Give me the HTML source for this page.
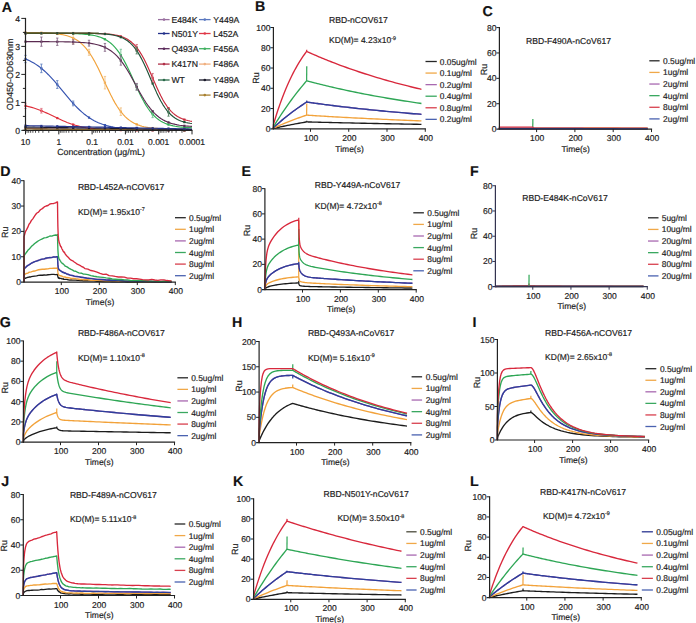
<!DOCTYPE html>
<html><head><meta charset="utf-8"><style>
html,body{margin:0;padding:0;background:#fff;width:696px;height:623px;overflow:hidden}
svg{display:block;font-family:"Liberation Sans", sans-serif;text-rendering:geometricPrecision}
text{stroke:#222;stroke-width:0.18px}
</style></head><body>
<svg width="696" height="623" viewBox="0 0 696 623">
<rect width="696" height="623" fill="#fff"/>
<text x="1.8" y="11.9" font-size="14.2" text-anchor="start" font-weight="bold" fill="#111" >A</text>
<polyline points="25.5,105.87 27.58,106.33 29.66,106.84 31.74,107.4 33.83,108.02 35.91,108.7 37.99,109.43 40.07,110.21 42.15,111.05 44.23,111.93 46.31,112.85 48.39,113.81 50.47,114.8 52.56,115.8 54.64,116.8 56.72,117.81 58.8,118.79 60.88,119.76 62.96,120.69 65.04,121.58 67.12,122.43 69.21,123.22 71.29,123.96 73.37,124.65 75.45,125.28 77.53,125.85 79.61,126.38 81.69,126.85 83.77,127.27 85.86,127.65 87.94,127.98 90.02,128.28 92.1,128.55 94.18,128.78 96.26,128.99 98.34,129.17 100.42,129.33 102.51,129.47 104.59,129.59 106.67,129.69 108.75,129.79 110.83,129.87 112.91,129.94 114.99,130 117.07,130.05 119.16,130.1 121.24,130.14 123.32,130.17 125.4,130.2 127.48,130.23 129.56,130.25 131.64,130.27 133.72,130.29 135.81,130.3 137.89,130.32 139.97,130.33 142.05,130.34 144.13,130.35 146.21,130.35 148.29,130.36 150.38,130.36 152.46,130.37 154.54,130.37 156.62,130.38 158.7,130.38 160.78,130.38 162.86,130.39 164.94,130.39 167.02,130.39 169.11,130.39 171.19,130.39 173.27,130.39 175.35,130.39 177.43,130.39 179.51,130.4 181.59,130.4 183.67,130.4 185.76,130.4 187.84,130.4 189.92,130.4 192,130.4" fill="none" stroke="#e0303c" stroke-width="1.15" stroke-linejoin="round" />
<polyline points="25.5,59.01 27.58,59.88 29.66,60.85 31.74,61.92 33.83,63.09 35.91,64.38 37.99,65.8 40.07,67.33 42.15,68.99 44.23,70.78 46.31,72.69 48.39,74.72 50.47,76.87 52.56,79.12 54.64,81.46 56.72,83.87 58.8,86.35 60.88,88.87 62.96,91.4 65.04,93.94 67.12,96.45 69.21,98.92 71.29,101.32 73.37,103.65 75.45,105.88 77.53,108.01 79.61,110.02 81.69,111.92 83.77,113.68 85.86,115.32 87.94,116.84 90.02,118.23 92.1,119.5 94.18,120.66 96.26,121.71 98.34,122.67 100.42,123.52 102.51,124.29 104.59,124.98 106.67,125.6 108.75,126.15 110.83,126.64 112.91,127.08 114.99,127.47 117.07,127.81 119.16,128.12 121.24,128.39 123.32,128.63 125.4,128.84 127.48,129.02 129.56,129.19 131.64,129.33 133.72,129.46 135.81,129.57 137.89,129.67 139.97,129.76 142.05,129.84 144.13,129.91 146.21,129.97 148.29,130.02 150.38,130.06 152.46,130.11 154.54,130.14 156.62,130.17 158.7,130.2 160.78,130.22 162.86,130.25 164.94,130.26 167.02,130.28 169.11,130.3 171.19,130.31 173.27,130.32 175.35,130.33 177.43,130.34 179.51,130.35 181.59,130.35 183.67,130.36 185.76,130.36 187.84,130.37 189.92,130.37 192,130.37" fill="none" stroke="#3553b0" stroke-width="1.15" stroke-linejoin="round" />
<polyline points="25.5,32.48 27.58,32.5 29.66,32.52 31.74,32.54 33.83,32.57 35.91,32.61 37.99,32.65 40.07,32.71 42.15,32.77 44.23,32.84 46.31,32.93 48.39,33.04 50.47,33.18 52.56,33.33 54.64,33.52 56.72,33.75 58.8,34.03 60.88,34.35 62.96,34.74 65.04,35.21 67.12,35.77 69.21,36.44 71.29,37.23 73.37,38.16 75.45,39.26 77.53,40.55 79.61,42.06 81.69,43.82 83.77,45.84 85.86,48.15 87.94,50.78 90.02,53.73 92.1,57 94.18,60.59 96.26,64.47 98.34,68.6 100.42,72.94 102.51,77.4 104.59,81.93 106.67,86.43 108.75,90.84 110.83,95.09 112.91,99.1 114.99,102.85 117.07,106.29 119.16,109.41 121.24,112.2 123.32,114.67 125.4,116.85 127.48,118.74 129.56,120.37 131.64,121.77 133.72,122.97 135.81,123.99 137.89,124.85 139.97,125.58 142.05,126.19 144.13,126.7 146.21,127.13 148.29,127.49 150.38,127.79 152.46,128.04 154.54,128.25 156.62,128.43 158.7,128.57 160.78,128.69 162.86,128.79 164.94,128.87 167.02,128.94 169.11,129 171.19,129.05 173.27,129.09 175.35,129.12 177.43,129.15 179.51,129.17 181.59,129.19 183.67,129.2 185.76,129.22 187.84,129.23 189.92,129.24 192,129.24" fill="none" stroke="#f2a23a" stroke-width="1.15" stroke-linejoin="round" />
<polyline points="25.5,33.24 27.58,33.24 29.66,33.25 31.74,33.25 33.83,33.25 35.91,33.25 37.99,33.25 40.07,33.26 42.15,33.26 44.23,33.26 46.31,33.27 48.39,33.27 50.47,33.28 52.56,33.29 54.64,33.3 56.72,33.31 58.8,33.33 60.88,33.35 62.96,33.37 65.04,33.4 67.12,33.43 69.21,33.47 71.29,33.52 73.37,33.58 75.45,33.65 77.53,33.74 79.61,33.84 81.69,33.97 83.77,34.13 85.86,34.32 87.94,34.54 90.02,34.82 92.1,35.15 94.18,35.55 96.26,36.03 98.34,36.61 100.42,37.3 102.51,38.12 104.59,39.11 106.67,40.27 108.75,41.65 110.83,43.26 112.91,45.14 114.99,47.31 117.07,49.8 119.16,52.63 121.24,55.8 123.32,59.31 125.4,63.13 127.48,67.25 129.56,71.59 131.64,76.1 133.72,80.7 135.81,85.3 137.89,89.81 139.97,94.15 142.05,98.27 144.13,102.09 146.21,105.6 148.29,108.77 150.38,111.6 152.46,114.09 154.54,116.26 156.62,118.14 158.7,119.75 160.78,121.13 162.86,122.29 164.94,123.28 167.02,124.1 169.11,124.79 171.19,125.37 173.27,125.85 175.35,126.25 177.43,126.58 179.51,126.86 181.59,127.08 183.67,127.27 185.76,127.43 187.84,127.56 189.92,127.66 192,127.75" fill="none" stroke="#2fae55" stroke-width="1.15" stroke-linejoin="round" />
<polyline points="25.5,41.65 27.58,41.65 29.66,41.65 31.74,41.65 33.83,41.65 35.91,41.66 37.99,41.66 40.07,41.66 42.15,41.67 44.23,41.67 46.31,41.68 48.39,41.69 50.47,41.7 52.56,41.71 54.64,41.72 56.72,41.74 58.8,41.75 60.88,41.78 62.96,41.8 65.04,41.83 67.12,41.87 69.21,41.92 71.29,41.97 73.37,42.04 75.45,42.12 77.53,42.21 79.61,42.32 81.69,42.46 83.77,42.61 85.86,42.8 87.94,43.03 90.02,43.3 92.1,43.62 94.18,44 96.26,44.45 98.34,44.98 100.42,45.61 102.51,46.34 104.59,47.21 106.67,48.22 108.75,49.4 110.83,50.77 112.91,52.34 114.99,54.14 117.07,56.19 119.16,58.49 121.24,61.06 123.32,63.89 125.4,66.97 127.48,70.29 129.56,73.81 131.64,77.49 133.72,81.27 135.81,85.11 137.89,88.93 139.97,92.68 142.05,96.3 144.13,99.74 146.21,102.97 148.29,105.96 150.38,108.68 152.46,111.14 154.54,113.34 156.62,115.28 158.7,116.99 160.78,118.48 162.86,119.77 164.94,120.88 167.02,121.83 169.11,122.65 171.19,123.34 173.27,123.93 175.35,124.42 177.43,124.84 179.51,125.2 181.59,125.49 183.67,125.74 185.76,125.96 187.84,126.13 189.92,126.28 192,126.4" fill="none" stroke="#5a2a50" stroke-width="1.15" stroke-linejoin="round" />
<polyline points="25.5,33.24 27.58,33.24 29.66,33.24 31.74,33.24 33.83,33.24 35.91,33.24 37.99,33.24 40.07,33.24 42.15,33.24 44.23,33.24 46.31,33.24 48.39,33.24 50.47,33.24 52.56,33.24 54.64,33.24 56.72,33.24 58.8,33.25 60.88,33.25 62.96,33.25 65.04,33.25 67.12,33.25 69.21,33.26 71.29,33.26 73.37,33.26 75.45,33.27 77.53,33.28 79.61,33.29 81.69,33.3 83.77,33.31 85.86,33.33 87.94,33.35 90.02,33.37 92.1,33.41 94.18,33.45 96.26,33.5 98.34,33.56 100.42,33.63 102.51,33.73 104.59,33.85 106.67,33.99 108.75,34.17 110.83,34.39 112.91,34.66 114.99,35 117.07,35.41 119.16,35.92 121.24,36.54 123.32,37.3 125.4,38.22 127.48,39.34 129.56,40.69 131.64,42.3 133.72,44.22 135.81,46.47 137.89,49.1 139.97,52.11 142.05,55.53 144.13,59.34 146.21,63.5 148.29,67.96 150.38,72.65 152.46,77.46 154.54,82.28 156.62,87.01 158.7,91.53 160.78,95.78 162.86,99.67 164.94,103.18 167.02,106.3 169.11,109.01 171.19,111.35 173.27,113.35 175.35,115.03 177.43,116.44 179.51,117.61 181.59,118.58 183.67,119.37 185.76,120.02 187.84,120.56 189.92,120.99 192,121.34" fill="none" stroke="#c8283a" stroke-width="1.15" stroke-linejoin="round" />
<polyline points="25.5,33.24 27.58,33.24 29.66,33.24 31.74,33.24 33.83,33.24 35.91,33.24 37.99,33.24 40.07,33.24 42.15,33.24 44.23,33.24 46.31,33.24 48.39,33.24 50.47,33.24 52.56,33.24 54.64,33.24 56.72,33.25 58.8,33.25 60.88,33.25 62.96,33.25 65.04,33.25 67.12,33.26 69.21,33.26 71.29,33.26 73.37,33.27 75.45,33.28 77.53,33.29 79.61,33.3 81.69,33.31 83.77,33.33 85.86,33.35 87.94,33.38 90.02,33.41 92.1,33.45 94.18,33.5 96.26,33.56 98.34,33.64 100.42,33.73 102.51,33.85 104.59,34 106.67,34.18 108.75,34.4 110.83,34.68 112.91,35.02 114.99,35.44 117.07,35.95 119.16,36.58 121.24,37.35 123.32,38.29 125.4,39.42 127.48,40.79 129.56,42.43 131.64,44.37 133.72,46.66 135.81,49.33 137.89,52.39 139.97,55.87 142.05,59.74 144.13,63.98 146.21,68.54 148.29,73.32 150.38,78.23 152.46,83.16 154.54,87.99 156.62,92.63 158.7,96.98 160.78,100.97 162.86,104.58 164.94,107.77 167.02,110.57 169.11,112.97 171.19,115.02 173.27,116.76 175.35,118.2 177.43,119.41 179.51,120.41 181.59,121.23 183.67,121.9 185.76,122.45 187.84,122.89 189.92,123.26 192,123.55" fill="none" stroke="#1f5238" stroke-width="1.15" stroke-linejoin="round" />
<polyline points="25.5,128.44 27.58,128.46 29.66,128.49 31.74,128.51 33.83,128.54 35.91,128.56 37.99,128.59 40.07,128.61 42.15,128.64 44.23,128.66 46.31,128.69 48.39,128.71 50.47,128.73 52.56,128.76 54.64,128.78 56.72,128.81 58.8,128.83 60.88,128.86 62.96,128.88 65.04,128.91 67.12,128.93 69.21,128.95 71.29,128.98 73.37,129 75.45,129.03 77.53,129.05 79.61,129.08 81.69,129.1 83.77,129.13 85.86,129.15 87.94,129.18 90.02,129.2 92.1,129.22 94.18,129.25 96.26,129.27 98.34,129.3 100.42,129.32 102.51,129.35 104.59,129.37 106.67,129.4 108.75,129.42 110.83,129.44 112.91,129.47 114.99,129.49 117.07,129.52 119.16,129.54 121.24,129.57 123.32,129.59 125.4,129.62 127.48,129.64 129.56,129.66 131.64,129.69 133.72,129.71 135.81,129.74 137.89,129.76 139.97,129.79 142.05,129.81 144.13,129.84 146.21,129.86 148.29,129.89 150.38,129.91 152.46,129.93 154.54,129.96 156.62,129.98 158.7,130.01 160.78,130.03 162.86,130.06 164.94,130.08 167.02,130.11 169.11,130.13 171.19,130.16 173.27,130.18 175.35,130.2 177.43,130.23 179.51,130.25 181.59,130.28 183.67,130.3 185.76,130.33 187.84,130.35 189.92,130.38 192,130.4" fill="none" stroke="#5a3a5a" stroke-width="1.15" stroke-linejoin="round" />
<polyline points="25.5,129 27.58,129.02 29.66,129.03 31.74,129.05 33.83,129.07 35.91,129.09 37.99,129.11 40.07,129.12 42.15,129.14 44.23,129.16 46.31,129.18 48.39,129.19 50.47,129.21 52.56,129.23 54.64,129.25 56.72,129.26 58.8,129.28 60.88,129.3 62.96,129.31 65.04,129.33 67.12,129.35 69.21,129.37 71.29,129.39 73.37,129.4 75.45,129.42 77.53,129.44 79.61,129.46 81.69,129.47 83.77,129.49 85.86,129.51 87.94,129.53 90.02,129.54 92.1,129.56 94.18,129.58 96.26,129.59 98.34,129.61 100.42,129.63 102.51,129.65 104.59,129.66 106.67,129.68 108.75,129.7 110.83,129.72 112.91,129.74 114.99,129.75 117.07,129.77 119.16,129.79 121.24,129.81 123.32,129.82 125.4,129.84 127.48,129.86 129.56,129.88 131.64,129.89 133.72,129.91 135.81,129.93 137.89,129.94 139.97,129.96 142.05,129.98 144.13,130 146.21,130.02 148.29,130.03 150.38,130.05 152.46,130.07 154.54,130.09 156.62,130.1 158.7,130.12 160.78,130.14 162.86,130.16 164.94,130.17 167.02,130.19 169.11,130.21 171.19,130.22 173.27,130.24 175.35,130.26 177.43,130.28 179.51,130.3 181.59,130.31 183.67,130.33 185.76,130.35 187.84,130.37 189.92,130.38 192,130.4" fill="none" stroke="#a07828" stroke-width="1.15" stroke-linejoin="round" />
<polyline points="25.5,127.04 27.58,127.07 29.66,127.1 31.74,127.13 33.83,127.17 35.91,127.2 37.99,127.23 40.07,127.26 42.15,127.29 44.23,127.32 46.31,127.36 48.39,127.39 50.47,127.42 52.56,127.45 54.64,127.48 56.72,127.51 58.8,127.54 60.88,127.58 62.96,127.61 65.04,127.64 67.12,127.67 69.21,127.7 71.29,127.73 73.37,127.76 75.45,127.8 77.53,127.83 79.61,127.86 81.69,127.89 83.77,127.92 85.86,127.95 87.94,127.98 90.02,128.02 92.1,128.05 94.18,128.08 96.26,128.11 98.34,128.14 100.42,128.17 102.51,128.21 104.59,128.24 106.67,128.27 108.75,128.3 110.83,128.33 112.91,128.36 114.99,128.39 117.07,128.43 119.16,128.46 121.24,128.49 123.32,128.52 125.4,128.55 127.48,128.58 129.56,128.62 131.64,128.65 133.72,128.68 135.81,128.71 137.89,128.74 139.97,128.77 142.05,128.8 144.13,128.84 146.21,128.87 148.29,128.9 150.38,128.93 152.46,128.96 154.54,128.99 156.62,129.02 158.7,129.06 160.78,129.09 162.86,129.12 164.94,129.15 167.02,129.18 169.11,129.21 171.19,129.25 173.27,129.28 175.35,129.31 177.43,129.34 179.51,129.37 181.59,129.4 183.67,129.43 185.76,129.47 187.84,129.5 189.92,129.53 192,129.56" fill="none" stroke="#1a1a30" stroke-width="1.15" stroke-linejoin="round" />
<polyline points="25.5,125.64 27.58,125.68 29.66,125.72 31.74,125.77 33.83,125.81 35.91,125.85 37.99,125.89 40.07,125.93 42.15,125.98 44.23,126.02 46.31,126.06 48.39,126.1 50.47,126.14 52.56,126.19 54.64,126.23 56.72,126.27 58.8,126.31 60.88,126.35 62.96,126.4 65.04,126.44 67.12,126.48 69.21,126.52 71.29,126.56 73.37,126.61 75.45,126.65 77.53,126.69 79.61,126.73 81.69,126.77 83.77,126.82 85.86,126.86 87.94,126.9 90.02,126.94 92.1,126.98 94.18,127.03 96.26,127.07 98.34,127.11 100.42,127.15 102.51,127.19 104.59,127.24 106.67,127.28 108.75,127.32 110.83,127.36 112.91,127.4 114.99,127.45 117.07,127.49 119.16,127.53 121.24,127.57 123.32,127.61 125.4,127.66 127.48,127.7 129.56,127.74 131.64,127.78 133.72,127.82 135.81,127.87 137.89,127.91 139.97,127.95 142.05,127.99 144.13,128.03 146.21,128.08 148.29,128.12 150.38,128.16 152.46,128.2 154.54,128.24 156.62,128.29 158.7,128.33 160.78,128.37 162.86,128.41 164.94,128.45 167.02,128.5 169.11,128.54 171.19,128.58 173.27,128.62 175.35,128.66 177.43,128.71 179.51,128.75 181.59,128.79 183.67,128.83 185.76,128.87 187.84,128.92 189.92,128.96 192,129" fill="none" stroke="#26358e" stroke-width="1.15" stroke-linejoin="round" />
<polyline points="25.5,33.24 98.76,33.24" fill="none" stroke="#4b5226" stroke-width="1.5" stroke-linejoin="round" />
<rect x="24.4" y="104.77" width="2.2" height="2.2" fill="#e0303c"/>
<line x1="25.5" y1="103.19" x2="25.5" y2="108.54" stroke="#e07080" stroke-width="0.9" />
<line x1="24.3" y1="103.19" x2="26.7" y2="103.19" stroke="#e07080" stroke-width="0.8" />
<line x1="24.3" y1="108.54" x2="26.7" y2="108.54" stroke="#e07080" stroke-width="0.8" />
<rect x="40.29" y="109.63" width="2.2" height="2.2" fill="#e0303c"/>
<line x1="41.39" y1="108.41" x2="41.39" y2="113.06" stroke="#e07080" stroke-width="0.9" />
<line x1="40.19" y1="108.41" x2="42.59" y2="108.41" stroke="#e07080" stroke-width="0.8" />
<line x1="40.19" y1="113.06" x2="42.59" y2="113.06" stroke="#e07080" stroke-width="0.8" />
<rect x="56.18" y="116.97" width="2.2" height="2.2" fill="#e0303c"/>
<rect x="72.06" y="123.48" width="2.2" height="2.2" fill="#e0303c"/>
<rect x="87.95" y="127.05" width="2.2" height="2.2" fill="#e0303c"/>
<rect x="103.84" y="128.51" width="2.2" height="2.2" fill="#e0303c"/>
<rect x="119.73" y="129.03" width="2.2" height="2.2" fill="#e0303c"/>
<rect x="135.62" y="129.21" width="2.2" height="2.2" fill="#e0303c"/>
<rect x="151.51" y="129.27" width="2.2" height="2.2" fill="#e0303c"/>
<rect x="167.39" y="129.29" width="2.2" height="2.2" fill="#e0303c"/>
<rect x="183.28" y="129.3" width="2.2" height="2.2" fill="#e0303c"/>
<rect x="24.4" y="57.91" width="2.2" height="2.2" fill="#3553b0"/>
<line x1="25.5" y1="55.36" x2="25.5" y2="62.65" stroke="#6080c0" stroke-width="0.9" />
<line x1="24.3" y1="55.36" x2="26.7" y2="55.36" stroke="#6080c0" stroke-width="0.8" />
<line x1="24.3" y1="62.65" x2="26.7" y2="62.65" stroke="#6080c0" stroke-width="0.8" />
<rect x="40.29" y="67.27" width="2.2" height="2.2" fill="#3553b0"/>
<line x1="41.39" y1="64.09" x2="41.39" y2="72.65" stroke="#6080c0" stroke-width="0.9" />
<line x1="40.19" y1="64.09" x2="42.59" y2="64.09" stroke="#6080c0" stroke-width="0.8" />
<line x1="40.19" y1="72.65" x2="42.59" y2="72.65" stroke="#6080c0" stroke-width="0.8" />
<rect x="56.18" y="83.43" width="2.2" height="2.2" fill="#3553b0"/>
<line x1="57.28" y1="80.58" x2="57.28" y2="88.48" stroke="#6080c0" stroke-width="0.9" />
<line x1="56.08" y1="80.58" x2="58.48" y2="80.58" stroke="#6080c0" stroke-width="0.8" />
<line x1="56.08" y1="88.48" x2="58.48" y2="88.48" stroke="#6080c0" stroke-width="0.8" />
<rect x="72.06" y="102.33" width="2.2" height="2.2" fill="#3553b0"/>
<line x1="73.16" y1="101.02" x2="73.16" y2="105.83" stroke="#6080c0" stroke-width="0.9" />
<line x1="71.96" y1="101.02" x2="74.36" y2="101.02" stroke="#6080c0" stroke-width="0.8" />
<line x1="71.96" y1="105.83" x2="74.36" y2="105.83" stroke="#6080c0" stroke-width="0.8" />
<rect x="87.95" y="116.5" width="2.2" height="2.2" fill="#3553b0"/>
<rect x="103.84" y="123.99" width="2.2" height="2.2" fill="#3553b0"/>
<rect x="119.73" y="127.24" width="2.2" height="2.2" fill="#3553b0"/>
<rect x="135.62" y="128.52" width="2.2" height="2.2" fill="#3553b0"/>
<rect x="151.51" y="129.01" width="2.2" height="2.2" fill="#3553b0"/>
<rect x="167.39" y="129.19" width="2.2" height="2.2" fill="#3553b0"/>
<rect x="183.28" y="129.26" width="2.2" height="2.2" fill="#3553b0"/>
<rect x="24.4" y="31.38" width="2.2" height="2.2" fill="#f2a23a"/>
<rect x="40.29" y="31.64" width="2.2" height="2.2" fill="#f2a23a"/>
<rect x="56.18" y="32.72" width="2.2" height="2.2" fill="#f2a23a"/>
<rect x="72.06" y="36.96" width="2.2" height="2.2" fill="#f2a23a"/>
<line x1="73.16" y1="32.34" x2="73.16" y2="43.78" stroke="#f0c080" stroke-width="0.9" />
<line x1="71.96" y1="32.34" x2="74.36" y2="32.34" stroke="#f0c080" stroke-width="0.8" />
<line x1="71.96" y1="43.78" x2="74.36" y2="43.78" stroke="#f0c080" stroke-width="0.8" />
<rect x="87.95" y="51.22" width="2.2" height="2.2" fill="#f2a23a"/>
<line x1="89.05" y1="49.32" x2="89.05" y2="55.32" stroke="#f0c080" stroke-width="0.9" />
<line x1="87.85" y1="49.32" x2="90.25" y2="49.32" stroke="#f0c080" stroke-width="0.8" />
<line x1="87.85" y1="55.32" x2="90.25" y2="55.32" stroke="#f0c080" stroke-width="0.8" />
<rect x="103.84" y="81.6" width="2.2" height="2.2" fill="#f2a23a"/>
<line x1="104.94" y1="76.43" x2="104.94" y2="88.96" stroke="#f0c080" stroke-width="0.9" />
<line x1="103.74" y1="76.43" x2="106.14" y2="76.43" stroke="#f0c080" stroke-width="0.8" />
<line x1="103.74" y1="88.96" x2="106.14" y2="88.96" stroke="#f0c080" stroke-width="0.8" />
<rect x="119.73" y="110.58" width="2.2" height="2.2" fill="#f2a23a"/>
<line x1="120.83" y1="107.89" x2="120.83" y2="115.46" stroke="#f0c080" stroke-width="0.9" />
<line x1="119.63" y1="107.89" x2="122.03" y2="107.89" stroke="#f0c080" stroke-width="0.8" />
<line x1="119.63" y1="115.46" x2="122.03" y2="115.46" stroke="#f0c080" stroke-width="0.8" />
<rect x="135.62" y="123.28" width="2.2" height="2.2" fill="#f2a23a"/>
<rect x="151.51" y="126.96" width="2.2" height="2.2" fill="#f2a23a"/>
<rect x="167.39" y="127.88" width="2.2" height="2.2" fill="#f2a23a"/>
<rect x="183.28" y="128.11" width="2.2" height="2.2" fill="#f2a23a"/>
<rect x="24.4" y="32.14" width="2.2" height="2.2" fill="#2fae55"/>
<rect x="40.29" y="32.16" width="2.2" height="2.2" fill="#2fae55"/>
<rect x="56.18" y="32.22" width="2.2" height="2.2" fill="#2fae55"/>
<rect x="72.06" y="32.47" width="2.2" height="2.2" fill="#2fae55"/>
<rect x="87.95" y="33.58" width="2.2" height="2.2" fill="#2fae55"/>
<rect x="103.84" y="38.19" width="2.2" height="2.2" fill="#2fae55"/>
<rect x="119.73" y="54.05" width="2.2" height="2.2" fill="#2fae55"/>
<line x1="120.83" y1="49.28" x2="120.83" y2="61.01" stroke="#70c090" stroke-width="0.9" />
<line x1="119.63" y1="49.28" x2="122.03" y2="49.28" stroke="#70c090" stroke-width="0.8" />
<line x1="119.63" y1="61.01" x2="122.03" y2="61.01" stroke="#70c090" stroke-width="0.8" />
<rect x="135.62" y="86.18" width="2.2" height="2.2" fill="#2fae55"/>
<line x1="136.72" y1="84.64" x2="136.72" y2="89.93" stroke="#70c090" stroke-width="0.9" />
<line x1="135.52" y1="84.64" x2="137.92" y2="84.64" stroke="#70c090" stroke-width="0.8" />
<line x1="135.52" y1="89.93" x2="137.92" y2="89.93" stroke="#70c090" stroke-width="0.8" />
<rect x="151.51" y="113.16" width="2.2" height="2.2" fill="#2fae55"/>
<line x1="152.61" y1="110.87" x2="152.61" y2="117.64" stroke="#70c090" stroke-width="0.9" />
<line x1="151.41" y1="110.87" x2="153.81" y2="110.87" stroke="#70c090" stroke-width="0.8" />
<line x1="151.41" y1="117.64" x2="153.81" y2="117.64" stroke="#70c090" stroke-width="0.8" />
<rect x="167.39" y="123.5" width="2.2" height="2.2" fill="#2fae55"/>
<rect x="183.28" y="126.23" width="2.2" height="2.2" fill="#2fae55"/>
<rect x="24.4" y="40.55" width="2.2" height="2.2" fill="#5a2a50"/>
<rect x="40.29" y="40.57" width="2.2" height="2.2" fill="#5a2a50"/>
<line x1="41.39" y1="37.05" x2="41.39" y2="46.28" stroke="#806080" stroke-width="0.9" />
<line x1="40.19" y1="37.05" x2="42.59" y2="37.05" stroke="#806080" stroke-width="0.8" />
<line x1="40.19" y1="46.28" x2="42.59" y2="46.28" stroke="#806080" stroke-width="0.8" />
<rect x="56.18" y="40.64" width="2.2" height="2.2" fill="#5a2a50"/>
<line x1="57.28" y1="38.06" x2="57.28" y2="45.42" stroke="#806080" stroke-width="0.9" />
<line x1="56.08" y1="38.06" x2="58.48" y2="38.06" stroke="#806080" stroke-width="0.8" />
<line x1="56.08" y1="45.42" x2="58.48" y2="45.42" stroke="#806080" stroke-width="0.8" />
<rect x="72.06" y="40.93" width="2.2" height="2.2" fill="#5a2a50"/>
<line x1="73.16" y1="39.75" x2="73.16" y2="44.31" stroke="#806080" stroke-width="0.9" />
<line x1="71.96" y1="39.75" x2="74.36" y2="39.75" stroke="#806080" stroke-width="0.8" />
<line x1="71.96" y1="44.31" x2="74.36" y2="44.31" stroke="#806080" stroke-width="0.8" />
<rect x="87.95" y="42.07" width="2.2" height="2.2" fill="#5a2a50"/>
<line x1="89.05" y1="40.24" x2="89.05" y2="46.1" stroke="#806080" stroke-width="0.9" />
<line x1="87.85" y1="40.24" x2="90.25" y2="40.24" stroke="#806080" stroke-width="0.8" />
<line x1="87.85" y1="46.1" x2="90.25" y2="46.1" stroke="#806080" stroke-width="0.8" />
<rect x="103.84" y="46.27" width="2.2" height="2.2" fill="#5a2a50"/>
<line x1="104.94" y1="43.45" x2="104.94" y2="51.3" stroke="#806080" stroke-width="0.9" />
<line x1="103.74" y1="43.45" x2="106.14" y2="43.45" stroke="#806080" stroke-width="0.8" />
<line x1="103.74" y1="51.3" x2="106.14" y2="51.3" stroke="#806080" stroke-width="0.8" />
<rect x="119.73" y="59.43" width="2.2" height="2.2" fill="#5a2a50"/>
<line x1="120.83" y1="55.9" x2="120.83" y2="65.17" stroke="#806080" stroke-width="0.9" />
<line x1="119.63" y1="55.9" x2="122.03" y2="55.9" stroke="#806080" stroke-width="0.8" />
<line x1="119.63" y1="65.17" x2="122.03" y2="65.17" stroke="#806080" stroke-width="0.8" />
<rect x="135.62" y="85.69" width="2.2" height="2.2" fill="#5a2a50"/>
<line x1="136.72" y1="83.44" x2="136.72" y2="90.13" stroke="#806080" stroke-width="0.9" />
<line x1="135.52" y1="83.44" x2="137.92" y2="83.44" stroke="#806080" stroke-width="0.8" />
<line x1="135.52" y1="90.13" x2="137.92" y2="90.13" stroke="#806080" stroke-width="0.8" />
<rect x="151.51" y="110.21" width="2.2" height="2.2" fill="#5a2a50"/>
<rect x="167.39" y="121.32" width="2.2" height="2.2" fill="#5a2a50"/>
<rect x="183.28" y="124.72" width="2.2" height="2.2" fill="#5a2a50"/>
<rect x="24.4" y="32.14" width="2.2" height="2.2" fill="#c8283a"/>
<rect x="40.29" y="32.14" width="2.2" height="2.2" fill="#c8283a"/>
<rect x="56.18" y="32.14" width="2.2" height="2.2" fill="#c8283a"/>
<rect x="72.06" y="32.16" width="2.2" height="2.2" fill="#c8283a"/>
<rect x="87.95" y="32.26" width="2.2" height="2.2" fill="#c8283a"/>
<rect x="103.84" y="32.77" width="2.2" height="2.2" fill="#c8283a"/>
<rect x="119.73" y="35.31" width="2.2" height="2.2" fill="#c8283a"/>
<rect x="135.62" y="46.47" width="2.2" height="2.2" fill="#c8283a"/>
<line x1="136.72" y1="44.48" x2="136.72" y2="50.67" stroke="#d06070" stroke-width="0.9" />
<line x1="135.52" y1="44.48" x2="137.92" y2="44.48" stroke="#d06070" stroke-width="0.8" />
<line x1="135.52" y1="50.67" x2="137.92" y2="50.67" stroke="#d06070" stroke-width="0.8" />
<rect x="151.51" y="76.71" width="2.2" height="2.2" fill="#c8283a"/>
<line x1="152.61" y1="73.44" x2="152.61" y2="82.17" stroke="#d06070" stroke-width="0.9" />
<line x1="151.41" y1="73.44" x2="153.81" y2="73.44" stroke="#d06070" stroke-width="0.8" />
<line x1="151.41" y1="82.17" x2="153.81" y2="82.17" stroke="#d06070" stroke-width="0.8" />
<rect x="167.39" y="107.15" width="2.2" height="2.2" fill="#c8283a"/>
<rect x="183.28" y="118.51" width="2.2" height="2.2" fill="#c8283a"/>
<rect x="24.4" y="32.14" width="2.2" height="2.2" fill="#1f5238"/>
<rect x="40.29" y="32.14" width="2.2" height="2.2" fill="#1f5238"/>
<rect x="56.18" y="32.15" width="2.2" height="2.2" fill="#1f5238"/>
<rect x="72.06" y="32.17" width="2.2" height="2.2" fill="#1f5238"/>
<rect x="87.95" y="32.29" width="2.2" height="2.2" fill="#1f5238"/>
<rect x="103.84" y="32.93" width="2.2" height="2.2" fill="#1f5238"/>
<rect x="119.73" y="36.09" width="2.2" height="2.2" fill="#1f5238"/>
<rect x="135.62" y="49.52" width="2.2" height="2.2" fill="#1f5238"/>
<line x1="136.72" y1="47.32" x2="136.72" y2="53.92" stroke="#508060" stroke-width="0.9" />
<line x1="135.52" y1="47.32" x2="137.92" y2="47.32" stroke="#508060" stroke-width="0.8" />
<line x1="135.52" y1="53.92" x2="137.92" y2="53.92" stroke="#508060" stroke-width="0.8" />
<rect x="151.51" y="82.41" width="2.2" height="2.2" fill="#1f5238"/>
<rect x="167.39" y="111.2" width="2.2" height="2.2" fill="#1f5238"/>
<line x1="168.49" y1="108.42" x2="168.49" y2="116.18" stroke="#508060" stroke-width="0.9" />
<line x1="167.29" y1="108.42" x2="169.69" y2="108.42" stroke="#508060" stroke-width="0.8" />
<line x1="167.29" y1="116.18" x2="169.69" y2="116.18" stroke="#508060" stroke-width="0.8" />
<rect x="183.28" y="121" width="2.2" height="2.2" fill="#1f5238"/>
<rect x="24.4" y="127.34" width="2.2" height="2.2" fill="#5a3a5a"/>
<rect x="40.29" y="127.53" width="2.2" height="2.2" fill="#5a3a5a"/>
<rect x="56.18" y="127.71" width="2.2" height="2.2" fill="#5a3a5a"/>
<rect x="72.06" y="127.9" width="2.2" height="2.2" fill="#5a3a5a"/>
<rect x="87.95" y="128.09" width="2.2" height="2.2" fill="#5a3a5a"/>
<rect x="103.84" y="128.28" width="2.2" height="2.2" fill="#5a3a5a"/>
<rect x="119.73" y="128.46" width="2.2" height="2.2" fill="#5a3a5a"/>
<rect x="135.62" y="128.65" width="2.2" height="2.2" fill="#5a3a5a"/>
<rect x="151.51" y="128.84" width="2.2" height="2.2" fill="#5a3a5a"/>
<rect x="167.39" y="129.02" width="2.2" height="2.2" fill="#5a3a5a"/>
<rect x="183.28" y="129.21" width="2.2" height="2.2" fill="#5a3a5a"/>
<rect x="24.4" y="127.9" width="2.2" height="2.2" fill="#a07828"/>
<rect x="40.29" y="128.03" width="2.2" height="2.2" fill="#a07828"/>
<rect x="56.18" y="128.17" width="2.2" height="2.2" fill="#a07828"/>
<rect x="72.06" y="128.3" width="2.2" height="2.2" fill="#a07828"/>
<rect x="87.95" y="128.43" width="2.2" height="2.2" fill="#a07828"/>
<rect x="103.84" y="128.57" width="2.2" height="2.2" fill="#a07828"/>
<rect x="119.73" y="128.7" width="2.2" height="2.2" fill="#a07828"/>
<rect x="135.62" y="128.84" width="2.2" height="2.2" fill="#a07828"/>
<rect x="151.51" y="128.97" width="2.2" height="2.2" fill="#a07828"/>
<rect x="167.39" y="129.1" width="2.2" height="2.2" fill="#a07828"/>
<rect x="183.28" y="129.24" width="2.2" height="2.2" fill="#a07828"/>
<rect x="24.4" y="125.94" width="2.2" height="2.2" fill="#1a1a30"/>
<rect x="40.29" y="126.18" width="2.2" height="2.2" fill="#1a1a30"/>
<rect x="56.18" y="126.42" width="2.2" height="2.2" fill="#1a1a30"/>
<rect x="72.06" y="126.66" width="2.2" height="2.2" fill="#1a1a30"/>
<rect x="87.95" y="126.9" width="2.2" height="2.2" fill="#1a1a30"/>
<rect x="103.84" y="127.14" width="2.2" height="2.2" fill="#1a1a30"/>
<rect x="119.73" y="127.38" width="2.2" height="2.2" fill="#1a1a30"/>
<rect x="135.62" y="127.62" width="2.2" height="2.2" fill="#1a1a30"/>
<rect x="151.51" y="127.86" width="2.2" height="2.2" fill="#1a1a30"/>
<rect x="167.39" y="128.1" width="2.2" height="2.2" fill="#1a1a30"/>
<rect x="183.28" y="128.34" width="2.2" height="2.2" fill="#1a1a30"/>
<rect x="24.4" y="124.54" width="2.2" height="2.2" fill="#26358e"/>
<rect x="40.29" y="124.86" width="2.2" height="2.2" fill="#26358e"/>
<rect x="56.18" y="125.18" width="2.2" height="2.2" fill="#26358e"/>
<rect x="72.06" y="125.5" width="2.2" height="2.2" fill="#26358e"/>
<rect x="87.95" y="125.82" width="2.2" height="2.2" fill="#26358e"/>
<rect x="103.84" y="126.14" width="2.2" height="2.2" fill="#26358e"/>
<rect x="119.73" y="126.46" width="2.2" height="2.2" fill="#26358e"/>
<rect x="135.62" y="126.78" width="2.2" height="2.2" fill="#26358e"/>
<rect x="151.51" y="127.11" width="2.2" height="2.2" fill="#26358e"/>
<rect x="167.39" y="127.43" width="2.2" height="2.2" fill="#26358e"/>
<rect x="183.28" y="127.75" width="2.2" height="2.2" fill="#26358e"/>
<line x1="25.5" y1="17.9" x2="25.5" y2="130.9" stroke="#222" stroke-width="1.2" />
<line x1="22.5" y1="130.4" x2="192.5" y2="130.4" stroke="#222" stroke-width="1.2" />
<line x1="21.3" y1="130.4" x2="25.5" y2="130.4" stroke="#222" stroke-width="1.0" />
<line x1="22.9" y1="116.4" x2="25.5" y2="116.4" stroke="#222" stroke-width="1.0" />
<line x1="21.3" y1="102.4" x2="25.5" y2="102.4" stroke="#222" stroke-width="1.0" />
<line x1="22.9" y1="88.4" x2="25.5" y2="88.4" stroke="#222" stroke-width="1.0" />
<line x1="21.3" y1="74.4" x2="25.5" y2="74.4" stroke="#222" stroke-width="1.0" />
<line x1="22.9" y1="60.4" x2="25.5" y2="60.4" stroke="#222" stroke-width="1.0" />
<line x1="21.3" y1="46.4" x2="25.5" y2="46.4" stroke="#222" stroke-width="1.0" />
<line x1="22.9" y1="32.4" x2="25.5" y2="32.4" stroke="#222" stroke-width="1.0" />
<line x1="21.3" y1="18.4" x2="25.5" y2="18.4" stroke="#222" stroke-width="1.0" />
<text x="20.1" y="133.5" font-size="8.7" text-anchor="end" font-weight="normal" fill="#222" >0</text>
<text x="20.1" y="105.5" font-size="8.7" text-anchor="end" font-weight="normal" fill="#222" >1</text>
<text x="20.1" y="77.5" font-size="8.7" text-anchor="end" font-weight="normal" fill="#222" >2</text>
<text x="20.1" y="49.5" font-size="8.7" text-anchor="end" font-weight="normal" fill="#222" >3</text>
<text x="20.1" y="21.5" font-size="8.7" text-anchor="end" font-weight="normal" fill="#222" >4</text>
<line x1="25.5" y1="130.4" x2="25.5" y2="134.4" stroke="#222" stroke-width="1.0" />
<text x="25.5" y="144.8" font-size="8.5" text-anchor="middle" font-weight="normal" fill="#222" >10</text>
<line x1="48.78" y1="130.4" x2="48.78" y2="132.8" stroke="#222" stroke-width="0.8" />
<line x1="42.91" y1="130.4" x2="42.91" y2="132.8" stroke="#222" stroke-width="0.8" />
<line x1="38.75" y1="130.4" x2="38.75" y2="132.8" stroke="#222" stroke-width="0.8" />
<line x1="35.52" y1="130.4" x2="35.52" y2="132.8" stroke="#222" stroke-width="0.8" />
<line x1="32.89" y1="130.4" x2="32.89" y2="132.8" stroke="#222" stroke-width="0.8" />
<line x1="30.66" y1="130.4" x2="30.66" y2="132.8" stroke="#222" stroke-width="0.8" />
<line x1="28.73" y1="130.4" x2="28.73" y2="132.8" stroke="#222" stroke-width="0.8" />
<line x1="27.02" y1="130.4" x2="27.02" y2="132.8" stroke="#222" stroke-width="0.8" />
<line x1="58.8" y1="130.4" x2="58.8" y2="134.4" stroke="#222" stroke-width="1.0" />
<text x="58.8" y="144.8" font-size="8.5" text-anchor="middle" font-weight="normal" fill="#222" >1</text>
<line x1="82.08" y1="130.4" x2="82.08" y2="132.8" stroke="#222" stroke-width="0.8" />
<line x1="76.21" y1="130.4" x2="76.21" y2="132.8" stroke="#222" stroke-width="0.8" />
<line x1="72.05" y1="130.4" x2="72.05" y2="132.8" stroke="#222" stroke-width="0.8" />
<line x1="68.82" y1="130.4" x2="68.82" y2="132.8" stroke="#222" stroke-width="0.8" />
<line x1="66.19" y1="130.4" x2="66.19" y2="132.8" stroke="#222" stroke-width="0.8" />
<line x1="63.96" y1="130.4" x2="63.96" y2="132.8" stroke="#222" stroke-width="0.8" />
<line x1="62.03" y1="130.4" x2="62.03" y2="132.8" stroke="#222" stroke-width="0.8" />
<line x1="60.32" y1="130.4" x2="60.32" y2="132.8" stroke="#222" stroke-width="0.8" />
<line x1="92.1" y1="130.4" x2="92.1" y2="134.4" stroke="#222" stroke-width="1.0" />
<text x="92.1" y="144.8" font-size="8.5" text-anchor="middle" font-weight="normal" fill="#222" >0.1</text>
<line x1="115.38" y1="130.4" x2="115.38" y2="132.8" stroke="#222" stroke-width="0.8" />
<line x1="109.51" y1="130.4" x2="109.51" y2="132.8" stroke="#222" stroke-width="0.8" />
<line x1="105.35" y1="130.4" x2="105.35" y2="132.8" stroke="#222" stroke-width="0.8" />
<line x1="102.12" y1="130.4" x2="102.12" y2="132.8" stroke="#222" stroke-width="0.8" />
<line x1="99.49" y1="130.4" x2="99.49" y2="132.8" stroke="#222" stroke-width="0.8" />
<line x1="97.26" y1="130.4" x2="97.26" y2="132.8" stroke="#222" stroke-width="0.8" />
<line x1="95.33" y1="130.4" x2="95.33" y2="132.8" stroke="#222" stroke-width="0.8" />
<line x1="93.62" y1="130.4" x2="93.62" y2="132.8" stroke="#222" stroke-width="0.8" />
<line x1="125.4" y1="130.4" x2="125.4" y2="134.4" stroke="#222" stroke-width="1.0" />
<text x="125.4" y="144.8" font-size="8.5" text-anchor="middle" font-weight="normal" fill="#222" >0.01</text>
<line x1="148.68" y1="130.4" x2="148.68" y2="132.8" stroke="#222" stroke-width="0.8" />
<line x1="142.81" y1="130.4" x2="142.81" y2="132.8" stroke="#222" stroke-width="0.8" />
<line x1="138.65" y1="130.4" x2="138.65" y2="132.8" stroke="#222" stroke-width="0.8" />
<line x1="135.42" y1="130.4" x2="135.42" y2="132.8" stroke="#222" stroke-width="0.8" />
<line x1="132.79" y1="130.4" x2="132.79" y2="132.8" stroke="#222" stroke-width="0.8" />
<line x1="130.56" y1="130.4" x2="130.56" y2="132.8" stroke="#222" stroke-width="0.8" />
<line x1="128.63" y1="130.4" x2="128.63" y2="132.8" stroke="#222" stroke-width="0.8" />
<line x1="126.92" y1="130.4" x2="126.92" y2="132.8" stroke="#222" stroke-width="0.8" />
<line x1="158.7" y1="130.4" x2="158.7" y2="134.4" stroke="#222" stroke-width="1.0" />
<text x="158.7" y="144.8" font-size="8.5" text-anchor="middle" font-weight="normal" fill="#222" >0.001</text>
<line x1="181.98" y1="130.4" x2="181.98" y2="132.8" stroke="#222" stroke-width="0.8" />
<line x1="176.11" y1="130.4" x2="176.11" y2="132.8" stroke="#222" stroke-width="0.8" />
<line x1="171.95" y1="130.4" x2="171.95" y2="132.8" stroke="#222" stroke-width="0.8" />
<line x1="168.72" y1="130.4" x2="168.72" y2="132.8" stroke="#222" stroke-width="0.8" />
<line x1="166.09" y1="130.4" x2="166.09" y2="132.8" stroke="#222" stroke-width="0.8" />
<line x1="163.86" y1="130.4" x2="163.86" y2="132.8" stroke="#222" stroke-width="0.8" />
<line x1="161.93" y1="130.4" x2="161.93" y2="132.8" stroke="#222" stroke-width="0.8" />
<line x1="160.22" y1="130.4" x2="160.22" y2="132.8" stroke="#222" stroke-width="0.8" />
<line x1="192" y1="130.4" x2="192" y2="134.4" stroke="#222" stroke-width="1.0" />
<text x="192" y="144.8" font-size="8.5" text-anchor="middle" font-weight="normal" fill="#222" >0.0001</text>
<text x="101" y="155.2" font-size="8.8" text-anchor="middle" font-weight="normal" fill="#222" >Concentration (μg/mL)</text>
<text x="13.2" y="74.4" font-size="8.9" text-anchor="middle" fill="#222" transform="rotate(-90 13.2 74.4)">OD450-OD630nm</text>
<line x1="158" y1="19.6" x2="169.6" y2="19.6" stroke="#9a70a0" stroke-width="1.3" />
<circle cx="164" cy="19.6" r="1.3" fill="#9a70a0"/>
<text x="171.4" y="22.8" font-size="8.7" text-anchor="start" font-weight="normal" fill="#222" >E484K</text>
<line x1="199" y1="19.6" x2="210.6" y2="19.6" stroke="#5a78c0" stroke-width="1.3" />
<circle cx="204.8" cy="19.6" r="1.3" fill="#5a78c0"/>
<text x="213.3" y="22.8" font-size="8.7" text-anchor="start" font-weight="normal" fill="#222" >Y449A</text>
<line x1="158" y1="33.5" x2="169.6" y2="33.5" stroke="#22308a" stroke-width="1.3" />
<circle cx="164" cy="33.5" r="1.3" fill="#22308a"/>
<text x="171.4" y="36.7" font-size="8.7" text-anchor="start" font-weight="normal" fill="#222" >N501Y</text>
<line x1="199" y1="33.5" x2="210.6" y2="33.5" stroke="#e03848" stroke-width="1.3" />
<circle cx="204.8" cy="33.5" r="1.3" fill="#e03848"/>
<text x="213.3" y="36.7" font-size="8.7" text-anchor="start" font-weight="normal" fill="#222" >L452A</text>
<line x1="158" y1="48.7" x2="169.6" y2="48.7" stroke="#5a2a5a" stroke-width="1.3" />
<circle cx="164" cy="48.7" r="1.3" fill="#5a2a5a"/>
<text x="171.4" y="51.9" font-size="8.7" text-anchor="start" font-weight="normal" fill="#222" >Q493A</text>
<line x1="199" y1="48.7" x2="210.6" y2="48.7" stroke="#40b060" stroke-width="1.3" />
<circle cx="204.8" cy="48.7" r="1.3" fill="#40b060"/>
<text x="213.3" y="51.9" font-size="8.7" text-anchor="start" font-weight="normal" fill="#222" >F456A</text>
<line x1="158" y1="64.1" x2="169.6" y2="64.1" stroke="#b03048" stroke-width="1.3" />
<circle cx="164" cy="64.1" r="1.3" fill="#b03048"/>
<text x="171.4" y="67.3" font-size="8.7" text-anchor="start" font-weight="normal" fill="#222" >K417N</text>
<line x1="199" y1="64.1" x2="210.6" y2="64.1" stroke="#f0b080" stroke-width="1.3" />
<circle cx="204.8" cy="64.1" r="1.3" fill="#f0b080"/>
<text x="213.3" y="67.3" font-size="8.7" text-anchor="start" font-weight="normal" fill="#222" >F486A</text>
<line x1="158" y1="80" x2="169.6" y2="80" stroke="#2a6a4a" stroke-width="1.3" />
<circle cx="164" cy="80.0" r="1.3" fill="#2a6a4a"/>
<text x="171.4" y="83.2" font-size="8.7" text-anchor="start" font-weight="normal" fill="#222" >WT</text>
<line x1="199" y1="80" x2="210.6" y2="80" stroke="#1a1a2a" stroke-width="1.3" />
<circle cx="204.8" cy="80.0" r="1.3" fill="#1a1a2a"/>
<text x="213.3" y="83.2" font-size="8.7" text-anchor="start" font-weight="normal" fill="#222" >Y489A</text>
<line x1="199" y1="95.1" x2="210.6" y2="95.1" stroke="#a88030" stroke-width="1.3" />
<circle cx="204.8" cy="95.1" r="1.3" fill="#a88030"/>
<text x="213.3" y="98.3" font-size="8.7" text-anchor="start" font-weight="normal" fill="#222" >F490A</text>
<text x="255" y="11.3" font-size="14.2" text-anchor="start" font-weight="bold" fill="#111" >B</text>
<polyline points="273.4,128.8 273.4,128.71 273.4,128.62 273.4,128.53 273.73,128.44 274.11,128.35 274.5,128.26 275.26,128.08 276.03,127.91 276.79,127.73 277.94,127.47 279.09,127.22 280.24,126.96 281.77,126.63 283.68,126.22 285.59,125.82 287.51,125.43 289.42,125.05 291.33,124.67 293.25,124.3 295.16,123.94 297.08,123.58 298.99,123.24 300.9,122.89 302.82,122.56 304.73,122.23 305.88,122.04 306.64,121.91 306.83,121.92 307.03,121.92 307.22,121.93 307.41,121.93 307.6,121.94 307.79,121.94 307.98,121.95 308.17,121.95 308.37,121.96 308.56,121.96 308.75,121.97 308.94,121.97 309.32,121.98 309.7,121.99 310.09,122 310.47,122.01 310.85,122.02 311.24,122.03 311.62,122.04 312,122.05 312.38,122.06 312.77,122.07 313.15,122.08 313.53,122.09 313.91,122.1 314.3,122.11 315.83,122.15 317.36,122.19 318.89,122.22 320.42,122.26 321.95,122.3 323.48,122.34 325.01,122.38 326.54,122.41 328.07,122.45 329.61,122.49 331.14,122.52 332.67,122.56 334.2,122.59 337.26,122.67 340.32,122.74 343.38,122.81 346.44,122.88 349.51,122.94 352.57,123.01 355.63,123.08 358.69,123.15 361.75,123.21 364.81,123.28 367.88,123.34 370.94,123.4 374,123.46 377.06,123.53 380.12,123.59 383.18,123.65 386.24,123.71 389.31,123.77 392.37,123.82 395.43,123.88 398.49,123.94 401.55,123.99 404.61,124.05 407.68,124.1 410.74,124.16 413.8,124.21 416.86,124.26 419.92,124.32 421.45,124.34" fill="none" stroke="#1c1c1c" stroke-width="1.35" stroke-linejoin="round" />
<line x1="306.64" y1="121.91" x2="306.76" y2="120.7" stroke="#1c1c1c" stroke-width="1.2" />
<polyline points="273.4,128.8 273.4,128.62 273.4,128.44 273.4,128.26 273.73,128.08 274.11,127.9 274.5,127.73 275.26,127.38 276.03,127.03 276.79,126.68 277.94,126.17 279.09,125.66 280.24,125.16 281.77,124.5 283.68,123.68 285.59,122.89 287.51,122.11 289.42,121.35 291.33,120.6 293.25,119.87 295.16,119.15 297.08,118.44 298.99,117.75 300.9,117.08 302.82,116.41 304.73,115.76 305.88,115.38 306.64,115.12 306.83,115.14 307.03,115.15 307.22,115.16 307.41,115.17 307.6,115.19 307.79,115.2 307.98,115.21 308.17,115.22 308.37,115.24 308.56,115.25 308.75,115.26 308.94,115.27 309.32,115.3 309.7,115.32 310.09,115.35 310.47,115.37 310.85,115.4 311.24,115.42 311.62,115.45 312,115.47 312.38,115.49 312.77,115.52 313.15,115.54 313.53,115.57 313.91,115.59 314.3,115.62 315.83,115.71 317.36,115.81 318.89,115.9 320.42,116 321.95,116.09 323.48,116.18 325.01,116.27 326.54,116.36 328.07,116.46 329.61,116.55 331.14,116.63 332.67,116.72 334.2,116.81 337.26,116.99 340.32,117.16 343.38,117.33 346.44,117.49 349.51,117.66 352.57,117.82 355.63,117.98 358.69,118.14 361.75,118.29 364.81,118.44 367.88,118.59 370.94,118.74 374,118.89 377.06,119.03 380.12,119.17 383.18,119.31 386.24,119.45 389.31,119.59 392.37,119.72 395.43,119.85 398.49,119.98 401.55,120.11 404.61,120.24 407.68,120.36 410.74,120.48 413.8,120.6 416.86,120.72 419.92,120.84 421.45,120.9" fill="none" stroke="#f2a23a" stroke-width="1.35" stroke-linejoin="round" />
<line x1="306.64" y1="115.12" x2="306.76" y2="103.48" stroke="#f2a23a" stroke-width="1.2" />
<polyline points="273.4,128.8 273.4,128.45 273.4,128.1 273.4,127.74 273.73,127.4 274.11,127.05 274.5,126.7 275.26,126.01 276.03,125.33 276.79,124.65 277.94,123.65 279.09,122.65 280.24,121.67 281.77,120.38 283.68,118.8 285.59,117.24 287.51,115.72 289.42,114.23 291.33,112.77 293.25,111.33 295.16,109.93 297.08,108.55 298.99,107.2 300.9,105.87 302.82,104.58 304.73,103.3 305.88,102.55 306.64,102.06 306.83,102.08 307.03,102.11 307.22,102.14 307.41,102.17 307.6,102.19 307.79,102.22 307.98,102.25 308.17,102.27 308.37,102.3 308.56,102.33 308.75,102.36 308.94,102.38 309.32,102.44 309.7,102.49 310.09,102.54 310.47,102.6 310.85,102.65 311.24,102.7 311.62,102.76 312,102.81 312.38,102.86 312.77,102.92 313.15,102.97 313.53,103.02 313.91,103.08 314.3,103.13 315.83,103.34 317.36,103.54 318.89,103.75 320.42,103.95 321.95,104.16 323.48,104.36 325.01,104.56 326.54,104.75 328.07,104.95 329.61,105.14 331.14,105.34 332.67,105.53 334.2,105.72 337.26,106.09 340.32,106.46 343.38,106.82 346.44,107.18 349.51,107.53 352.57,107.87 355.63,108.21 358.69,108.55 361.75,108.87 364.81,109.2 367.88,109.52 370.94,109.83 374,110.14 377.06,110.44 380.12,110.74 383.18,111.03 386.24,111.32 389.31,111.6 392.37,111.88 395.43,112.15 398.49,112.42 401.55,112.69 404.61,112.95 407.68,113.21 410.74,113.46 413.8,113.71 416.86,113.95 419.92,114.2 421.45,114.31" fill="none" stroke="#9a4fa0" stroke-width="1.35" stroke-linejoin="round" />
<polyline points="273.4,128.8 273.4,128.45 273.4,128.1 273.4,127.74 273.73,127.4 274.11,127.05 274.5,126.7 275.26,126.01 276.03,125.33 276.79,124.65 277.94,123.65 279.09,122.65 280.24,121.67 281.77,120.38 283.68,118.8 285.59,117.24 287.51,115.72 289.42,114.23 291.33,112.77 293.25,111.33 295.16,109.93 297.08,108.55 298.99,107.2 300.9,105.87 302.82,104.58 304.73,103.3 305.88,102.55 306.64,102.06 306.83,102.08 307.03,102.11 307.22,102.14 307.41,102.17 307.6,102.19 307.79,102.22 307.98,102.25 308.17,102.27 308.37,102.3 308.56,102.33 308.75,102.36 308.94,102.38 309.32,102.44 309.7,102.49 310.09,102.54 310.47,102.6 310.85,102.65 311.24,102.7 311.62,102.76 312,102.81 312.38,102.86 312.77,102.92 313.15,102.97 313.53,103.02 313.91,103.08 314.3,103.13 315.83,103.34 317.36,103.54 318.89,103.75 320.42,103.95 321.95,104.16 323.48,104.36 325.01,104.56 326.54,104.75 328.07,104.95 329.61,105.14 331.14,105.34 332.67,105.53 334.2,105.72 337.26,106.09 340.32,106.46 343.38,106.82 346.44,107.18 349.51,107.53 352.57,107.87 355.63,108.21 358.69,108.55 361.75,108.87 364.81,109.2 367.88,109.52 370.94,109.83 374,110.14 377.06,110.44 380.12,110.74 383.18,111.03 386.24,111.32 389.31,111.6 392.37,111.88 395.43,112.15 398.49,112.42 401.55,112.69 404.61,112.95 407.68,113.21 410.74,113.46 413.8,113.71 416.86,113.95 419.92,114.2 421.45,114.31" fill="none" stroke="#2c3f9c" stroke-width="1.35" stroke-linejoin="round" />
<line x1="306.64" y1="102.06" x2="306.76" y2="100.44" stroke="#2c3f9c" stroke-width="1.2" />
<polyline points="273.4,128.8 273.4,128.17 273.4,127.53 273.4,126.91 273.73,126.28 274.11,125.66 274.5,125.03 275.26,123.8 276.03,122.57 276.79,121.36 277.94,119.55 279.09,117.77 280.24,116 281.77,113.69 283.68,110.84 285.59,108.05 287.51,105.32 289.42,102.64 291.33,100.01 293.25,97.44 295.16,94.91 297.08,92.44 298.99,90.01 300.9,87.64 302.82,85.31 304.73,83.02 305.88,81.67 306.64,80.78 306.83,80.83 307.03,80.89 307.22,80.94 307.41,80.99 307.6,81.04 307.79,81.09 307.98,81.14 308.17,81.19 308.37,81.24 308.56,81.29 308.75,81.34 308.94,81.39 309.32,81.5 309.7,81.6 310.09,81.7 310.47,81.8 310.85,81.9 311.24,82 311.62,82.1 312,82.2 312.38,82.3 312.77,82.39 313.15,82.49 313.53,82.59 313.91,82.69 314.3,82.79 315.83,83.18 317.36,83.57 318.89,83.95 320.42,84.33 321.95,84.71 323.48,85.08 325.01,85.46 326.54,85.82 328.07,86.19 329.61,86.55 331.14,86.91 332.67,87.27 334.2,87.62 337.26,88.31 340.32,89 343.38,89.67 346.44,90.33 349.51,90.99 352.57,91.62 355.63,92.25 358.69,92.87 361.75,93.48 364.81,94.08 367.88,94.66 370.94,95.24 374,95.81 377.06,96.37 380.12,96.92 383.18,97.46 386.24,97.99 389.31,98.51 392.37,99.02 395.43,99.52 398.49,100.02 401.55,100.51 404.61,100.98 407.68,101.45 410.74,101.92 413.8,102.37 416.86,102.82 419.92,103.26 421.45,103.48" fill="none" stroke="#2ea655" stroke-width="1.35" stroke-linejoin="round" />
<line x1="306.64" y1="80.78" x2="306.76" y2="66.3" stroke="#2ea655" stroke-width="1.2" />
<polyline points="273.4,128.8 273.4,127.45 273.4,126.12 273.4,124.8 273.73,123.5 274.11,122.21 274.5,120.93 275.26,118.43 276.03,115.97 276.79,113.57 277.94,110.07 279.09,106.68 280.24,103.4 281.77,99.19 283.68,94.18 285.59,89.45 287.51,84.96 289.42,80.72 291.33,76.7 293.25,72.9 295.16,69.3 297.08,65.89 298.99,62.67 300.9,59.62 302.82,56.73 304.73,53.99 305.88,52.42 306.64,51.41 306.83,51.49 307.03,51.58 307.22,51.67 307.41,51.75 307.6,51.84 307.79,51.93 307.98,52.01 308.17,52.1 308.37,52.18 308.56,52.27 308.75,52.36 308.94,52.44 309.32,52.61 309.7,52.78 310.09,52.95 310.47,53.12 310.85,53.29 311.24,53.46 311.62,53.63 312,53.8 312.38,53.97 312.77,54.13 313.15,54.3 313.53,54.47 313.91,54.63 314.3,54.8 315.83,55.46 317.36,56.11 318.89,56.76 320.42,57.41 321.95,58.04 323.48,58.68 325.01,59.3 326.54,59.92 328.07,60.54 329.61,61.15 331.14,61.75 332.67,62.35 334.2,62.94 337.26,64.11 340.32,65.26 343.38,66.39 346.44,67.5 349.51,68.59 352.57,69.66 355.63,70.71 358.69,71.74 361.75,72.76 364.81,73.75 367.88,74.73 370.94,75.69 374,76.63 377.06,77.56 380.12,78.47 383.18,79.37 386.24,80.25 389.31,81.11 392.37,81.96 395.43,82.79 398.49,83.61 401.55,84.41 404.61,85.2 407.68,85.97 410.74,86.73 413.8,87.48 416.86,88.22 419.92,88.94 421.45,89.29" fill="none" stroke="#d8283c" stroke-width="1.35" stroke-linejoin="round" />
<line x1="306.64" y1="51.41" x2="306.76" y2="49.79" stroke="#d8283c" stroke-width="1.2" />
<line x1="273.4" y1="27" x2="273.4" y2="129.4" stroke="#222" stroke-width="1.2" />
<line x1="270.4" y1="128.8" x2="425.88" y2="128.8" stroke="#222" stroke-width="1.2" />
<text x="270.4" y="131.8" font-size="8.5" text-anchor="end" font-weight="normal" fill="#222" >0</text>
<line x1="270.4" y1="108.54" x2="273.4" y2="108.54" stroke="#222" stroke-width="1.0" />
<text x="270.4" y="111.54" font-size="8.5" text-anchor="end" font-weight="normal" fill="#222" >20</text>
<line x1="270.4" y1="88.28" x2="273.4" y2="88.28" stroke="#222" stroke-width="1.0" />
<text x="270.4" y="91.28" font-size="8.5" text-anchor="end" font-weight="normal" fill="#222" >40</text>
<line x1="270.4" y1="68.02" x2="273.4" y2="68.02" stroke="#222" stroke-width="1.0" />
<text x="270.4" y="71.02" font-size="8.5" text-anchor="end" font-weight="normal" fill="#222" >60</text>
<line x1="270.4" y1="47.76" x2="273.4" y2="47.76" stroke="#222" stroke-width="1.0" />
<text x="270.4" y="50.76" font-size="8.5" text-anchor="end" font-weight="normal" fill="#222" >80</text>
<line x1="270.4" y1="27.5" x2="273.4" y2="27.5" stroke="#222" stroke-width="1.0" />
<text x="270.4" y="30.5" font-size="8.5" text-anchor="end" font-weight="normal" fill="#222" >100</text>
<line x1="310.47" y1="128.8" x2="310.47" y2="131.8" stroke="#222" stroke-width="1.0" />
<text x="311.07" y="140.8" font-size="8.5" text-anchor="middle" font-weight="normal" fill="#222" >100</text>
<line x1="348.74" y1="128.8" x2="348.74" y2="131.8" stroke="#222" stroke-width="1.0" />
<text x="349.34" y="140.8" font-size="8.5" text-anchor="middle" font-weight="normal" fill="#222" >200</text>
<line x1="387.01" y1="128.8" x2="387.01" y2="131.8" stroke="#222" stroke-width="1.0" />
<text x="387.61" y="140.8" font-size="8.5" text-anchor="middle" font-weight="normal" fill="#222" >300</text>
<line x1="425.28" y1="128.8" x2="425.28" y2="131.8" stroke="#222" stroke-width="1.0" />
<text x="425.88" y="140.8" font-size="8.5" text-anchor="middle" font-weight="normal" fill="#222" >400</text>
<text x="349.54" y="151.5" font-size="8.5" text-anchor="middle" font-weight="normal" fill="#222" >Time(s)</text>
<text x="259.1" y="78.1" font-size="9" text-anchor="middle" fill="#222" transform="rotate(-90 259.1 78.1)">Ru</text>
<text x="329" y="22.6" font-size="8.6" text-anchor="start" font-weight="normal" fill="#222" >RBD-nCOV617</text>
<text x="329" y="43.3" font-size="8.5" fill="#222">KD(M)= 4.23x10<tspan font-size="5.4" dy="-3.6">-9</tspan></text>
<line x1="425.5" y1="61.5" x2="436.8" y2="61.5" stroke="#262626" stroke-width="1.3" />
<text x="439.8" y="64.5" font-size="8.4" text-anchor="start" font-weight="normal" fill="#222" >0.05ug/ml</text>
<line x1="425.5" y1="73.07" x2="436.8" y2="73.07" stroke="#f0a848" stroke-width="1.3" />
<text x="439.8" y="76.07" font-size="8.4" text-anchor="start" font-weight="normal" fill="#222" >0.1ug/ml</text>
<line x1="425.5" y1="84.64" x2="436.8" y2="84.64" stroke="#a868b0" stroke-width="1.3" />
<text x="439.8" y="87.64" font-size="8.4" text-anchor="start" font-weight="normal" fill="#222" >0.2ug/ml</text>
<line x1="425.5" y1="96.21" x2="436.8" y2="96.21" stroke="#3aa860" stroke-width="1.3" />
<text x="439.8" y="99.21" font-size="8.4" text-anchor="start" font-weight="normal" fill="#222" >0.4ug/ml</text>
<line x1="425.5" y1="107.78" x2="436.8" y2="107.78" stroke="#d8404e" stroke-width="1.3" />
<text x="439.8" y="110.78" font-size="8.4" text-anchor="start" font-weight="normal" fill="#222" >0.8ug/ml</text>
<line x1="425.5" y1="119.35" x2="436.8" y2="119.35" stroke="#4a62b0" stroke-width="1.3" />
<text x="439.8" y="122.35" font-size="8.4" text-anchor="start" font-weight="normal" fill="#222" >0.2ug/ml</text>
<text x="482.6" y="15.9" font-size="14.2" text-anchor="start" font-weight="bold" fill="#111" >C</text>
<polyline points="499.4,129.1 499.4,128.62 499.4,128.44 499.45,128.38 499.83,128.35 500.22,128.34 500.6,128.34 501.36,128.34 502.13,128.34 502.9,128.34 504.05,128.34 505.19,128.34 506.34,128.34 507.88,128.34 509.79,128.34 511.71,128.34 513.62,128.34 515.53,128.34 517.45,128.34 519.37,128.34 521.28,128.34 523.2,128.34 525.11,128.34 527.02,128.34 528.94,128.34 530.86,128.34 532,128.34 532.77,128.34 532.96,128.34 533.15,128.34 533.34,128.34 533.54,128.34 533.73,128.34 533.92,128.34 534.11,128.34 534.3,128.34 534.49,128.34 534.69,128.34 534.88,128.34 535.07,128.34 535.45,128.34 535.83,128.34 536.22,128.35 536.6,128.35 536.98,128.35 537.37,128.35 537.75,128.35 538.13,128.35 538.51,128.35 538.9,128.35 539.28,128.35 539.66,128.35 540.05,128.35 540.43,128.35 541.96,128.36 543.49,128.36 545.03,128.36 546.56,128.37 548.09,128.37 549.62,128.37 551.15,128.37 552.69,128.38 554.22,128.38 555.75,128.38 557.28,128.39 558.81,128.39 560.35,128.39 563.41,128.4 566.47,128.4 569.54,128.41 572.6,128.41 575.67,128.42 578.73,128.42 581.79,128.43 584.86,128.44 587.92,128.44 590.99,128.45 594.05,128.45 597.11,128.46 600.18,128.46 603.24,128.47 606.31,128.47 609.37,128.48 612.43,128.48 615.5,128.49 618.56,128.49 621.63,128.5 624.69,128.5 627.75,128.51 630.82,128.51 633.88,128.52 636.95,128.52 640.01,128.52 643.07,128.53 646.14,128.53 647.67,128.54" fill="none" stroke="#2ea655" stroke-width="1.35" stroke-linejoin="round" />
<line x1="532.77" y1="128.34" x2="532.88" y2="118.95" stroke="#2ea655" stroke-width="1.2" />
<polyline points="499.4,129.1 499.4,128.46 499.4,128.22 499.45,128.14 499.83,128.1 500.22,128.09 500.6,128.09 501.36,128.09 502.13,128.08 502.9,128.08 504.05,128.08 505.19,128.08 506.34,128.08 507.88,128.08 509.79,128.08 511.71,128.08 513.62,128.08 515.53,128.08 517.45,128.08 519.37,128.08 521.28,128.08 523.2,128.08 525.11,128.08 527.02,128.08 528.94,128.08 530.86,128.08 532,128.08 532.77,128.08 532.96,128.09 533.15,128.09 533.34,128.09 533.54,128.09 533.73,128.09 533.92,128.09 534.11,128.09 534.3,128.09 534.49,128.09 534.69,128.09 534.88,128.09 535.07,128.09 535.45,128.09 535.83,128.09 536.22,128.09 536.6,128.09 536.98,128.1 537.37,128.1 537.75,128.1 538.13,128.1 538.51,128.1 538.9,128.1 539.28,128.1 539.66,128.1 540.05,128.1 540.43,128.1 541.96,128.11 543.49,128.11 545.03,128.12 546.56,128.12 548.09,128.12 549.62,128.13 551.15,128.13 552.69,128.14 554.22,128.14 555.75,128.14 557.28,128.15 558.81,128.15 560.35,128.16 563.41,128.16 566.47,128.17 569.54,128.18 572.6,128.19 575.67,128.19 578.73,128.2 581.79,128.21 584.86,128.21 587.92,128.22 590.99,128.23 594.05,128.23 597.11,128.24 600.18,128.25 603.24,128.26 606.31,128.26 609.37,128.27 612.43,128.28 615.5,128.28 618.56,128.29 621.63,128.3 624.69,128.3 627.75,128.31 630.82,128.31 633.88,128.32 636.95,128.33 640.01,128.33 643.07,128.34 646.14,128.34 647.67,128.35" fill="none" stroke="#f2a23a" stroke-width="1.35" stroke-linejoin="round" />
<polyline points="499.4,129.1 499.4,127.34 499.4,127.11 499.45,127.07 499.83,127.07 500.22,127.07 500.6,127.07 501.36,127.07 502.13,127.07 502.9,127.07 504.05,127.07 505.19,127.07 506.34,127.07 507.88,127.07 509.79,127.07 511.71,127.07 513.62,127.07 515.53,127.07 517.45,127.07 519.37,127.07 521.28,127.07 523.2,127.07 525.11,127.07 527.02,127.07 528.94,127.07 530.86,127.07 532,127.07 532.77,127.07 532.96,127.47 533.15,127.71 533.34,127.86 533.54,127.95 533.73,128 533.92,128.03 534.11,128.05 534.3,128.07 534.49,128.07 534.69,128.08 534.88,128.08 535.07,128.08 535.45,128.08 535.83,128.08 536.22,128.08 536.6,128.08 536.98,128.08 537.37,128.08 537.75,128.08 538.13,128.08 538.51,128.08 538.9,128.08 539.28,128.08 539.66,128.08 540.05,128.08 540.43,128.08 541.96,128.08 543.49,128.08 545.03,128.08 546.56,128.08 548.09,128.08 549.62,128.08 551.15,128.08 552.69,128.08 554.22,128.08 555.75,128.08 557.28,128.08 558.81,128.08 560.35,128.08 563.41,128.08 566.47,128.08 569.54,128.08 572.6,128.08 575.67,128.08 578.73,128.08 581.79,128.08 584.86,128.08 587.92,128.08 590.99,128.08 594.05,128.08 597.11,128.08 600.18,128.08 603.24,128.08 606.31,128.08 609.37,128.08 612.43,128.08 615.5,128.08 618.56,128.08 621.63,128.08 624.69,128.08 627.75,128.08 630.82,128.08 633.88,128.08 636.95,128.08 640.01,128.08 643.07,128.08 646.14,128.08 647.67,128.08" fill="none" stroke="#d8283c" stroke-width="1.35" stroke-linejoin="round" />
<polyline points="499.4,129.1 499.4,128.7 499.4,128.55 499.45,128.5 499.83,128.48 500.22,128.47 500.6,128.47 501.36,128.47 502.13,128.47 502.9,128.47 504.05,128.47 505.19,128.47 506.34,128.47 507.88,128.47 509.79,128.47 511.71,128.47 513.62,128.47 515.53,128.47 517.45,128.47 519.37,128.47 521.28,128.47 523.2,128.47 525.11,128.47 527.02,128.47 528.94,128.47 530.86,128.47 532,128.47 532.77,128.47 532.96,128.47 533.15,128.47 533.34,128.47 533.54,128.47 533.73,128.47 533.92,128.47 534.11,128.47 534.3,128.47 534.49,128.47 534.69,128.47 534.88,128.47 535.07,128.47 535.45,128.47 535.83,128.47 536.22,128.47 536.6,128.47 536.98,128.47 537.37,128.47 537.75,128.47 538.13,128.47 538.51,128.47 538.9,128.48 539.28,128.48 539.66,128.48 540.05,128.48 540.43,128.48 541.96,128.48 543.49,128.48 545.03,128.49 546.56,128.49 548.09,128.49 549.62,128.49 551.15,128.5 552.69,128.5 554.22,128.5 555.75,128.5 557.28,128.5 558.81,128.51 560.35,128.51 563.41,128.51 566.47,128.52 569.54,128.52 572.6,128.53 575.67,128.53 578.73,128.54 581.79,128.54 584.86,128.55 587.92,128.55 590.99,128.55 594.05,128.56 597.11,128.56 600.18,128.57 603.24,128.57 606.31,128.58 609.37,128.58 612.43,128.58 615.5,128.59 618.56,128.59 621.63,128.6 624.69,128.6 627.75,128.6 630.82,128.61 633.88,128.61 636.95,128.62 640.01,128.62 643.07,128.62 646.14,128.63 647.67,128.63" fill="none" stroke="#9a4fa0" stroke-width="1.35" stroke-linejoin="round" />
<polyline points="499.4,129.1 499.4,128.86 499.4,128.77 499.45,128.74 499.83,128.73 500.22,128.72 500.6,128.72 501.36,128.72 502.13,128.72 502.9,128.72 504.05,128.72 505.19,128.72 506.34,128.72 507.88,128.72 509.79,128.72 511.71,128.72 513.62,128.72 515.53,128.72 517.45,128.72 519.37,128.72 521.28,128.72 523.2,128.72 525.11,128.72 527.02,128.72 528.94,128.72 530.86,128.72 532,128.72 532.77,128.72 532.96,128.72 533.15,128.72 533.34,128.72 533.54,128.72 533.73,128.72 533.92,128.72 534.11,128.72 534.3,128.72 534.49,128.72 534.69,128.72 534.88,128.72 535.07,128.72 535.45,128.72 535.83,128.72 536.22,128.72 536.6,128.72 536.98,128.72 537.37,128.72 537.75,128.72 538.13,128.72 538.51,128.72 538.9,128.73 539.28,128.73 539.66,128.73 540.05,128.73 540.43,128.73 541.96,128.73 543.49,128.73 545.03,128.73 546.56,128.73 548.09,128.73 549.62,128.74 551.15,128.74 552.69,128.74 554.22,128.74 555.75,128.74 557.28,128.74 558.81,128.74 560.35,128.75 563.41,128.75 566.47,128.75 569.54,128.75 572.6,128.76 575.67,128.76 578.73,128.76 581.79,128.77 584.86,128.77 587.92,128.77 590.99,128.77 594.05,128.78 597.11,128.78 600.18,128.78 603.24,128.78 606.31,128.79 609.37,128.79 612.43,128.79 615.5,128.79 618.56,128.8 621.63,128.8 624.69,128.8 627.75,128.8 630.82,128.81 633.88,128.81 636.95,128.81 640.01,128.81 643.07,128.81 646.14,128.82 647.67,128.82" fill="none" stroke="#2c3f9c" stroke-width="1.35" stroke-linejoin="round" />
<line x1="499.4" y1="27.08" x2="499.4" y2="129.7" stroke="#222" stroke-width="1.2" />
<line x1="496.4" y1="129.1" x2="652.1" y2="129.1" stroke="#222" stroke-width="1.2" />
<text x="496.4" y="132.1" font-size="8.5" text-anchor="end" font-weight="normal" fill="#222" >0</text>
<line x1="496.4" y1="103.72" x2="499.4" y2="103.72" stroke="#222" stroke-width="1.0" />
<text x="496.4" y="106.72" font-size="8.5" text-anchor="end" font-weight="normal" fill="#222" >20</text>
<line x1="496.4" y1="78.34" x2="499.4" y2="78.34" stroke="#222" stroke-width="1.0" />
<text x="496.4" y="81.34" font-size="8.5" text-anchor="end" font-weight="normal" fill="#222" >40</text>
<line x1="496.4" y1="52.96" x2="499.4" y2="52.96" stroke="#222" stroke-width="1.0" />
<text x="496.4" y="55.96" font-size="8.5" text-anchor="end" font-weight="normal" fill="#222" >60</text>
<line x1="496.4" y1="27.58" x2="499.4" y2="27.58" stroke="#222" stroke-width="1.0" />
<text x="496.4" y="30.58" font-size="8.5" text-anchor="end" font-weight="normal" fill="#222" >80</text>
<line x1="536.6" y1="129.1" x2="536.6" y2="132.1" stroke="#222" stroke-width="1.0" />
<text x="537.2" y="141.1" font-size="8.5" text-anchor="middle" font-weight="normal" fill="#222" >100</text>
<line x1="574.9" y1="129.1" x2="574.9" y2="132.1" stroke="#222" stroke-width="1.0" />
<text x="575.5" y="141.1" font-size="8.5" text-anchor="middle" font-weight="normal" fill="#222" >200</text>
<line x1="613.2" y1="129.1" x2="613.2" y2="132.1" stroke="#222" stroke-width="1.0" />
<text x="613.8" y="141.1" font-size="8.5" text-anchor="middle" font-weight="normal" fill="#222" >300</text>
<line x1="651.5" y1="129.1" x2="651.5" y2="132.1" stroke="#222" stroke-width="1.0" />
<text x="652.1" y="141.1" font-size="8.5" text-anchor="middle" font-weight="normal" fill="#222" >400</text>
<text x="575.7" y="151.8" font-size="8.5" text-anchor="middle" font-weight="normal" fill="#222" >Time(s)</text>
<text x="487" y="69.4" font-size="9" text-anchor="middle" fill="#222" transform="rotate(-90 487 69.4)">Ru</text>
<text x="526" y="44.4" font-size="8.6" text-anchor="start" font-weight="normal" fill="#222" >RBD-F490A-nCoV617</text>
<line x1="649.3" y1="60.8" x2="659.6" y2="60.8" stroke="#262626" stroke-width="1.3" />
<text x="663.1" y="63.8" font-size="8.4" text-anchor="start" font-weight="normal" fill="#222" >0.5ug/ml</text>
<line x1="649.3" y1="72.42" x2="659.6" y2="72.42" stroke="#f0a848" stroke-width="1.3" />
<text x="663.1" y="75.42" font-size="8.4" text-anchor="start" font-weight="normal" fill="#222" >1ug/ml</text>
<line x1="649.3" y1="84.04" x2="659.6" y2="84.04" stroke="#a868b0" stroke-width="1.3" />
<text x="663.1" y="87.04" font-size="8.4" text-anchor="start" font-weight="normal" fill="#222" >2ug/ml</text>
<line x1="649.3" y1="95.66" x2="659.6" y2="95.66" stroke="#3aa860" stroke-width="1.3" />
<text x="663.1" y="98.66" font-size="8.4" text-anchor="start" font-weight="normal" fill="#222" >4ug/ml</text>
<line x1="649.3" y1="107.28" x2="659.6" y2="107.28" stroke="#d8404e" stroke-width="1.3" />
<text x="663.1" y="110.28" font-size="8.4" text-anchor="start" font-weight="normal" fill="#222" >8ug/ml</text>
<line x1="649.3" y1="118.9" x2="659.6" y2="118.9" stroke="#4a62b0" stroke-width="1.3" />
<text x="663.1" y="121.9" font-size="8.4" text-anchor="start" font-weight="normal" fill="#222" >2ug/ml</text>
<text x="0.2" y="175.8" font-size="14.2" text-anchor="start" font-weight="bold" fill="#111" >D</text>
<polyline points="24,282.1 24,279.12 24.06,278.61 24.44,278.31 24.82,278.49 25.2,278.2 25.58,278.32 26.34,277.78 27.1,277.53 27.86,277.43 29,277.01 30.14,277.04 31.28,276.62 32.8,276.39 34.7,276.09 36.6,275.88 38.5,275.45 40.4,275.19 42.3,275.25 44.2,275 46.1,275.16 48,274.72 49.9,274.64 51.8,274.37 53.7,274.38 55.6,274.58 56.74,274.49 57.5,274.33 57.69,276.04 57.88,276.68 58.07,277.37 58.26,277.74 58.45,278 58.64,277.8 58.83,278.24 59.02,278.26 59.21,278.26 59.4,278.08 59.59,278.53 59.78,278.39 60.16,278.43 60.54,278.35 60.92,278.46 61.3,278.51 61.68,278.88 62.06,278.88 62.44,278.97 62.82,278.77 63.2,278.79 63.58,279.26 63.96,279.31 64.34,279.33 64.72,279.38 65.1,279.31 66.62,279.45 68.14,279.78 69.66,280.06 71.18,279.98 72.7,280.13 74.22,280.14 75.74,280.05 77.26,280.27 78.78,280.45 80.3,280.48 81.82,280.53 83.34,280.91 84.86,280.55 87.9,280.74 90.94,280.8 93.98,280.94 97.02,281.23 100.06,281.31 103.1,281.53 106.14,281.33 109.18,281.68 112.22,281.74 115.26,281.72 118.3,281.79 121.34,281.74 124.38,281.92 127.42,281.99 130.46,281.94 133.5,282 136.54,281.89 139.58,282.09 142.62,281.68 145.66,281.83 148.7,282.09 151.74,282.05 154.78,282.02 157.82,282.02 160.86,282.1 163.9,281.8 166.94,281.74 169.98,282.02 171.5,282.01" fill="none" stroke="#1c1c1c" stroke-width="1.35" stroke-linejoin="round" />
<polyline points="24,282.1 24,275.76 24.06,274.73 24.44,274.64 24.82,274.43 25.2,274.12 25.58,273.98 26.34,273.36 27.1,273.37 27.86,273.14 29,272.24 30.14,272.06 31.28,271.89 32.8,271.25 34.7,271.02 36.6,270.34 38.5,269.74 40.4,269.47 42.3,269.27 44.2,269.24 46.1,268.97 48,268.88 49.9,268.41 51.8,268.38 53.7,268.13 55.6,268.25 56.74,268.24 57.5,267.91 57.69,270.45 57.88,272.15 58.07,273.19 58.26,273.84 58.45,274.31 58.64,274.87 58.83,274.93 59.02,275.18 59.21,275.47 59.4,275.58 59.59,275.55 59.78,275.65 60.16,275.59 60.54,275.6 60.92,276 61.3,275.88 61.68,275.98 62.06,276.12 62.44,276.54 62.82,276.72 63.2,276.83 63.58,276.95 63.96,277.05 64.34,276.93 64.72,276.89 65.1,277.01 66.62,277.53 68.14,277.74 69.66,277.93 71.18,278.53 72.7,278.45 74.22,278.52 75.74,278.76 77.26,278.94 78.78,279.24 80.3,279.53 81.82,279.35 83.34,279.71 84.86,279.59 87.9,279.72 90.94,280.21 93.98,280.38 97.02,280.26 100.06,280.51 103.1,280.93 106.14,281.07 109.18,281.16 112.22,280.88 115.26,281.02 118.3,281.43 121.34,281.16 124.38,281.15 127.42,281.38 130.46,281.59 133.5,281.54 136.54,281.8 139.58,281.9 142.62,281.46 145.66,281.65 148.7,281.75 151.74,281.57 154.78,281.85 157.82,281.66 160.86,281.7 163.9,282.03 166.94,282.03 169.98,282.03 171.5,282.06" fill="none" stroke="#f2a23a" stroke-width="1.35" stroke-linejoin="round" />
<polyline points="24,282.1 24,270.77 24.06,268.92 24.44,268.32 24.82,268.15 25.2,267.71 25.58,267.56 26.34,266.47 27.1,266.21 27.86,265.59 29,264.73 30.14,263.81 31.28,263.44 32.8,262.33 34.7,261.68 36.6,260.88 38.5,260.2 40.4,259.91 42.3,259.13 44.2,258.83 46.1,258.54 48,257.71 49.9,257.79 51.8,257.34 53.7,256.95 55.6,256.85 56.74,256.88 57.5,256.7 57.69,261.46 57.88,264.28 58.07,266.55 58.26,267.47 58.45,268.44 58.64,268.96 58.83,269.04 59.02,269.49 59.21,269.69 59.4,269.76 59.59,269.84 59.78,270.29 60.16,270.47 60.54,270.8 60.92,271.04 61.3,271.17 61.68,271.54 62.06,271.71 62.44,271.96 62.82,271.88 63.2,272.22 63.58,272.3 63.96,272.45 64.34,273.04 64.72,273.02 65.1,272.95 66.62,273.62 68.14,274.58 69.66,275.07 71.18,275.3 72.7,275.91 74.22,276.16 75.74,276.59 77.26,276.52 78.78,276.73 80.3,276.92 81.82,277.61 83.34,277.49 84.86,277.74 87.9,278.44 90.94,278.34 93.98,278.61 97.02,279.35 100.06,279.16 103.1,279.74 106.14,279.9 109.18,279.78 112.22,280.06 115.26,280.63 118.3,280.61 121.34,280.69 124.38,280.93 127.42,281.12 130.46,281.15 133.5,281 136.54,281.51 139.58,281.26 142.62,281.4 145.66,281.72 148.7,281.59 151.74,281.47 154.78,281.59 157.82,281.9 160.86,281.38 163.9,281.54 166.94,281.46 169.98,282.02 171.5,281.94" fill="none" stroke="#9a4fa0" stroke-width="1.35" stroke-linejoin="round" />
<polyline points="24,282.1 24,270.77 24.06,268.92 24.44,268.65 24.82,267.83 25.2,267.8 25.58,267.57 26.34,266.76 27.1,265.88 27.86,265.37 29,264.93 30.14,264.27 31.28,263.14 32.8,262.54 34.7,261.56 36.6,261.15 38.5,260.49 40.4,259.5 42.3,259.14 44.2,258.9 46.1,257.98 48,257.81 49.9,257.41 51.8,257.58 53.7,256.87 55.6,257.15 56.74,256.56 57.5,256.74 57.69,261.59 57.88,264.42 58.07,266.05 58.26,267.65 58.45,268.51 58.64,268.81 58.83,269.37 59.02,269.73 59.21,269.93 59.4,270.2 59.59,270.28 59.78,270.36 60.16,270.66 60.54,270.64 60.92,271.18 61.3,271.29 61.68,271.71 62.06,271.83 62.44,272.24 62.82,272.3 63.2,272.64 63.58,272.39 63.96,272.68 64.34,273.08 64.72,273.08 65.1,272.96 66.62,274.07 68.14,274.17 69.66,274.88 71.18,275.27 72.7,275.45 74.22,276.07 75.74,276.32 77.26,276.51 78.78,276.61 80.3,277.25 81.82,277.2 83.34,277.5 84.86,277.75 87.9,278.29 90.94,278.67 93.98,279.16 97.02,279.4 100.06,279.7 103.1,279.53 106.14,280.04 109.18,280.29 112.22,280.51 115.26,280.21 118.3,280.34 121.34,280.6 124.38,280.96 127.42,281.1 130.46,281.17 133.5,281.16 136.54,281.43 139.58,281.33 142.62,281.51 145.66,281.15 148.7,281.2 151.74,281.52 154.78,281.75 157.82,281.35 160.86,281.79 163.9,281.8 166.94,282.05 169.98,281.85 171.5,281.81" fill="none" stroke="#2c3f9c" stroke-width="1.35" stroke-linejoin="round" />
<polyline points="24,282.1 24,259.75 24.06,256.18 24.44,255.17 24.82,254.75 25.2,253.93 25.58,253.74 26.34,252.46 27.1,251.56 27.86,250.34 29,249.25 30.14,248 31.28,246.62 32.8,245.26 34.7,243.43 36.6,242.1 38.5,240.74 40.4,239.77 42.3,238.81 44.2,237.89 46.1,237.57 48,237.01 49.9,235.98 51.8,236.15 53.7,235.3 55.6,235.01 56.74,235.28 57.5,234.55 57.69,243.47 57.88,249.23 58.07,252.63 58.26,254.81 58.45,256.79 58.64,257.49 58.83,258.22 59.02,258.51 59.21,258.97 59.4,259.32 59.59,259.82 59.78,259.88 60.16,260.57 60.54,261.05 60.92,261.87 61.3,262.46 61.68,262.81 62.06,263.05 62.44,263.63 62.82,263.46 63.2,264.03 63.58,264.33 63.96,264.67 64.34,264.95 64.72,265.41 65.1,266.09 66.62,266.61 68.14,267.63 69.66,268.7 71.18,269.47 72.7,270.09 74.22,271.19 75.74,271.28 77.26,272.19 78.78,272.84 80.3,273.17 81.82,273.26 83.34,274.08 84.86,274.06 87.9,274.6 90.94,275.62 93.98,276.28 97.02,276.74 100.06,277.06 103.1,277.43 106.14,277.94 109.18,278.28 112.22,279.03 115.26,279.28 118.3,279.47 121.34,279.34 124.38,279.9 127.42,279.91 130.46,280.52 133.5,280.65 136.54,280.65 139.58,280.49 142.62,280.6 145.66,280.74 148.7,281.14 151.74,281.06 154.78,281.19 157.82,281.27 160.86,281.61 163.9,281.09 166.94,281.68 169.98,281.15 171.5,281.2" fill="none" stroke="#2ea655" stroke-width="1.35" stroke-linejoin="round" />
<polyline points="24,282.1 24,242.69 24.06,236.48 24.44,235.28 24.82,233.77 25.2,232.45 25.58,231.39 26.34,230.16 27.1,228.67 27.86,227.16 29,224.2 30.14,222.91 31.28,220.65 32.8,218.81 34.7,215.9 36.6,213.26 38.5,212.16 40.4,209.78 42.3,208.62 44.2,206.95 46.1,206.01 48,205.51 49.9,203.98 51.8,203.65 53.7,203.46 55.6,202.91 56.74,202.1 57.5,201.95 57.69,217.05 57.88,226.49 58.07,232.1 58.26,235.86 58.45,237.78 58.64,240.3 58.83,240.74 59.02,241.56 59.21,243.01 59.4,242.8 59.59,243.56 59.78,243.86 60.16,245.38 60.54,246.12 60.92,246.88 61.3,247.01 61.68,248.15 62.06,249.07 62.44,249.66 62.82,250.45 63.2,251.3 63.58,251.84 63.96,251.66 64.34,252.77 64.72,252.65 65.1,253.86 66.62,255.74 68.14,257.17 69.66,259 71.18,260.15 72.7,260.78 74.22,261.96 75.74,263.05 77.26,264.17 78.78,264.76 80.3,265.54 81.82,266.7 83.34,267.24 84.86,268.59 87.9,269.13 90.94,270.52 93.98,271.21 97.02,272.22 100.06,273.4 103.1,274.39 106.14,274.17 109.18,275.6 112.22,275.81 115.26,276.45 118.3,276.97 121.34,276.94 124.38,277.09 127.42,278.17 130.46,278.09 133.5,278.75 136.54,278.75 139.58,279.16 142.62,279.62 145.66,279.83 148.7,279.96 151.74,279.43 154.78,279.99 157.82,280.42 160.86,279.85 163.9,279.87 166.94,280.54 169.98,280.95 171.5,280.94" fill="none" stroke="#d8283c" stroke-width="1.35" stroke-linejoin="round" />
<line x1="24" y1="180.2" x2="24" y2="282.7" stroke="#222" stroke-width="1.2" />
<line x1="21" y1="282.1" x2="175.9" y2="282.1" stroke="#222" stroke-width="1.2" />
<text x="21" y="285.1" font-size="8.5" text-anchor="end" font-weight="normal" fill="#222" >0</text>
<line x1="21" y1="256.75" x2="24" y2="256.75" stroke="#222" stroke-width="1.0" />
<text x="21" y="259.75" font-size="8.5" text-anchor="end" font-weight="normal" fill="#222" >10</text>
<line x1="21" y1="231.4" x2="24" y2="231.4" stroke="#222" stroke-width="1.0" />
<text x="21" y="234.4" font-size="8.5" text-anchor="end" font-weight="normal" fill="#222" >20</text>
<line x1="21" y1="206.05" x2="24" y2="206.05" stroke="#222" stroke-width="1.0" />
<text x="21" y="209.05" font-size="8.5" text-anchor="end" font-weight="normal" fill="#222" >30</text>
<line x1="21" y1="180.7" x2="24" y2="180.7" stroke="#222" stroke-width="1.0" />
<text x="21" y="183.7" font-size="8.5" text-anchor="end" font-weight="normal" fill="#222" >40</text>
<line x1="61.3" y1="282.1" x2="61.3" y2="285.1" stroke="#222" stroke-width="1.0" />
<text x="61.9" y="294.1" font-size="8.5" text-anchor="middle" font-weight="normal" fill="#222" >100</text>
<line x1="99.3" y1="282.1" x2="99.3" y2="285.1" stroke="#222" stroke-width="1.0" />
<text x="99.9" y="294.1" font-size="8.5" text-anchor="middle" font-weight="normal" fill="#222" >200</text>
<line x1="137.3" y1="282.1" x2="137.3" y2="285.1" stroke="#222" stroke-width="1.0" />
<text x="137.9" y="294.1" font-size="8.5" text-anchor="middle" font-weight="normal" fill="#222" >300</text>
<line x1="175.3" y1="282.1" x2="175.3" y2="285.1" stroke="#222" stroke-width="1.0" />
<text x="175.9" y="294.1" font-size="8.5" text-anchor="middle" font-weight="normal" fill="#222" >400</text>
<text x="100.1" y="304.8" font-size="8.5" text-anchor="middle" font-weight="normal" fill="#222" >Time(s)</text>
<text x="8.45" y="232.2" font-size="9" text-anchor="middle" fill="#222" transform="rotate(-90 8.45 232.2)">Ru</text>
<text x="77.9" y="190.1" font-size="8.6" text-anchor="start" font-weight="normal" fill="#222" >RBD-L452A-nCOV617</text>
<text x="77.9" y="214.5" font-size="8.5" fill="#222">KD(M)= 1.95x10<tspan font-size="5.4" dy="-3.6">-7</tspan></text>
<line x1="175" y1="217.7" x2="185.8" y2="217.7" stroke="#262626" stroke-width="1.3" />
<text x="189" y="220.7" font-size="8.4" text-anchor="start" font-weight="normal" fill="#222" >0.5ug/ml</text>
<line x1="175" y1="229.3" x2="185.8" y2="229.3" stroke="#f0a848" stroke-width="1.3" />
<text x="189" y="232.3" font-size="8.4" text-anchor="start" font-weight="normal" fill="#222" >1ug/ml</text>
<line x1="175" y1="240.9" x2="185.8" y2="240.9" stroke="#a868b0" stroke-width="1.3" />
<text x="189" y="243.9" font-size="8.4" text-anchor="start" font-weight="normal" fill="#222" >2ug/ml</text>
<line x1="175" y1="252.5" x2="185.8" y2="252.5" stroke="#3aa860" stroke-width="1.3" />
<text x="189" y="255.5" font-size="8.4" text-anchor="start" font-weight="normal" fill="#222" >4ug/ml</text>
<line x1="175" y1="264.1" x2="185.8" y2="264.1" stroke="#d8404e" stroke-width="1.3" />
<text x="189" y="267.1" font-size="8.4" text-anchor="start" font-weight="normal" fill="#222" >8ug/ml</text>
<line x1="175" y1="275.7" x2="185.8" y2="275.7" stroke="#4a62b0" stroke-width="1.3" />
<text x="189" y="278.7" font-size="8.4" text-anchor="start" font-weight="normal" fill="#222" >2ug/ml</text>
<text x="241.6" y="175.6" font-size="14.2" text-anchor="start" font-weight="bold" fill="#111" >E</text>
<polyline points="264.9,289.6 264.98,288.98 265.36,288.5 265.74,288.12 266.12,287.82 266.5,287.58 266.87,287.37 267.63,287.03 268.39,286.75 269.15,286.51 270.29,286.19 271.42,285.9 272.56,285.64 274.08,285.32 275.97,284.96 277.87,284.65 279.76,284.37 281.66,284.12 283.55,283.91 285.45,283.72 287.34,283.55 289.24,283.4 291.13,283.27 293.03,283.15 294.92,283.05 296.82,282.96 297.95,282.91 298.71,282.88 298.9,283.9 299.09,284.54 299.28,284.95 299.47,285.21 299.66,285.39 299.85,285.52 300.04,285.61 300.23,285.68 300.42,285.74 300.61,285.79 300.79,285.83 300.98,285.87 301.36,285.94 301.74,286 302.12,286.05 302.5,286.1 302.88,286.14 303.26,286.18 303.64,286.21 304.02,286.24 304.4,286.27 304.77,286.3 305.15,286.32 305.53,286.35 305.91,286.37 306.29,286.39 307.81,286.45 309.32,286.51 310.84,286.55 312.35,286.59 313.87,286.62 315.39,286.66 316.9,286.69 318.42,286.72 319.93,286.75 321.45,286.78 322.97,286.8 324.48,286.83 326,286.86 329.03,286.91 332.06,286.97 335.09,287.02 338.13,287.07 341.16,287.12 344.19,287.17 347.22,287.22 350.25,287.26 353.29,287.31 356.32,287.36 359.35,287.4 362.38,287.44 365.41,287.49 368.45,287.53 371.48,287.57 374.51,287.61 377.54,287.65 380.57,287.69 383.61,287.73 386.64,287.76 389.67,287.8 392.7,287.83 395.73,287.87 398.77,287.9 401.8,287.94 404.83,287.97 407.86,288 410.89,288.03 412.41,288.05" fill="none" stroke="#1c1c1c" stroke-width="1.35" stroke-linejoin="round" />
<line x1="298.71" y1="282.88" x2="298.82" y2="280.77" stroke="#1c1c1c" stroke-width="1.2" />
<polyline points="264.9,289.6 264.98,288.07 265.36,286.92 265.74,286.05 266.12,285.38 266.5,284.85 266.87,284.42 267.63,283.76 268.39,283.25 269.15,282.83 270.29,282.29 271.42,281.81 272.56,281.37 274.08,280.84 275.97,280.26 277.87,279.74 279.76,279.28 281.66,278.88 283.55,278.52 285.45,278.21 287.34,277.93 289.24,277.68 291.13,277.47 293.03,277.28 294.92,277.11 296.82,276.96 297.95,276.88 298.71,276.83 298.9,278.48 299.09,279.52 299.28,280.19 299.47,280.63 299.66,280.92 299.85,281.13 300.04,281.28 300.23,281.41 300.42,281.5 300.61,281.59 300.79,281.66 300.98,281.73 301.36,281.84 301.74,281.95 302.12,282.04 302.5,282.12 302.88,282.2 303.26,282.27 303.64,282.34 304.02,282.4 304.4,282.45 304.77,282.5 305.15,282.55 305.53,282.6 305.91,282.64 306.29,282.68 307.81,282.81 309.32,282.93 310.84,283.03 312.35,283.12 313.87,283.21 315.39,283.29 316.9,283.37 318.42,283.44 319.93,283.52 321.45,283.59 322.97,283.66 324.48,283.73 326,283.8 329.03,283.94 332.06,284.08 335.09,284.21 338.13,284.33 341.16,284.46 344.19,284.58 347.22,284.7 350.25,284.82 353.29,284.93 356.32,285.04 359.35,285.15 362.38,285.25 365.41,285.36 368.45,285.46 371.48,285.56 374.51,285.65 377.54,285.75 380.57,285.84 383.61,285.93 386.64,286.01 389.67,286.1 392.7,286.18 395.73,286.26 398.77,286.34 401.8,286.42 404.83,286.49 407.86,286.57 410.89,286.64 412.41,286.68" fill="none" stroke="#f2a23a" stroke-width="1.35" stroke-linejoin="round" />
<line x1="298.71" y1="276.83" x2="298.82" y2="220.19" stroke="#f2a23a" stroke-width="1.2" />
<polyline points="264.9,289.6 264.98,286.52 265.36,284.22 265.74,282.47 266.12,281.12 266.5,280.05 266.87,279.18 267.63,277.83 268.39,276.79 269.15,275.93 270.29,274.81 271.42,273.83 272.56,272.94 274.08,271.85 275.97,270.64 277.87,269.58 279.76,268.64 281.66,267.81 283.55,267.08 285.45,266.43 287.34,265.86 289.24,265.36 291.13,264.92 293.03,264.53 294.92,264.18 296.82,263.87 297.95,263.71 298.71,263.61 298.9,265.86 299.09,267.4 299.28,268.5 299.47,269.32 299.66,269.96 299.85,270.49 300.04,270.94 300.23,271.33 300.42,271.69 300.61,272.02 300.79,272.32 300.98,272.6 301.36,273.11 301.74,273.56 302.12,273.96 302.5,274.32 302.88,274.65 303.26,274.94 303.64,275.2 304.02,275.43 304.4,275.64 304.77,275.83 305.15,276.01 305.53,276.16 305.91,276.3 306.29,276.43 307.81,276.85 309.32,277.15 310.84,277.38 312.35,277.56 313.87,277.72 315.39,277.86 316.9,277.99 318.42,278.11 319.93,278.23 321.45,278.34 322.97,278.45 324.48,278.56 326,278.66 329.03,278.87 332.06,279.08 335.09,279.28 338.13,279.47 341.16,279.67 344.19,279.85 347.22,280.04 350.25,280.22 353.29,280.4 356.32,280.57 359.35,280.75 362.38,280.91 365.41,281.08 368.45,281.24 371.48,281.4 374.51,281.56 377.54,281.71 380.57,281.86 383.61,282.01 386.64,282.15 389.67,282.29 392.7,282.43 395.73,282.57 398.77,282.7 401.8,282.83 404.83,282.96 407.86,283.09 410.89,283.21 412.41,283.27" fill="none" stroke="#9a4fa0" stroke-width="1.35" stroke-linejoin="round" />
<polyline points="264.9,289.6 264.98,286.52 265.36,284.22 265.74,282.47 266.12,281.12 266.5,280.05 266.87,279.18 267.63,277.83 268.39,276.79 269.15,275.93 270.29,274.81 271.42,273.83 272.56,272.94 274.08,271.85 275.97,270.64 277.87,269.58 279.76,268.64 281.66,267.81 283.55,267.08 285.45,266.43 287.34,265.86 289.24,265.36 291.13,264.92 293.03,264.53 294.92,264.18 296.82,263.87 297.95,263.71 298.71,263.61 298.9,265.86 299.09,267.4 299.28,268.5 299.47,269.32 299.66,269.96 299.85,270.49 300.04,270.94 300.23,271.33 300.42,271.69 300.61,272.02 300.79,272.32 300.98,272.6 301.36,273.11 301.74,273.56 302.12,273.96 302.5,274.32 302.88,274.65 303.26,274.94 303.64,275.2 304.02,275.43 304.4,275.64 304.77,275.83 305.15,276.01 305.53,276.16 305.91,276.3 306.29,276.43 307.81,276.85 309.32,277.15 310.84,277.38 312.35,277.56 313.87,277.72 315.39,277.86 316.9,277.99 318.42,278.11 319.93,278.23 321.45,278.34 322.97,278.45 324.48,278.56 326,278.66 329.03,278.87 332.06,279.08 335.09,279.28 338.13,279.47 341.16,279.67 344.19,279.85 347.22,280.04 350.25,280.22 353.29,280.4 356.32,280.57 359.35,280.75 362.38,280.91 365.41,281.08 368.45,281.24 371.48,281.4 374.51,281.56 377.54,281.71 380.57,281.86 383.61,282.01 386.64,282.15 389.67,282.29 392.7,282.43 395.73,282.57 398.77,282.7 401.8,282.83 404.83,282.96 407.86,283.09 410.89,283.21 412.41,283.27" fill="none" stroke="#2c3f9c" stroke-width="1.35" stroke-linejoin="round" />
<line x1="298.71" y1="263.61" x2="298.82" y2="261.84" stroke="#2c3f9c" stroke-width="1.2" />
<polyline points="264.9,289.6 264.98,283.3 265.36,278.67 265.74,275.22 266.12,272.61 266.5,270.59 266.87,269 267.63,266.63 268.39,264.9 269.15,263.53 270.29,261.81 271.42,260.32 272.56,258.98 274.08,257.36 275.97,255.56 277.87,253.96 279.76,252.56 281.66,251.32 283.55,250.23 285.45,249.27 287.34,248.41 289.24,247.66 291.13,247 293.03,246.42 294.92,245.9 296.82,245.44 297.95,245.2 298.71,245.04 298.9,249.49 299.09,252.39 299.28,254.33 299.47,255.68 299.66,256.67 299.85,257.42 300.04,258.03 300.23,258.54 300.42,258.98 300.61,259.37 300.79,259.73 300.98,260.07 301.36,260.67 301.74,261.2 302.12,261.67 302.5,262.11 302.88,262.5 303.26,262.85 303.64,263.17 304.02,263.47 304.4,263.74 304.77,263.98 305.15,264.21 305.53,264.42 305.91,264.61 306.29,264.79 307.81,265.41 309.32,265.89 310.84,266.3 312.35,266.66 313.87,266.99 315.39,267.29 316.9,267.58 318.42,267.86 319.93,268.14 321.45,268.4 322.97,268.66 324.48,268.92 326,269.18 329.03,269.67 332.06,270.16 335.09,270.63 338.13,271.09 341.16,271.55 344.19,271.98 347.22,272.41 350.25,272.83 353.29,273.24 356.32,273.64 359.35,274.03 362.38,274.41 365.41,274.78 368.45,275.14 371.48,275.49 374.51,275.83 377.54,276.17 380.57,276.49 383.61,276.81 386.64,277.12 389.67,277.43 392.7,277.72 395.73,278.01 398.77,278.29 401.8,278.57 404.83,278.84 407.86,279.1 410.89,279.36 412.41,279.48" fill="none" stroke="#2ea655" stroke-width="1.35" stroke-linejoin="round" />
<line x1="298.71" y1="245.04" x2="298.82" y2="229.02" stroke="#2ea655" stroke-width="1.2" />
<polyline points="264.9,289.6 264.98,278.21 265.36,269.93 265.74,263.85 266.12,259.31 266.5,255.88 266.87,253.23 267.63,249.44 268.39,246.82 269.15,244.82 270.29,242.41 271.42,240.38 272.56,238.57 274.08,236.38 275.97,233.96 277.87,231.82 279.76,229.93 281.66,228.27 283.55,226.8 285.45,225.51 287.34,224.36 289.24,223.35 291.13,222.46 293.03,221.68 294.92,220.98 296.82,220.37 297.95,220.04 298.71,219.83 298.9,229.07 299.09,234.91 299.28,238.66 299.47,241.14 299.66,242.84 299.85,244.05 300.04,244.96 300.23,245.68 300.42,246.28 300.61,246.79 300.79,247.24 300.98,247.65 301.36,248.38 301.74,249.03 302.12,249.61 302.5,250.14 302.88,250.62 303.26,251.06 303.64,251.46 304.02,251.83 304.4,252.17 304.77,252.48 305.15,252.78 305.53,253.05 305.91,253.3 306.29,253.54 307.81,254.36 309.32,255.03 310.84,255.6 312.35,256.11 313.87,256.58 315.39,257.02 316.9,257.45 318.42,257.85 319.93,258.25 321.45,258.64 322.97,259.03 324.48,259.4 326,259.77 329.03,260.5 332.06,261.21 335.09,261.9 338.13,262.57 341.16,263.23 344.19,263.87 347.22,264.5 350.25,265.11 353.29,265.71 356.32,266.29 359.35,266.86 362.38,267.41 365.41,267.95 368.45,268.48 371.48,268.99 374.51,269.49 377.54,269.98 380.57,270.46 383.61,270.93 386.64,271.38 389.67,271.82 392.7,272.26 395.73,272.68 398.77,273.09 401.8,273.49 404.83,273.88 407.86,274.27 410.89,274.64 412.41,274.82" fill="none" stroke="#d8283c" stroke-width="1.35" stroke-linejoin="round" />
<line x1="298.71" y1="219.83" x2="298.82" y2="217.67" stroke="#d8283c" stroke-width="1.2" />
<line x1="264.9" y1="188.14" x2="264.9" y2="290.2" stroke="#222" stroke-width="1.2" />
<line x1="261.9" y1="289.6" x2="416.8" y2="289.6" stroke="#222" stroke-width="1.2" />
<text x="261.9" y="292.6" font-size="8.5" text-anchor="end" font-weight="normal" fill="#222" >0</text>
<line x1="261.9" y1="264.36" x2="264.9" y2="264.36" stroke="#222" stroke-width="1.0" />
<text x="261.9" y="267.36" font-size="8.5" text-anchor="end" font-weight="normal" fill="#222" >20</text>
<line x1="261.9" y1="239.12" x2="264.9" y2="239.12" stroke="#222" stroke-width="1.0" />
<text x="261.9" y="242.12" font-size="8.5" text-anchor="end" font-weight="normal" fill="#222" >40</text>
<line x1="261.9" y1="213.88" x2="264.9" y2="213.88" stroke="#222" stroke-width="1.0" />
<text x="261.9" y="216.88" font-size="8.5" text-anchor="end" font-weight="normal" fill="#222" >60</text>
<line x1="261.9" y1="188.64" x2="264.9" y2="188.64" stroke="#222" stroke-width="1.0" />
<text x="261.9" y="191.64" font-size="8.5" text-anchor="end" font-weight="normal" fill="#222" >80</text>
<line x1="302.5" y1="289.6" x2="302.5" y2="292.6" stroke="#222" stroke-width="1.0" />
<text x="303.1" y="301.6" font-size="8.5" text-anchor="middle" font-weight="normal" fill="#222" >100</text>
<line x1="340.4" y1="289.6" x2="340.4" y2="292.6" stroke="#222" stroke-width="1.0" />
<text x="341" y="301.6" font-size="8.5" text-anchor="middle" font-weight="normal" fill="#222" >200</text>
<line x1="378.3" y1="289.6" x2="378.3" y2="292.6" stroke="#222" stroke-width="1.0" />
<text x="378.9" y="301.6" font-size="8.5" text-anchor="middle" font-weight="normal" fill="#222" >300</text>
<line x1="416.2" y1="289.6" x2="416.2" y2="292.6" stroke="#222" stroke-width="1.0" />
<text x="416.8" y="301.6" font-size="8.5" text-anchor="middle" font-weight="normal" fill="#222" >400</text>
<text x="341.2" y="312.3" font-size="8.5" text-anchor="middle" font-weight="normal" fill="#222" >Time(s)</text>
<text x="250" y="230.4" font-size="9" text-anchor="middle" fill="#222" transform="rotate(-90 250 230.4)">Ru</text>
<text x="314.8" y="187.9" font-size="8.6" text-anchor="start" font-weight="normal" fill="#222" >RBD-Y449A-nCoV617</text>
<text x="314.8" y="208.8" font-size="8.5" fill="#222">KD(M)= 4.72x10<tspan font-size="5.4" dy="-3.6">-8</tspan></text>
<line x1="413.3" y1="212.8" x2="423.9" y2="212.8" stroke="#262626" stroke-width="1.3" />
<text x="427.3" y="215.8" font-size="8.4" text-anchor="start" font-weight="normal" fill="#222" >0.5ug/ml</text>
<line x1="413.3" y1="224.4" x2="423.9" y2="224.4" stroke="#f0a848" stroke-width="1.3" />
<text x="427.3" y="227.4" font-size="8.4" text-anchor="start" font-weight="normal" fill="#222" >1ug/ml</text>
<line x1="413.3" y1="236" x2="423.9" y2="236" stroke="#a868b0" stroke-width="1.3" />
<text x="427.3" y="239" font-size="8.4" text-anchor="start" font-weight="normal" fill="#222" >2ug/ml</text>
<line x1="413.3" y1="247.6" x2="423.9" y2="247.6" stroke="#3aa860" stroke-width="1.3" />
<text x="427.3" y="250.6" font-size="8.4" text-anchor="start" font-weight="normal" fill="#222" >4ug/ml</text>
<line x1="413.3" y1="259.2" x2="423.9" y2="259.2" stroke="#d8404e" stroke-width="1.3" />
<text x="427.3" y="262.2" font-size="8.4" text-anchor="start" font-weight="normal" fill="#222" >8ug/ml</text>
<line x1="413.3" y1="270.8" x2="423.9" y2="270.8" stroke="#4a62b0" stroke-width="1.3" />
<text x="427.3" y="273.8" font-size="8.4" text-anchor="start" font-weight="normal" fill="#222" >2ug/ml</text>
<text x="470.1" y="175.6" font-size="14.2" text-anchor="start" font-weight="bold" fill="#111" >F</text>
<polyline points="495.4,286.7 495.4,286.54 495.4,286.48 495.75,286.46 496.13,286.45 496.51,286.45 496.89,286.45 497.65,286.45 498.42,286.45 499.18,286.45 500.33,286.45 501.47,286.45 502.62,286.45 504.14,286.45 506.05,286.45 507.96,286.45 509.87,286.45 511.78,286.45 513.69,286.45 515.59,286.45 517.5,286.45 519.41,286.45 521.32,286.45 523.23,286.45 525.14,286.45 527.04,286.45 528.19,286.45 528.95,286.45 529.14,286.45 529.33,286.45 529.53,286.45 529.72,286.45 529.91,286.45 530.1,286.45 530.29,286.45 530.48,286.45 530.67,286.45 530.86,286.45 531.05,286.45 531.24,286.45 531.62,286.45 532.01,286.45 532.39,286.45 532.77,286.45 533.15,286.45 533.53,286.45 533.92,286.45 534.3,286.45 534.68,286.45 535.06,286.45 535.44,286.45 535.82,286.45 536.21,286.45 536.59,286.45 538.11,286.45 539.64,286.45 541.17,286.46 542.69,286.46 544.22,286.46 545.75,286.46 547.27,286.46 548.8,286.46 550.33,286.46 551.86,286.46 553.38,286.46 554.91,286.46 556.44,286.47 559.49,286.47 562.54,286.47 565.6,286.47 568.65,286.47 571.7,286.47 574.76,286.48 577.81,286.48 580.86,286.48 583.92,286.48 586.97,286.48 590.02,286.48 593.08,286.49 596.13,286.49 599.19,286.49 602.24,286.49 605.29,286.49 608.35,286.49 611.4,286.5 614.45,286.5 617.51,286.5 620.56,286.5 623.61,286.5 626.67,286.5 629.72,286.51 632.78,286.51 635.83,286.51 638.88,286.51 641.94,286.51 643.46,286.51" fill="none" stroke="#1c1c1c" stroke-width="1.35" stroke-linejoin="round" />
<polyline points="495.4,286.7 495.4,286.46 495.4,286.37 495.75,286.34 496.13,286.33 496.51,286.32 496.89,286.32 497.65,286.32 498.42,286.32 499.18,286.32 500.33,286.32 501.47,286.32 502.62,286.32 504.14,286.32 506.05,286.32 507.96,286.32 509.87,286.32 511.78,286.32 513.69,286.32 515.59,286.32 517.5,286.32 519.41,286.32 521.32,286.32 523.23,286.32 525.14,286.32 527.04,286.32 528.19,286.32 528.95,286.32 529.14,286.32 529.33,286.32 529.53,286.32 529.72,286.32 529.91,286.32 530.1,286.32 530.29,286.32 530.48,286.32 530.67,286.32 530.86,286.32 531.05,286.32 531.24,286.32 531.62,286.32 532.01,286.32 532.39,286.32 532.77,286.33 533.15,286.33 533.53,286.33 533.92,286.33 534.3,286.33 534.68,286.33 535.06,286.33 535.44,286.33 535.82,286.33 536.21,286.33 536.59,286.33 538.11,286.33 539.64,286.33 541.17,286.33 542.69,286.33 544.22,286.34 545.75,286.34 547.27,286.34 548.8,286.34 550.33,286.34 551.86,286.34 553.38,286.34 554.91,286.35 556.44,286.35 559.49,286.35 562.54,286.35 565.6,286.36 568.65,286.36 571.7,286.36 574.76,286.36 577.81,286.37 580.86,286.37 583.92,286.37 586.97,286.37 590.02,286.38 593.08,286.38 596.13,286.38 599.19,286.39 602.24,286.39 605.29,286.39 608.35,286.39 611.4,286.39 614.45,286.4 617.51,286.4 620.56,286.4 623.61,286.4 626.67,286.41 629.72,286.41 632.78,286.41 635.83,286.41 638.88,286.42 641.94,286.42 643.46,286.42" fill="none" stroke="#f2a23a" stroke-width="1.35" stroke-linejoin="round" />
<polyline points="495.4,286.7 495.4,286.38 495.4,286.26 495.75,286.22 496.13,286.2 496.51,286.2 496.89,286.2 497.65,286.2 498.42,286.2 499.18,286.2 500.33,286.2 501.47,286.2 502.62,286.2 504.14,286.2 506.05,286.2 507.96,286.2 509.87,286.2 511.78,286.2 513.69,286.2 515.59,286.2 517.5,286.2 519.41,286.2 521.32,286.2 523.23,286.2 525.14,286.2 527.04,286.2 528.19,286.2 528.95,286.2 529.14,286.2 529.33,286.2 529.53,286.2 529.72,286.2 529.91,286.2 530.1,286.2 530.29,286.2 530.48,286.2 530.67,286.2 530.86,286.2 531.05,286.2 531.24,286.2 531.62,286.2 532.01,286.2 532.39,286.2 532.77,286.2 533.15,286.2 533.53,286.2 533.92,286.2 534.3,286.2 534.68,286.2 535.06,286.2 535.44,286.2 535.82,286.2 536.21,286.2 536.59,286.21 538.11,286.21 539.64,286.21 541.17,286.21 542.69,286.21 544.22,286.21 545.75,286.22 547.27,286.22 548.8,286.22 550.33,286.22 551.86,286.22 553.38,286.23 554.91,286.23 556.44,286.23 559.49,286.23 562.54,286.24 565.6,286.24 568.65,286.25 571.7,286.25 574.76,286.25 577.81,286.26 580.86,286.26 583.92,286.26 586.97,286.27 590.02,286.27 593.08,286.27 596.13,286.28 599.19,286.28 602.24,286.28 605.29,286.29 608.35,286.29 611.4,286.29 614.45,286.3 617.51,286.3 620.56,286.3 623.61,286.31 626.67,286.31 629.72,286.31 632.78,286.32 635.83,286.32 638.88,286.32 641.94,286.32 643.46,286.33" fill="none" stroke="#9a4fa0" stroke-width="1.35" stroke-linejoin="round" />
<polyline points="495.4,286.7 495.4,286.65 495.4,286.6 495.75,286.56 496.13,286.52 496.51,286.48 496.89,286.44 497.65,286.37 498.42,286.3 499.18,286.24 500.33,286.17 501.47,286.1 502.62,286.04 504.14,285.98 506.05,285.92 507.96,285.87 509.87,285.83 511.78,285.8 513.69,285.77 515.59,285.75 517.5,285.74 519.41,285.73 521.32,285.72 523.23,285.71 525.14,285.71 527.04,285.7 528.19,285.7 528.95,285.7 529.14,285.7 529.33,285.71 529.53,285.71 529.72,285.71 529.91,285.72 530.1,285.72 530.29,285.72 530.48,285.73 530.67,285.73 530.86,285.73 531.05,285.73 531.24,285.74 531.62,285.74 532.01,285.75 532.39,285.75 532.77,285.76 533.15,285.77 533.53,285.77 533.92,285.78 534.3,285.78 534.68,285.79 535.06,285.79 535.44,285.8 535.82,285.8 536.21,285.81 536.59,285.81 538.11,285.83 539.64,285.85 541.17,285.87 542.69,285.89 544.22,285.91 545.75,285.92 547.27,285.94 548.8,285.95 550.33,285.97 551.86,285.98 553.38,285.99 554.91,286.01 556.44,286.02 559.49,286.04 562.54,286.06 565.6,286.08 568.65,286.1 571.7,286.12 574.76,286.13 577.81,286.15 580.86,286.16 583.92,286.17 586.97,286.19 590.02,286.2 593.08,286.21 596.13,286.21 599.19,286.22 602.24,286.23 605.29,286.24 608.35,286.24 611.4,286.25 614.45,286.26 617.51,286.26 620.56,286.27 623.61,286.27 626.67,286.27 629.72,286.28 632.78,286.28 635.83,286.28 638.88,286.29 641.94,286.29 643.46,286.29" fill="none" stroke="#d8283c" stroke-width="1.35" stroke-linejoin="round" />
<line x1="528.95" y1="285.7" x2="529.07" y2="283.55" stroke="#d8283c" stroke-width="1.2" />
<polyline points="495.4,286.7 495.4,286.46 495.4,286.37 495.75,286.34 496.13,286.33 496.51,286.32 496.89,286.32 497.65,286.32 498.42,286.32 499.18,286.32 500.33,286.32 501.47,286.32 502.62,286.32 504.14,286.32 506.05,286.32 507.96,286.32 509.87,286.32 511.78,286.32 513.69,286.32 515.59,286.32 517.5,286.32 519.41,286.32 521.32,286.32 523.23,286.32 525.14,286.32 527.04,286.32 528.19,286.32 528.95,286.32 529.14,286.32 529.33,286.32 529.53,286.32 529.72,286.32 529.91,286.32 530.1,286.32 530.29,286.32 530.48,286.32 530.67,286.32 530.86,286.32 531.05,286.32 531.24,286.32 531.62,286.32 532.01,286.32 532.39,286.32 532.77,286.33 533.15,286.33 533.53,286.33 533.92,286.33 534.3,286.33 534.68,286.33 535.06,286.33 535.44,286.33 535.82,286.33 536.21,286.33 536.59,286.33 538.11,286.33 539.64,286.33 541.17,286.33 542.69,286.33 544.22,286.34 545.75,286.34 547.27,286.34 548.8,286.34 550.33,286.34 551.86,286.34 553.38,286.34 554.91,286.35 556.44,286.35 559.49,286.35 562.54,286.35 565.6,286.36 568.65,286.36 571.7,286.36 574.76,286.36 577.81,286.37 580.86,286.37 583.92,286.37 586.97,286.37 590.02,286.38 593.08,286.38 596.13,286.38 599.19,286.39 602.24,286.39 605.29,286.39 608.35,286.39 611.4,286.39 614.45,286.4 617.51,286.4 620.56,286.4 623.61,286.4 626.67,286.41 629.72,286.41 632.78,286.41 635.83,286.41 638.88,286.42 641.94,286.42 643.46,286.42" fill="none" stroke="#2ea655" stroke-width="1.35" stroke-linejoin="round" />
<line x1="528.95" y1="286.32" x2="529.07" y2="274.71" stroke="#2ea655" stroke-width="1.2" />
<polyline points="495.4,286.7 495.4,286.46 495.4,286.37 495.75,286.34 496.13,286.33 496.51,286.32 496.89,286.32 497.65,286.32 498.42,286.32 499.18,286.32 500.33,286.32 501.47,286.32 502.62,286.32 504.14,286.32 506.05,286.32 507.96,286.32 509.87,286.32 511.78,286.32 513.69,286.32 515.59,286.32 517.5,286.32 519.41,286.32 521.32,286.32 523.23,286.32 525.14,286.32 527.04,286.32 528.19,286.32 528.95,286.32 529.14,286.32 529.33,286.32 529.53,286.32 529.72,286.32 529.91,286.32 530.1,286.32 530.29,286.32 530.48,286.32 530.67,286.32 530.86,286.32 531.05,286.32 531.24,286.32 531.62,286.32 532.01,286.32 532.39,286.32 532.77,286.33 533.15,286.33 533.53,286.33 533.92,286.33 534.3,286.33 534.68,286.33 535.06,286.33 535.44,286.33 535.82,286.33 536.21,286.33 536.59,286.33 538.11,286.33 539.64,286.33 541.17,286.33 542.69,286.33 544.22,286.34 545.75,286.34 547.27,286.34 548.8,286.34 550.33,286.34 551.86,286.34 553.38,286.34 554.91,286.35 556.44,286.35 559.49,286.35 562.54,286.35 565.6,286.36 568.65,286.36 571.7,286.36 574.76,286.36 577.81,286.37 580.86,286.37 583.92,286.37 586.97,286.37 590.02,286.38 593.08,286.38 596.13,286.38 599.19,286.39 602.24,286.39 605.29,286.39 608.35,286.39 611.4,286.39 614.45,286.4 617.51,286.4 620.56,286.4 623.61,286.4 626.67,286.41 629.72,286.41 632.78,286.41 635.83,286.41 638.88,286.42 641.94,286.42 643.46,286.42" fill="none" stroke="#3b4a8f" stroke-width="1.35" stroke-linejoin="round" />
<line x1="495.4" y1="185.24" x2="495.4" y2="287.3" stroke="#333350" stroke-width="1.2" />
<line x1="492.4" y1="286.7" x2="647.88" y2="286.7" stroke="#333350" stroke-width="1.2" />
<text x="492.4" y="289.7" font-size="8.5" text-anchor="end" font-weight="normal" fill="#222" >0</text>
<line x1="492.4" y1="261.46" x2="495.4" y2="261.46" stroke="#333350" stroke-width="1.0" />
<text x="492.4" y="264.46" font-size="8.5" text-anchor="end" font-weight="normal" fill="#222" >20</text>
<line x1="492.4" y1="236.22" x2="495.4" y2="236.22" stroke="#333350" stroke-width="1.0" />
<text x="492.4" y="239.22" font-size="8.5" text-anchor="end" font-weight="normal" fill="#222" >40</text>
<line x1="492.4" y1="210.98" x2="495.4" y2="210.98" stroke="#333350" stroke-width="1.0" />
<text x="492.4" y="213.98" font-size="8.5" text-anchor="end" font-weight="normal" fill="#222" >60</text>
<line x1="492.4" y1="185.74" x2="495.4" y2="185.74" stroke="#333350" stroke-width="1.0" />
<text x="492.4" y="188.74" font-size="8.5" text-anchor="end" font-weight="normal" fill="#222" >80</text>
<line x1="532.77" y1="286.7" x2="532.77" y2="289.7" stroke="#333350" stroke-width="1.0" />
<text x="533.37" y="298.7" font-size="8.5" text-anchor="middle" font-weight="normal" fill="#222" >100</text>
<line x1="570.94" y1="286.7" x2="570.94" y2="289.7" stroke="#333350" stroke-width="1.0" />
<text x="571.54" y="298.7" font-size="8.5" text-anchor="middle" font-weight="normal" fill="#222" >200</text>
<line x1="609.11" y1="286.7" x2="609.11" y2="289.7" stroke="#333350" stroke-width="1.0" />
<text x="609.71" y="298.7" font-size="8.5" text-anchor="middle" font-weight="normal" fill="#222" >300</text>
<line x1="647.28" y1="286.7" x2="647.28" y2="289.7" stroke="#333350" stroke-width="1.0" />
<text x="647.88" y="298.7" font-size="8.5" text-anchor="middle" font-weight="normal" fill="#222" >400</text>
<text x="571.74" y="309.4" font-size="8.5" text-anchor="middle" font-weight="normal" fill="#222" >Time(s)</text>
<text x="476.8" y="233.5" font-size="9" text-anchor="middle" fill="#222" transform="rotate(-90 476.8 233.5)">Ru</text>
<text x="522.2" y="201.4" font-size="8.6" text-anchor="start" font-weight="normal" fill="#222" >RBD-E484K-nCoV617</text>
<line x1="648" y1="217.8" x2="658.5" y2="217.8" stroke="#262626" stroke-width="1.3" />
<text x="661.8" y="220.8" font-size="8.4" text-anchor="start" font-weight="normal" fill="#222" >5ug/ml</text>
<line x1="648" y1="229.42" x2="658.5" y2="229.42" stroke="#f0a848" stroke-width="1.3" />
<text x="661.8" y="232.42" font-size="8.4" text-anchor="start" font-weight="normal" fill="#222" >10ug/ml</text>
<line x1="648" y1="241.04" x2="658.5" y2="241.04" stroke="#a868b0" stroke-width="1.3" />
<text x="661.8" y="244.04" font-size="8.4" text-anchor="start" font-weight="normal" fill="#222" >20ug/ml</text>
<line x1="648" y1="252.66" x2="658.5" y2="252.66" stroke="#3aa860" stroke-width="1.3" />
<text x="661.8" y="255.66" font-size="8.4" text-anchor="start" font-weight="normal" fill="#222" >40ug/ml</text>
<line x1="648" y1="264.28" x2="658.5" y2="264.28" stroke="#d8404e" stroke-width="1.3" />
<text x="661.8" y="267.28" font-size="8.4" text-anchor="start" font-weight="normal" fill="#222" >80ug/ml</text>
<line x1="648" y1="275.9" x2="658.5" y2="275.9" stroke="#4a62b0" stroke-width="1.3" />
<text x="661.8" y="278.9" font-size="8.4" text-anchor="start" font-weight="normal" fill="#222" >20ug/ml</text>
<text x="-0.3" y="327.4" font-size="14.2" text-anchor="start" font-weight="bold" fill="#111" >G</text>
<polyline points="23.4,442.2 23.4,441.5 23.4,440.89 23.64,440.34 24.02,439.86 24.4,439.43 24.78,439.04 25.54,438.35 26.3,437.75 27.06,437.23 28.2,436.53 29.34,435.9 30.48,435.33 32,434.62 33.9,433.8 35.8,433.05 37.7,432.36 39.6,431.71 41.5,431.12 43.4,430.56 45.3,430.05 47.2,429.57 49.1,429.13 51,428.72 52.9,428.34 54.8,427.99 55.94,427.79 56.7,427.66 56.89,427.96 57.08,428.23 57.27,428.47 57.46,428.7 57.65,428.9 57.84,429.08 58.03,429.24 58.22,429.39 58.41,429.53 58.6,429.65 58.79,429.76 58.98,429.87 59.36,430.04 59.74,430.19 60.12,430.31 60.5,430.41 60.88,430.49 61.26,430.56 61.64,430.62 62.02,430.67 62.4,430.71 62.78,430.75 63.16,430.78 63.54,430.8 63.92,430.82 64.3,430.84 65.82,430.9 67.34,430.95 68.86,430.98 70.38,431.02 71.9,431.05 73.42,431.08 74.94,431.1 76.46,431.13 77.98,431.16 79.5,431.19 81.02,431.22 82.54,431.25 84.06,431.28 87.1,431.33 90.14,431.39 93.18,431.45 96.22,431.5 99.26,431.56 102.3,431.61 105.34,431.67 108.38,431.72 111.42,431.78 114.46,431.83 117.5,431.88 120.54,431.94 123.58,431.99 126.62,432.04 129.66,432.1 132.7,432.15 135.74,432.2 138.78,432.25 141.82,432.3 144.86,432.36 147.9,432.41 150.94,432.46 153.98,432.51 157.02,432.56 160.06,432.61 163.1,432.66 166.14,432.71 169.18,432.76 170.7,432.78" fill="none" stroke="#1c1c1c" stroke-width="1.35" stroke-linejoin="round" />
<line x1="56.7" y1="427.66" x2="56.81" y2="426.5" stroke="#1c1c1c" stroke-width="1.2" />
<polyline points="23.4,442.2 23.4,440.46 23.4,438.96 23.64,437.66 24.02,436.52 24.4,435.51 24.78,434.62 25.54,433.09 26.3,431.82 27.06,430.73 28.2,429.32 29.34,428.09 30.48,426.98 32,425.62 33.9,424.08 35.8,422.66 37.7,421.35 39.6,420.14 41.5,419.02 43.4,417.98 45.3,417.01 47.2,416.12 49.1,415.29 51,414.52 52.9,413.8 54.8,413.14 55.94,412.76 56.7,412.52 56.89,413.4 57.08,414.18 57.27,414.86 57.46,415.47 57.65,416 57.84,416.48 58.03,416.9 58.22,417.27 58.41,417.6 58.6,417.89 58.79,418.15 58.98,418.38 59.36,418.76 59.74,419.06 60.12,419.3 60.5,419.5 60.88,419.65 61.26,419.77 61.64,419.87 62.02,419.95 62.4,420.02 62.78,420.08 63.16,420.13 63.54,420.17 63.92,420.21 64.3,420.24 65.82,420.35 67.34,420.43 68.86,420.51 70.38,420.58 71.9,420.66 73.42,420.73 74.94,420.8 76.46,420.88 77.98,420.95 79.5,421.02 81.02,421.09 82.54,421.17 84.06,421.24 87.1,421.38 90.14,421.52 93.18,421.66 96.22,421.8 99.26,421.94 102.3,422.08 105.34,422.21 108.38,422.35 111.42,422.48 114.46,422.62 117.5,422.75 120.54,422.88 123.58,423.01 126.62,423.14 129.66,423.27 132.7,423.4 135.74,423.53 138.78,423.65 141.82,423.78 144.86,423.9 147.9,424.03 150.94,424.15 153.98,424.27 157.02,424.39 160.06,424.51 163.1,424.63 166.14,424.75 169.18,424.87 170.7,424.93" fill="none" stroke="#f2a23a" stroke-width="1.35" stroke-linejoin="round" />
<line x1="56.7" y1="412.52" x2="56.81" y2="408.47" stroke="#f2a23a" stroke-width="1.2" />
<polyline points="23.4,442.2 23.4,438.24 23.4,434.88 23.64,432.03 24.02,429.6 24.4,427.5 24.78,425.68 25.54,422.7 26.3,420.36 27.06,418.46 28.2,416.15 29.34,414.26 30.48,412.63 32,410.73 33.9,408.63 35.8,406.75 37.7,405.05 39.6,403.5 41.5,402.09 43.4,400.79 45.3,399.61 47.2,398.54 49.1,397.55 51,396.65 52.9,395.83 54.8,395.08 55.94,394.66 56.7,394.39 56.89,395.4 57.08,396.33 57.27,397.19 57.46,397.98 57.65,398.71 57.84,399.37 58.03,399.99 58.22,400.56 58.41,401.08 58.6,401.56 58.79,402.01 58.98,402.42 59.36,403.15 59.74,403.77 60.12,404.3 60.5,404.75 60.88,405.14 61.26,405.48 61.64,405.77 62.02,406.02 62.4,406.23 62.78,406.43 63.16,406.59 63.54,406.74 63.92,406.87 64.3,406.99 65.82,407.36 67.34,407.63 68.86,407.84 70.38,408.04 71.9,408.21 73.42,408.38 74.94,408.55 76.46,408.72 77.98,408.88 79.5,409.04 81.02,409.2 82.54,409.36 84.06,409.52 87.1,409.83 90.14,410.14 93.18,410.45 96.22,410.76 99.26,411.06 102.3,411.36 105.34,411.66 108.38,411.95 111.42,412.24 114.46,412.53 117.5,412.82 120.54,413.1 123.58,413.38 126.62,413.66 129.66,413.93 132.7,414.21 135.74,414.48 138.78,414.74 141.82,415.01 144.86,415.27 147.9,415.53 150.94,415.79 153.98,416.04 157.02,416.29 160.06,416.54 163.1,416.79 166.14,417.03 169.18,417.28 170.7,417.4" fill="none" stroke="#9a4fa0" stroke-width="1.35" stroke-linejoin="round" />
<polyline points="23.4,442.2 23.4,438.24 23.4,434.88 23.64,432.03 24.02,429.6 24.4,427.5 24.78,425.68 25.54,422.7 26.3,420.36 27.06,418.46 28.2,416.15 29.34,414.26 30.48,412.63 32,410.73 33.9,408.63 35.8,406.75 37.7,405.05 39.6,403.5 41.5,402.09 43.4,400.79 45.3,399.61 47.2,398.54 49.1,397.55 51,396.65 52.9,395.83 54.8,395.08 55.94,394.66 56.7,394.39 56.89,395.4 57.08,396.33 57.27,397.19 57.46,397.98 57.65,398.71 57.84,399.37 58.03,399.99 58.22,400.56 58.41,401.08 58.6,401.56 58.79,402.01 58.98,402.42 59.36,403.15 59.74,403.77 60.12,404.3 60.5,404.75 60.88,405.14 61.26,405.48 61.64,405.77 62.02,406.02 62.4,406.23 62.78,406.43 63.16,406.59 63.54,406.74 63.92,406.87 64.3,406.99 65.82,407.36 67.34,407.63 68.86,407.84 70.38,408.04 71.9,408.21 73.42,408.38 74.94,408.55 76.46,408.72 77.98,408.88 79.5,409.04 81.02,409.2 82.54,409.36 84.06,409.52 87.1,409.83 90.14,410.14 93.18,410.45 96.22,410.76 99.26,411.06 102.3,411.36 105.34,411.66 108.38,411.95 111.42,412.24 114.46,412.53 117.5,412.82 120.54,413.1 123.58,413.38 126.62,413.66 129.66,413.93 132.7,414.21 135.74,414.48 138.78,414.74 141.82,415.01 144.86,415.27 147.9,415.53 150.94,415.79 153.98,416.04 157.02,416.29 160.06,416.54 163.1,416.79 166.14,417.03 169.18,417.28 170.7,417.4" fill="none" stroke="#2c3f9c" stroke-width="1.35" stroke-linejoin="round" />
<line x1="56.7" y1="394.39" x2="56.81" y2="393.58" stroke="#2c3f9c" stroke-width="1.2" />
<polyline points="23.4,442.2 23.4,434.8 23.4,428.61 23.64,423.42 24.02,419.05 24.4,415.35 24.78,412.2 25.54,407.19 26.3,403.43 27.06,400.52 28.2,397.2 29.34,394.66 30.48,392.59 32,390.27 33.9,387.81 35.8,385.67 37.7,383.77 39.6,382.05 41.5,380.5 43.4,379.11 45.3,377.84 47.2,376.7 49.1,375.66 51,374.73 52.9,373.88 54.8,373.11 55.94,372.69 56.7,372.42 56.89,374.13 57.08,375.69 57.27,377.11 57.46,378.41 57.65,379.59 57.84,380.67 58.03,381.65 58.22,382.55 58.41,383.37 58.6,384.12 58.79,384.8 58.98,385.42 59.36,386.52 59.74,387.43 60.12,388.2 60.5,388.85 60.88,389.4 61.26,389.86 61.64,390.25 62.02,390.59 62.4,390.88 62.78,391.14 63.16,391.36 63.54,391.55 63.92,391.72 64.3,391.87 65.82,392.36 67.34,392.73 68.86,393.04 70.38,393.32 71.9,393.59 73.42,393.85 74.94,394.11 76.46,394.37 77.98,394.62 79.5,394.87 81.02,395.12 82.54,395.37 84.06,395.62 87.1,396.12 90.14,396.6 93.18,397.09 96.22,397.56 99.26,398.04 102.3,398.5 105.34,398.97 108.38,399.42 111.42,399.88 114.46,400.32 117.5,400.77 120.54,401.21 123.58,401.64 126.62,402.07 129.66,402.49 132.7,402.91 135.74,403.33 138.78,403.74 141.82,404.15 144.86,404.55 147.9,404.95 150.94,405.34 153.98,405.73 157.02,406.12 160.06,406.5 163.1,406.88 166.14,407.25 169.18,407.62 170.7,407.81" fill="none" stroke="#2ea655" stroke-width="1.35" stroke-linejoin="round" />
<line x1="56.7" y1="372.42" x2="56.81" y2="361.16" stroke="#2ea655" stroke-width="1.2" />
<polyline points="23.4,442.2 23.4,432.09 23.4,423.66 23.64,416.62 24.02,410.7 24.4,405.72 24.78,401.5 25.54,394.84 26.3,389.9 27.06,386.14 28.2,381.92 29.34,378.75 30.48,376.22 32,373.44 33.9,370.51 35.8,367.99 37.7,365.74 39.6,363.72 41.5,361.9 43.4,360.26 45.3,358.77 47.2,357.43 49.1,356.21 51,355.11 52.9,354.12 54.8,353.22 55.94,352.72 56.7,352.4 56.89,354.55 57.08,356.53 57.27,358.36 57.46,360.04 57.65,361.6 57.84,363.04 58.03,364.37 58.22,365.59 58.41,366.73 58.6,367.78 58.79,368.74 58.98,369.64 59.36,371.23 59.74,372.6 60.12,373.78 60.5,374.79 60.88,375.66 61.26,376.41 61.64,377.07 62.02,377.63 62.4,378.13 62.78,378.57 63.16,378.95 63.54,379.29 63.92,379.6 64.3,379.87 65.82,380.72 67.34,381.35 68.86,381.85 70.38,382.3 71.9,382.71 73.42,383.09 74.94,383.47 76.46,383.85 77.98,384.21 79.5,384.58 81.02,384.94 82.54,385.3 84.06,385.65 87.1,386.36 90.14,387.06 93.18,387.75 96.22,388.43 99.26,389.1 102.3,389.76 105.34,390.41 108.38,391.06 111.42,391.7 114.46,392.33 117.5,392.95 120.54,393.57 123.58,394.17 126.62,394.77 129.66,395.36 132.7,395.95 135.74,396.53 138.78,397.1 141.82,397.66 144.86,398.22 147.9,398.76 150.94,399.31 153.98,399.84 157.02,400.37 160.06,400.89 163.1,401.41 166.14,401.92 169.18,402.42 170.7,402.67" fill="none" stroke="#d8283c" stroke-width="1.35" stroke-linejoin="round" />
<line x1="56.7" y1="352.4" x2="56.81" y2="351.54" stroke="#d8283c" stroke-width="1.2" />
<line x1="23.4" y1="340.4" x2="23.4" y2="442.8" stroke="#222" stroke-width="1.2" />
<line x1="20.4" y1="442.2" x2="175.1" y2="442.2" stroke="#222" stroke-width="1.2" />
<text x="20.4" y="445.2" font-size="8.5" text-anchor="end" font-weight="normal" fill="#222" >0</text>
<line x1="20.4" y1="421.94" x2="23.4" y2="421.94" stroke="#222" stroke-width="1.0" />
<text x="20.4" y="424.94" font-size="8.5" text-anchor="end" font-weight="normal" fill="#222" >20</text>
<line x1="20.4" y1="401.68" x2="23.4" y2="401.68" stroke="#222" stroke-width="1.0" />
<text x="20.4" y="404.68" font-size="8.5" text-anchor="end" font-weight="normal" fill="#222" >40</text>
<line x1="20.4" y1="381.42" x2="23.4" y2="381.42" stroke="#222" stroke-width="1.0" />
<text x="20.4" y="384.42" font-size="8.5" text-anchor="end" font-weight="normal" fill="#222" >60</text>
<line x1="20.4" y1="361.16" x2="23.4" y2="361.16" stroke="#222" stroke-width="1.0" />
<text x="20.4" y="364.16" font-size="8.5" text-anchor="end" font-weight="normal" fill="#222" >80</text>
<line x1="20.4" y1="340.9" x2="23.4" y2="340.9" stroke="#222" stroke-width="1.0" />
<text x="20.4" y="343.9" font-size="8.5" text-anchor="end" font-weight="normal" fill="#222" >100</text>
<line x1="60.5" y1="442.2" x2="60.5" y2="445.2" stroke="#222" stroke-width="1.0" />
<text x="61.1" y="454.2" font-size="8.5" text-anchor="middle" font-weight="normal" fill="#222" >100</text>
<line x1="98.5" y1="442.2" x2="98.5" y2="445.2" stroke="#222" stroke-width="1.0" />
<text x="99.1" y="454.2" font-size="8.5" text-anchor="middle" font-weight="normal" fill="#222" >200</text>
<line x1="136.5" y1="442.2" x2="136.5" y2="445.2" stroke="#222" stroke-width="1.0" />
<text x="137.1" y="454.2" font-size="8.5" text-anchor="middle" font-weight="normal" fill="#222" >300</text>
<line x1="174.5" y1="442.2" x2="174.5" y2="445.2" stroke="#222" stroke-width="1.0" />
<text x="175.1" y="454.2" font-size="8.5" text-anchor="middle" font-weight="normal" fill="#222" >400</text>
<text x="99.3" y="464.9" font-size="8.5" text-anchor="middle" font-weight="normal" fill="#222" >Time(s)</text>
<text x="8.1" y="387.8" font-size="9" text-anchor="middle" fill="#222" transform="rotate(-90 8.1 387.8)">Ru</text>
<text x="77.9" y="336.2" font-size="8.6" text-anchor="start" font-weight="normal" fill="#222" >RBD-F486A-nCOV617</text>
<text x="77.9" y="360.6" font-size="8.5" fill="#222">KD(M)= 1.10x10<tspan font-size="5.4" dy="-3.6">-8</tspan></text>
<line x1="177.4" y1="377.8" x2="188" y2="377.8" stroke="#262626" stroke-width="1.3" />
<text x="191.2" y="380.8" font-size="8.4" text-anchor="start" font-weight="normal" fill="#222" >0.5ug/ml</text>
<line x1="177.4" y1="389.37" x2="188" y2="389.37" stroke="#f0a848" stroke-width="1.3" />
<text x="191.2" y="392.37" font-size="8.4" text-anchor="start" font-weight="normal" fill="#222" >1ug/ml</text>
<line x1="177.4" y1="400.94" x2="188" y2="400.94" stroke="#a868b0" stroke-width="1.3" />
<text x="191.2" y="403.94" font-size="8.4" text-anchor="start" font-weight="normal" fill="#222" >2ug/ml</text>
<line x1="177.4" y1="412.51" x2="188" y2="412.51" stroke="#3aa860" stroke-width="1.3" />
<text x="191.2" y="415.51" font-size="8.4" text-anchor="start" font-weight="normal" fill="#222" >4ug/ml</text>
<line x1="177.4" y1="424.08" x2="188" y2="424.08" stroke="#d8404e" stroke-width="1.3" />
<text x="191.2" y="427.08" font-size="8.4" text-anchor="start" font-weight="normal" fill="#222" >8ug/ml</text>
<line x1="177.4" y1="435.65" x2="188" y2="435.65" stroke="#4a62b0" stroke-width="1.3" />
<text x="191.2" y="438.65" font-size="8.4" text-anchor="start" font-weight="normal" fill="#222" >2ug/ml</text>
<text x="232" y="327.4" font-size="14.2" text-anchor="start" font-weight="bold" fill="#111" >H</text>
<polyline points="259.1,442.6 259.1,441.64 259.16,440.7 259.54,439.78 259.92,438.88 260.3,437.99 260.69,437.13 261.45,435.45 262.21,433.85 262.97,432.31 264.11,430.11 265.26,428.06 266.4,426.12 267.92,423.73 269.83,421 271.73,418.55 273.64,416.34 275.54,414.35 277.45,412.56 279.35,410.95 281.26,409.5 283.16,408.19 285.07,407.02 286.97,405.96 288.88,405 290.78,404.15 291.93,403.67 292.69,403.37 292.88,403.43 293.07,403.49 293.26,403.54 293.45,403.6 293.64,403.65 293.83,403.71 294.02,403.77 294.21,403.82 294.4,403.88 294.59,403.93 294.79,403.99 294.98,404.05 295.36,404.16 295.74,404.27 296.12,404.38 296.5,404.49 296.88,404.6 297.26,404.71 297.64,404.82 298.02,404.92 298.4,405.03 298.79,405.14 299.17,405.25 299.55,405.36 299.93,405.46 300.31,405.57 301.83,405.99 303.36,406.41 304.88,406.83 306.41,407.24 307.93,407.64 309.45,408.04 310.98,408.44 312.5,408.83 314.03,409.22 315.55,409.6 317.07,409.98 318.6,410.35 320.12,410.72 323.17,411.45 326.22,412.16 329.27,412.85 332.31,413.53 335.36,414.19 338.41,414.84 341.46,415.47 344.51,416.09 347.55,416.69 350.6,417.28 353.65,417.86 356.7,418.42 359.75,418.97 362.79,419.51 365.84,420.04 368.89,420.55 371.94,421.05 374.99,421.54 378.03,422.02 381.08,422.49 384.13,422.95 387.18,423.4 390.23,423.84 393.27,424.26 396.32,424.68 399.37,425.09 402.42,425.49 405.47,425.88 406.99,426.07" fill="none" stroke="#1c1c1c" stroke-width="1.35" stroke-linejoin="round" />
<polyline points="259.1,442.6 259.1,439.63 259.16,436.82 259.54,434.16 259.92,431.64 260.3,429.26 260.69,427 261.45,422.85 262.21,419.12 262.97,415.79 264.11,411.43 265.26,407.73 266.4,404.59 267.92,401.14 269.83,397.76 271.73,395.2 273.64,393.26 275.54,391.78 277.45,390.65 279.35,389.8 281.26,389.15 283.16,388.66 285.07,388.29 286.97,388 288.88,387.79 290.78,387.62 291.93,387.55 292.69,387.5 292.88,387.58 293.07,387.66 293.26,387.74 293.45,387.82 293.64,387.9 293.83,387.98 294.02,388.06 294.21,388.14 294.4,388.22 294.59,388.3 294.79,388.38 294.98,388.45 295.36,388.61 295.74,388.77 296.12,388.93 296.5,389.08 296.88,389.24 297.26,389.39 297.64,389.55 298.02,389.7 298.4,389.86 298.79,390.01 299.17,390.16 299.55,390.31 299.93,390.47 300.31,390.62 301.83,391.22 303.36,391.81 304.88,392.4 306.41,392.98 307.93,393.56 309.45,394.13 310.98,394.69 312.5,395.24 314.03,395.79 315.55,396.33 317.07,396.87 318.6,397.4 320.12,397.92 323.17,398.95 326.22,399.96 329.27,400.94 332.31,401.9 335.36,402.84 338.41,403.75 341.46,404.65 344.51,405.52 347.55,406.37 350.6,407.21 353.65,408.02 356.7,408.82 359.75,409.6 362.79,410.36 365.84,411.1 368.89,411.82 371.94,412.53 374.99,413.23 378.03,413.9 381.08,414.56 384.13,415.21 387.18,415.84 390.23,416.46 393.27,417.06 396.32,417.65 399.37,418.22 402.42,418.78 405.47,419.33 406.99,419.6" fill="none" stroke="#f2a23a" stroke-width="1.35" stroke-linejoin="round" />
<line x1="292.69" y1="387.5" x2="292.8" y2="384.47" stroke="#f2a23a" stroke-width="1.2" />
<polyline points="259.1,442.6 259.1,437.74 259.16,433.22 259.54,429.04 259.92,425.15 260.3,421.55 260.69,418.21 261.45,412.23 262.21,407.08 262.97,402.66 264.11,397.14 265.26,392.74 266.4,389.22 267.92,385.61 269.83,382.38 271.73,380.17 273.64,378.64 275.54,377.59 277.45,376.87 279.35,376.38 281.26,376.04 283.16,375.8 285.07,375.64 286.97,375.53 288.88,375.46 290.78,375.4 291.93,375.38 292.69,375.37 292.88,375.47 293.07,375.57 293.26,375.68 293.45,375.78 293.64,375.88 293.83,375.98 294.02,376.09 294.21,376.19 294.4,376.29 294.59,376.39 294.79,376.49 294.98,376.59 295.36,376.8 295.74,377 296.12,377.2 296.5,377.4 296.88,377.6 297.26,377.8 297.64,378 298.02,378.19 298.4,378.39 298.79,378.59 299.17,378.78 299.55,378.98 299.93,379.17 300.31,379.37 301.83,380.14 303.36,380.9 304.88,381.65 306.41,382.4 307.93,383.13 309.45,383.86 310.98,384.57 312.5,385.28 314.03,385.98 315.55,386.67 317.07,387.35 318.6,388.02 320.12,388.69 323.17,390 326.22,391.27 329.27,392.51 332.31,393.73 335.36,394.91 338.41,396.07 341.46,397.2 344.51,398.3 347.55,399.37 350.6,400.42 353.65,401.44 356.7,402.44 359.75,403.41 362.79,404.36 365.84,405.29 368.89,406.19 371.94,407.08 374.99,407.94 378.03,408.78 381.08,409.6 384.13,410.4 387.18,411.18 390.23,411.94 393.27,412.68 396.32,413.41 399.37,414.11 402.42,414.8 405.47,415.48 406.99,415.81" fill="none" stroke="#9a4fa0" stroke-width="1.35" stroke-linejoin="round" />
<polyline points="259.1,442.6 259.1,437.74 259.16,433.22 259.54,429.04 259.92,425.15 260.3,421.55 260.69,418.21 261.45,412.23 262.21,407.08 262.97,402.66 264.11,397.14 265.26,392.74 266.4,389.22 267.92,385.61 269.83,382.38 271.73,380.17 273.64,378.64 275.54,377.59 277.45,376.87 279.35,376.38 281.26,376.04 283.16,375.8 285.07,375.64 286.97,375.53 288.88,375.46 290.78,375.4 291.93,375.38 292.69,375.37 292.88,375.47 293.07,375.57 293.26,375.68 293.45,375.78 293.64,375.88 293.83,375.98 294.02,376.09 294.21,376.19 294.4,376.29 294.59,376.39 294.79,376.49 294.98,376.59 295.36,376.8 295.74,377 296.12,377.2 296.5,377.4 296.88,377.6 297.26,377.8 297.64,378 298.02,378.19 298.4,378.39 298.79,378.59 299.17,378.78 299.55,378.98 299.93,379.17 300.31,379.37 301.83,380.14 303.36,380.9 304.88,381.65 306.41,382.4 307.93,383.13 309.45,383.86 310.98,384.57 312.5,385.28 314.03,385.98 315.55,386.67 317.07,387.35 318.6,388.02 320.12,388.69 323.17,390 326.22,391.27 329.27,392.51 332.31,393.73 335.36,394.91 338.41,396.07 341.46,397.2 344.51,398.3 347.55,399.37 350.6,400.42 353.65,401.44 356.7,402.44 359.75,403.41 362.79,404.36 365.84,405.29 368.89,406.19 371.94,407.08 374.99,407.94 378.03,408.78 381.08,409.6 384.13,410.4 387.18,411.18 390.23,411.94 393.27,412.68 396.32,413.41 399.37,414.11 402.42,414.8 405.47,415.48 406.99,415.81" fill="none" stroke="#2c3f9c" stroke-width="1.35" stroke-linejoin="round" />
<line x1="292.69" y1="375.37" x2="292.8" y2="378.4" stroke="#2c3f9c" stroke-width="1.2" />
<polyline points="259.1,442.6 259.1,435.72 259.16,429.5 259.54,423.86 259.92,418.77 260.3,414.15 260.69,409.98 261.45,402.79 262.21,396.9 262.97,392.08 264.11,386.44 265.26,382.25 266.4,379.16 267.92,376.24 269.83,373.9 271.73,372.49 273.64,371.63 275.54,371.11 277.45,370.79 279.35,370.6 281.26,370.48 283.16,370.41 285.07,370.37 286.97,370.34 288.88,370.33 290.78,370.32 291.93,370.32 292.69,370.31 292.88,370.43 293.07,370.54 293.26,370.65 293.45,370.76 293.64,370.87 293.83,370.98 294.02,371.09 294.21,371.2 294.4,371.31 294.59,371.42 294.79,371.53 294.98,371.64 295.36,371.86 295.74,372.08 296.12,372.3 296.5,372.52 296.88,372.73 297.26,372.95 297.64,373.16 298.02,373.38 298.4,373.59 298.79,373.81 299.17,374.02 299.55,374.23 299.93,374.44 300.31,374.65 301.83,375.49 303.36,376.31 304.88,377.13 306.41,377.94 307.93,378.73 309.45,379.52 310.98,380.29 312.5,381.06 314.03,381.82 315.55,382.57 317.07,383.3 318.6,384.03 320.12,384.75 323.17,386.17 326.22,387.55 329.27,388.9 332.31,390.21 335.36,391.49 338.41,392.74 341.46,393.96 344.51,395.15 347.55,396.31 350.6,397.44 353.65,398.55 356.7,399.62 359.75,400.68 362.79,401.7 365.84,402.7 368.89,403.68 371.94,404.63 374.99,405.56 378.03,406.46 381.08,407.35 384.13,408.21 387.18,409.05 390.23,409.87 393.27,410.67 396.32,411.45 399.37,412.22 402.42,412.96 405.47,413.68 406.99,414.04" fill="none" stroke="#2ea655" stroke-width="1.35" stroke-linejoin="round" />
<line x1="292.69" y1="370.31" x2="292.8" y2="364.25" stroke="#2ea655" stroke-width="1.2" />
<polyline points="259.1,442.6 259.1,427.99 259.16,416.26 259.54,406.84 259.92,399.29 260.3,393.23 260.69,388.36 261.45,381.33 262.21,376.79 262.97,373.88 264.11,371.32 265.26,370.01 266.4,369.32 267.92,368.9 269.83,368.7 271.73,368.63 273.64,368.61 275.54,368.6 277.45,368.6 279.35,368.6 281.26,368.59 283.16,368.59 285.07,368.59 286.97,368.59 288.88,368.59 290.78,368.59 291.93,368.59 292.69,368.59 292.88,368.71 293.07,368.82 293.26,368.94 293.45,369.05 293.64,369.16 293.83,369.28 294.02,369.39 294.21,369.5 294.4,369.62 294.59,369.73 294.79,369.84 294.98,369.95 295.36,370.18 295.74,370.4 296.12,370.62 296.5,370.84 296.88,371.07 297.26,371.29 297.64,371.51 298.02,371.72 298.4,371.94 298.79,372.16 299.17,372.38 299.55,372.59 299.93,372.81 300.31,373.02 301.83,373.88 303.36,374.72 304.88,375.55 306.41,376.38 307.93,377.19 309.45,377.99 310.98,378.78 312.5,379.57 314.03,380.34 315.55,381.11 317.07,381.86 318.6,382.6 320.12,383.34 323.17,384.79 326.22,386.2 329.27,387.57 332.31,388.91 335.36,390.22 338.41,391.5 341.46,392.75 344.51,393.96 347.55,395.15 350.6,396.31 353.65,397.44 356.7,398.54 359.75,399.61 362.79,400.66 365.84,401.68 368.89,402.68 371.94,403.65 374.99,404.6 378.03,405.53 381.08,406.43 384.13,407.32 387.18,408.18 390.23,409.02 393.27,409.84 396.32,410.63 399.37,411.41 402.42,412.17 405.47,412.92 406.99,413.28" fill="none" stroke="#d8283c" stroke-width="1.35" stroke-linejoin="round" />
<line x1="259.1" y1="341" x2="259.1" y2="443.2" stroke="#222" stroke-width="1.2" />
<line x1="256.1" y1="442.6" x2="411.4" y2="442.6" stroke="#222" stroke-width="1.2" />
<text x="256.1" y="445.6" font-size="8.5" text-anchor="end" font-weight="normal" fill="#222" >0</text>
<line x1="256.1" y1="417.33" x2="259.1" y2="417.33" stroke="#222" stroke-width="1.0" />
<text x="256.1" y="420.33" font-size="8.5" text-anchor="end" font-weight="normal" fill="#222" >50</text>
<line x1="256.1" y1="392.05" x2="259.1" y2="392.05" stroke="#222" stroke-width="1.0" />
<text x="256.1" y="395.05" font-size="8.5" text-anchor="end" font-weight="normal" fill="#222" >100</text>
<line x1="256.1" y1="366.78" x2="259.1" y2="366.78" stroke="#222" stroke-width="1.0" />
<text x="256.1" y="369.78" font-size="8.5" text-anchor="end" font-weight="normal" fill="#222" >150</text>
<line x1="256.1" y1="341.5" x2="259.1" y2="341.5" stroke="#222" stroke-width="1.0" />
<text x="256.1" y="344.5" font-size="8.5" text-anchor="end" font-weight="normal" fill="#222" >200</text>
<line x1="296.5" y1="442.6" x2="296.5" y2="445.6" stroke="#222" stroke-width="1.0" />
<text x="297.1" y="454.6" font-size="8.5" text-anchor="middle" font-weight="normal" fill="#222" >100</text>
<line x1="334.6" y1="442.6" x2="334.6" y2="445.6" stroke="#222" stroke-width="1.0" />
<text x="335.2" y="454.6" font-size="8.5" text-anchor="middle" font-weight="normal" fill="#222" >200</text>
<line x1="372.7" y1="442.6" x2="372.7" y2="445.6" stroke="#222" stroke-width="1.0" />
<text x="373.3" y="454.6" font-size="8.5" text-anchor="middle" font-weight="normal" fill="#222" >300</text>
<line x1="410.8" y1="442.6" x2="410.8" y2="445.6" stroke="#222" stroke-width="1.0" />
<text x="411.4" y="454.6" font-size="8.5" text-anchor="middle" font-weight="normal" fill="#222" >400</text>
<text x="335.4" y="465.3" font-size="8.5" text-anchor="middle" font-weight="normal" fill="#222" >Time(s)</text>
<text x="241.9" y="386" font-size="9" text-anchor="middle" fill="#222" transform="rotate(-90 241.9 386)">Ru</text>
<text x="307.9" y="336.2" font-size="8.6" text-anchor="start" font-weight="normal" fill="#222" >RBD-Q493A-nCoV617</text>
<text x="307.9" y="360.6" font-size="8.5" fill="#222">KD(M)= 5.16x10<tspan font-size="5.4" dy="-3.6">-9</tspan></text>
<line x1="411.6" y1="376.8" x2="422.1" y2="376.8" stroke="#262626" stroke-width="1.3" />
<text x="425.7" y="379.8" font-size="8.4" text-anchor="start" font-weight="normal" fill="#222" >0.5ug/ml</text>
<line x1="411.6" y1="388.42" x2="422.1" y2="388.42" stroke="#f0a848" stroke-width="1.3" />
<text x="425.7" y="391.42" font-size="8.4" text-anchor="start" font-weight="normal" fill="#222" >1ug/ml</text>
<line x1="411.6" y1="400.04" x2="422.1" y2="400.04" stroke="#a868b0" stroke-width="1.3" />
<text x="425.7" y="403.04" font-size="8.4" text-anchor="start" font-weight="normal" fill="#222" >2ug/ml</text>
<line x1="411.6" y1="411.66" x2="422.1" y2="411.66" stroke="#3aa860" stroke-width="1.3" />
<text x="425.7" y="414.66" font-size="8.4" text-anchor="start" font-weight="normal" fill="#222" >4ug/ml</text>
<line x1="411.6" y1="423.28" x2="422.1" y2="423.28" stroke="#d8404e" stroke-width="1.3" />
<text x="425.7" y="426.28" font-size="8.4" text-anchor="start" font-weight="normal" fill="#222" >8ug/ml</text>
<line x1="411.6" y1="434.9" x2="422.1" y2="434.9" stroke="#4a62b0" stroke-width="1.3" />
<text x="425.7" y="437.9" font-size="8.4" text-anchor="start" font-weight="normal" fill="#222" >2ug/ml</text>
<text x="472.5" y="327.4" font-size="14.2" text-anchor="start" font-weight="bold" fill="#111" >I</text>
<polyline points="497.4,440 497.4,438.97 497.4,437.97 497.74,437.01 498.12,436.08 498.5,435.19 498.88,434.33 499.64,432.7 500.4,431.19 501.16,429.79 502.3,427.87 503.44,426.15 504.58,424.62 506.1,422.82 508,420.91 509.9,419.32 511.8,418.01 513.7,416.91 515.6,416 517.5,415.25 519.4,414.62 521.3,414.1 523.2,413.66 525.1,413.3 527,413 528.9,412.75 530.04,412.62 530.8,412.54 530.99,412.56 531.18,412.6 531.37,412.66 531.56,412.73 531.75,412.83 531.94,412.94 532.13,413.06 532.32,413.2 532.51,413.34 532.7,413.49 532.89,413.65 533.08,413.81 533.46,414.15 533.84,414.5 534.22,414.86 534.6,415.22 534.98,415.59 535.36,415.96 535.74,416.32 536.12,416.68 536.5,417.04 536.88,417.4 537.26,417.75 537.64,418.09 538.02,418.43 538.4,418.76 539.92,420.04 541.44,421.23 542.96,422.34 544.48,423.37 546,424.32 547.52,425.21 549.04,426.03 550.56,426.79 552.08,427.5 553.6,428.16 555.12,428.78 556.64,429.35 558.16,429.88 561.2,430.83 564.24,431.65 567.28,432.36 570.32,432.98 573.36,433.52 576.4,433.98 579.44,434.38 582.48,434.74 585.52,435.04 588.56,435.31 591.6,435.54 594.64,435.75 597.68,435.92 600.72,436.08 603.76,436.22 606.8,436.34 609.84,436.45 612.88,436.55 615.92,436.63 618.96,436.71 622,436.78 625.04,436.84 628.08,436.89 631.12,436.94 634.16,436.99 637.2,437.03 640.24,437.06 643.28,437.1 644.8,437.11" fill="none" stroke="#1c1c1c" stroke-width="1.35" stroke-linejoin="round" />
<line x1="530.8" y1="412.54" x2="530.91" y2="410.52" stroke="#1c1c1c" stroke-width="1.2" />
<polyline points="497.4,440 497.4,437.11 497.4,434.45 497.74,431.98 498.12,429.7 498.5,427.59 498.88,425.64 499.64,422.16 500.4,419.19 501.16,416.63 502.3,413.47 503.44,410.94 504.58,408.92 506.1,406.83 508,404.93 509.9,403.57 511.8,402.57 513.7,401.81 515.6,401.22 517.5,400.74 519.4,400.33 521.3,399.97 523.2,399.64 525.1,399.33 527,399.04 528.9,398.76 530.04,398.6 530.8,398.49 530.99,398.5 531.18,398.55 531.37,398.62 531.56,398.71 531.75,398.82 531.94,398.96 532.13,399.11 532.32,399.28 532.51,399.47 532.7,399.66 532.89,399.87 533.08,400.09 533.46,400.56 533.84,401.06 534.22,401.58 534.6,402.12 534.98,402.67 535.36,403.22 535.74,403.79 536.12,404.35 536.5,404.92 536.88,405.49 537.26,406.05 537.64,406.6 538.02,407.16 538.4,407.7 539.92,409.81 541.44,411.78 542.96,413.62 544.48,415.33 546,416.91 547.52,418.38 549.04,419.73 550.56,420.99 552.08,422.14 553.6,423.22 555.12,424.21 556.64,425.13 558.16,425.98 561.2,427.5 564.24,428.8 567.28,429.91 570.32,430.87 573.36,431.7 576.4,432.41 579.44,433.02 582.48,433.55 585.52,434 588.56,434.4 591.6,434.74 594.64,435.03 597.68,435.29 600.72,435.52 603.76,435.71 606.8,435.89 609.84,436.04 612.88,436.17 615.92,436.29 618.96,436.39 622,436.48 625.04,436.57 628.08,436.64 631.12,436.71 634.16,436.77 637.2,436.82 640.24,436.87 643.28,436.92 644.8,436.94" fill="none" stroke="#f2a23a" stroke-width="1.35" stroke-linejoin="round" />
<line x1="530.8" y1="398.49" x2="530.91" y2="395.78" stroke="#f2a23a" stroke-width="1.2" />
<polyline points="497.4,440 497.4,433.38 497.4,427.62 497.74,422.61 498.12,418.24 498.5,414.44 498.88,411.13 499.64,405.73 500.4,401.62 501.16,398.49 502.3,395.12 503.44,392.86 504.58,391.31 506.1,389.96 508,388.94 509.9,388.3 511.8,387.85 513.7,387.5 515.6,387.19 517.5,386.91 519.4,386.63 521.3,386.37 523.2,386.11 525.1,385.84 527,385.58 528.9,385.32 530.04,385.16 530.8,385.06 530.99,385.08 531.18,385.12 531.37,385.19 531.56,385.29 531.75,385.41 531.94,385.55 532.13,385.72 532.32,385.9 532.51,386.1 532.7,386.32 532.89,386.55 533.08,386.79 533.46,387.32 533.84,387.9 534.22,388.5 534.6,389.14 534.98,389.8 535.36,390.48 535.74,391.18 536.12,391.88 536.5,392.59 536.88,393.31 537.26,394.03 537.64,394.74 538.02,395.46 538.4,396.17 539.92,398.96 541.44,401.62 542.96,404.12 544.48,406.46 546,408.64 547.52,410.67 549.04,412.55 550.56,414.29 552.08,415.9 553.6,417.39 555.12,418.77 556.64,420.05 558.16,421.23 561.2,423.34 564.24,425.15 567.28,426.71 570.32,428.05 573.36,429.2 576.4,430.19 579.44,431.04 582.48,431.78 585.52,432.42 588.56,432.97 591.6,433.45 594.64,433.87 597.68,434.23 600.72,434.55 603.76,434.83 606.8,435.07 609.84,435.29 612.88,435.48 615.92,435.64 618.96,435.79 622,435.93 625.04,436.04 628.08,436.15 631.12,436.25 634.16,436.33 637.2,436.41 640.24,436.48 643.28,436.55 644.8,436.58" fill="none" stroke="#9a4fa0" stroke-width="1.35" stroke-linejoin="round" />
<polyline points="497.4,440 497.4,433.38 497.4,427.62 497.74,422.61 498.12,418.24 498.5,414.44 498.88,411.13 499.64,405.73 500.4,401.62 501.16,398.49 502.3,395.12 503.44,392.86 504.58,391.31 506.1,389.96 508,388.94 509.9,388.3 511.8,387.85 513.7,387.5 515.6,387.19 517.5,386.91 519.4,386.63 521.3,386.37 523.2,386.11 525.1,385.84 527,385.58 528.9,385.32 530.04,385.16 530.8,385.06 530.99,385.08 531.18,385.12 531.37,385.19 531.56,385.29 531.75,385.41 531.94,385.55 532.13,385.72 532.32,385.9 532.51,386.1 532.7,386.32 532.89,386.55 533.08,386.79 533.46,387.32 533.84,387.9 534.22,388.5 534.6,389.14 534.98,389.8 535.36,390.48 535.74,391.18 536.12,391.88 536.5,392.59 536.88,393.31 537.26,394.03 537.64,394.74 538.02,395.46 538.4,396.17 539.92,398.96 541.44,401.62 542.96,404.12 544.48,406.46 546,408.64 547.52,410.67 549.04,412.55 550.56,414.29 552.08,415.9 553.6,417.39 555.12,418.77 556.64,420.05 558.16,421.23 561.2,423.34 564.24,425.15 567.28,426.71 570.32,428.05 573.36,429.2 576.4,430.19 579.44,431.04 582.48,431.78 585.52,432.42 588.56,432.97 591.6,433.45 594.64,433.87 597.68,434.23 600.72,434.55 603.76,434.83 606.8,435.07 609.84,435.29 612.88,435.48 615.92,435.64 618.96,435.79 622,435.93 625.04,436.04 628.08,436.15 631.12,436.25 634.16,436.33 637.2,436.41 640.24,436.48 643.28,436.55 644.8,436.58" fill="none" stroke="#2c3f9c" stroke-width="1.35" stroke-linejoin="round" />
<polyline points="497.4,440 497.4,428.55 497.4,419.17 497.74,411.49 498.12,405.19 498.5,400.03 498.88,395.8 499.64,389.48 500.4,385.22 501.16,382.35 502.3,379.68 503.44,378.16 504.58,377.29 506.1,376.64 508,376.22 509.9,375.96 511.8,375.76 513.7,375.59 515.6,375.42 517.5,375.26 519.4,375.1 521.3,374.94 523.2,374.78 525.1,374.62 527,374.46 528.9,374.3 530.04,374.2 530.8,374.14 530.99,374.16 531.18,374.2 531.37,374.28 531.56,374.39 531.75,374.52 531.94,374.68 532.13,374.86 532.32,375.06 532.51,375.29 532.7,375.53 532.89,375.79 533.08,376.07 533.46,376.67 533.84,377.32 534.22,378.02 534.6,378.75 534.98,379.52 535.36,380.31 535.74,381.12 536.12,381.94 536.5,382.78 536.88,383.63 537.26,384.48 537.64,385.34 538.02,386.19 538.4,387.04 539.92,390.41 541.44,393.64 542.96,396.71 544.48,399.59 546,402.28 547.52,404.78 549.04,407.1 550.56,409.25 552.08,411.24 553.6,413.09 555.12,414.8 556.64,416.38 558.16,417.85 561.2,420.46 564.24,422.69 567.28,424.61 570.32,426.26 573.36,427.67 576.4,428.89 579.44,429.93 582.48,430.83 585.52,431.61 588.56,432.28 591.6,432.86 594.64,433.37 597.68,433.8 600.72,434.18 603.76,434.51 606.8,434.8 609.84,435.06 612.88,435.28 615.92,435.48 618.96,435.65 622,435.8 625.04,435.94 628.08,436.06 631.12,436.17 634.16,436.27 637.2,436.35 640.24,436.43 643.28,436.51 644.8,436.54" fill="none" stroke="#2ea655" stroke-width="1.35" stroke-linejoin="round" />
<line x1="530.8" y1="374.14" x2="530.91" y2="370.99" stroke="#2ea655" stroke-width="1.2" />
<polyline points="497.4,440 497.4,425.96 497.4,414.69 497.74,405.64 498.12,398.38 498.5,392.55 498.88,387.86 499.64,381.08 500.4,376.7 501.16,373.87 502.3,371.38 503.44,370.07 504.58,369.37 506.1,368.9 508,368.63 509.9,368.49 511.8,368.4 513.7,368.31 515.6,368.24 517.5,368.16 519.4,368.09 521.3,368.01 523.2,367.94 525.1,367.86 527,367.79 528.9,367.71 530.04,367.67 530.8,367.64 530.99,367.66 531.18,367.71 531.37,367.8 531.56,367.92 531.75,368.06 531.94,368.24 532.13,368.44 532.32,368.66 532.51,368.91 532.7,369.18 532.89,369.47 533.08,369.78 533.46,370.44 533.84,371.16 534.22,371.93 534.6,372.75 534.98,373.59 535.36,374.47 535.74,375.37 536.12,376.28 536.5,377.21 536.88,378.15 537.26,379.09 537.64,380.04 538.02,380.98 538.4,381.93 539.92,385.65 541.44,389.24 542.96,392.63 544.48,395.81 546,398.79 547.52,401.55 549.04,404.12 550.56,406.5 552.08,408.71 553.6,410.75 555.12,412.64 556.64,414.39 558.16,416 561.2,418.88 564.24,421.35 567.28,423.47 570.32,425.28 573.36,426.84 576.4,428.18 579.44,429.33 582.48,430.32 585.52,431.17 588.56,431.91 591.6,432.54 594.64,433.1 597.68,433.57 600.72,433.99 603.76,434.35 606.8,434.66 609.84,434.94 612.88,435.18 615.92,435.39 618.96,435.57 622,435.74 625.04,435.88 628.08,436.01 631.12,436.13 634.16,436.23 637.2,436.33 640.24,436.41 643.28,436.49 644.8,436.52" fill="none" stroke="#d8283c" stroke-width="1.35" stroke-linejoin="round" />
<line x1="497.4" y1="339" x2="497.4" y2="440.6" stroke="#222" stroke-width="1.2" />
<line x1="494.4" y1="440" x2="649.2" y2="440" stroke="#222" stroke-width="1.2" />
<text x="494.4" y="443" font-size="8.5" text-anchor="end" font-weight="normal" fill="#222" >0</text>
<line x1="494.4" y1="406.5" x2="497.4" y2="406.5" stroke="#222" stroke-width="1.0" />
<text x="494.4" y="409.5" font-size="8.5" text-anchor="end" font-weight="normal" fill="#222" >50</text>
<line x1="494.4" y1="373" x2="497.4" y2="373" stroke="#222" stroke-width="1.0" />
<text x="494.4" y="376" font-size="8.5" text-anchor="end" font-weight="normal" fill="#222" >100</text>
<line x1="494.4" y1="339.5" x2="497.4" y2="339.5" stroke="#222" stroke-width="1.0" />
<text x="494.4" y="342.5" font-size="8.5" text-anchor="end" font-weight="normal" fill="#222" >150</text>
<line x1="534.6" y1="440" x2="534.6" y2="443" stroke="#222" stroke-width="1.0" />
<text x="535.2" y="452" font-size="8.5" text-anchor="middle" font-weight="normal" fill="#222" >100</text>
<line x1="572.6" y1="440" x2="572.6" y2="443" stroke="#222" stroke-width="1.0" />
<text x="573.2" y="452" font-size="8.5" text-anchor="middle" font-weight="normal" fill="#222" >200</text>
<line x1="610.6" y1="440" x2="610.6" y2="443" stroke="#222" stroke-width="1.0" />
<text x="611.2" y="452" font-size="8.5" text-anchor="middle" font-weight="normal" fill="#222" >300</text>
<line x1="648.6" y1="440" x2="648.6" y2="443" stroke="#222" stroke-width="1.0" />
<text x="649.2" y="452" font-size="8.5" text-anchor="middle" font-weight="normal" fill="#222" >400</text>
<text x="573.4" y="462.7" font-size="8.5" text-anchor="middle" font-weight="normal" fill="#222" >Time(s)</text>
<text x="480" y="382.6" font-size="9" text-anchor="middle" fill="#222" transform="rotate(-90 480 382.6)">Ru</text>
<text x="545.1" y="336.2" font-size="8.6" text-anchor="start" font-weight="normal" fill="#222" >RBD-F456A-nCOV617</text>
<text x="545.1" y="359.5" font-size="8.5" fill="#222">KD(M)= 2.65x10<tspan font-size="5.4" dy="-3.6">-8</tspan></text>
<line x1="645.4" y1="368.7" x2="656.3" y2="368.7" stroke="#262626" stroke-width="1.3" />
<text x="659.9" y="371.7" font-size="8.4" text-anchor="start" font-weight="normal" fill="#222" >0.5ug/ml</text>
<line x1="645.4" y1="380.26" x2="656.3" y2="380.26" stroke="#f0a848" stroke-width="1.3" />
<text x="659.9" y="383.26" font-size="8.4" text-anchor="start" font-weight="normal" fill="#222" >1ug/ml</text>
<line x1="645.4" y1="391.82" x2="656.3" y2="391.82" stroke="#a868b0" stroke-width="1.3" />
<text x="659.9" y="394.82" font-size="8.4" text-anchor="start" font-weight="normal" fill="#222" >2ug/ml</text>
<line x1="645.4" y1="403.38" x2="656.3" y2="403.38" stroke="#3aa860" stroke-width="1.3" />
<text x="659.9" y="406.38" font-size="8.4" text-anchor="start" font-weight="normal" fill="#222" >4ug/ml</text>
<line x1="645.4" y1="414.94" x2="656.3" y2="414.94" stroke="#d8404e" stroke-width="1.3" />
<text x="659.9" y="417.94" font-size="8.4" text-anchor="start" font-weight="normal" fill="#222" >8ug/ml</text>
<line x1="645.4" y1="426.5" x2="656.3" y2="426.5" stroke="#4a62b0" stroke-width="1.3" />
<text x="659.9" y="429.5" font-size="8.4" text-anchor="start" font-weight="normal" fill="#222" >2ug/ml</text>
<text x="1.2" y="486.4" font-size="14.2" text-anchor="start" font-weight="bold" fill="#111" >J</text>
<polyline points="23.3,595.5 23.3,594.3 23.3,593.4 23.64,592.88 24.02,592.28 24.4,591.99 24.78,591.65 25.54,591.25 26.3,590.89 27.06,590.61 28.2,590.51 29.34,590.53 30.48,590.44 32,590.28 33.9,590.2 35.8,590.08 37.7,590.05 39.6,589.84 41.5,589.45 43.4,589.63 45.3,589.35 47.2,589.17 49.1,588.95 51,589.06 52.9,588.91 54.8,588.78 55.94,588.65 56.7,588.58 56.89,588.79 57.08,589.2 57.27,589.54 57.46,590.17 57.65,590.46 57.84,590.47 58.03,590.65 58.22,591.04 58.41,591.2 58.6,591.62 58.79,591.65 58.98,591.61 59.36,591.94 59.74,592.18 60.12,592.35 60.5,592.81 60.88,593.02 61.26,593.14 61.64,593.11 62.02,593.15 62.4,593.14 62.78,593.3 63.16,593.4 63.54,593.41 63.92,593.58 64.3,593.59 65.82,593.92 67.34,593.72 68.86,593.99 70.38,593.77 71.9,593.91 73.42,594.06 74.94,594.15 76.46,594.12 77.98,593.99 79.5,593.98 81.02,594.21 82.54,594.24 84.06,594.07 87.1,594.06 90.14,594.15 93.18,594.23 96.22,594.1 99.26,594.33 102.3,594.23 105.34,594.18 108.38,594 111.42,594.13 114.46,594.05 117.5,594.22 120.54,594.32 123.58,594.33 126.62,594.07 129.66,594.17 132.7,594.33 135.74,594.45 138.78,594.28 141.82,594.22 144.86,594.33 147.9,594.4 150.94,594.25 153.98,594.17 157.02,594.44 160.06,594.52 163.1,594.42 166.14,594.39 169.18,594.3 170.7,594.49" fill="none" stroke="#1c1c1c" stroke-width="1.35" stroke-linejoin="round" />
<polyline points="23.3,595.5 23.3,593.02 23.3,591.17 23.64,589.68 24.02,588.67 24.4,587.99 24.78,587.52 25.54,586.47 26.3,586.27 27.06,585.8 28.2,585.78 29.34,585.62 30.48,585.3 32,585.34 33.9,584.94 35.8,584.95 37.7,584.92 39.6,584.75 41.5,584.52 43.4,584.27 45.3,584.01 47.2,584.16 49.1,583.91 51,583.83 52.9,583.38 54.8,583.54 55.94,583.49 56.7,583.42 56.89,584.04 57.08,584.53 57.27,585.16 57.46,585.79 57.65,586.22 57.84,586.73 58.03,587.41 58.22,587.88 58.41,587.97 58.6,588.4 58.79,588.99 58.98,589.05 59.36,589.68 59.74,590.13 60.12,590.53 60.5,590.92 60.88,591.27 61.26,591.4 61.64,591.58 62.02,591.53 62.4,592 62.78,591.81 63.16,592.21 63.54,592.26 63.92,592.17 64.3,592.25 65.82,592.62 67.34,592.91 68.86,592.85 70.38,592.95 71.9,592.8 73.42,593.11 74.94,593.08 76.46,592.9 77.98,593.25 79.5,593.12 81.02,592.99 82.54,593.02 84.06,593.31 87.1,593.34 90.14,593.35 93.18,593.04 96.22,593.31 99.26,593.15 102.3,593.11 105.34,593.34 108.38,593.38 111.42,593.14 114.46,593.29 117.5,593.44 120.54,593.28 123.58,593.45 126.62,593.48 129.66,593.6 132.7,593.34 135.74,593.29 138.78,593.41 141.82,593.31 144.86,593.68 147.9,593.61 150.94,593.54 153.98,593.37 157.02,593.39 160.06,593.62 163.1,593.69 166.14,593.63 169.18,593.62 170.7,593.47" fill="none" stroke="#f2a23a" stroke-width="1.35" stroke-linejoin="round" />
<polyline points="23.3,595.5 23.3,591.17 23.3,587.95 23.64,585.64 24.02,583.65 24.4,582.32 24.78,581.27 25.54,579.92 26.3,579.16 27.06,578.73 28.2,578.25 29.34,577.92 30.48,577.53 32,577.44 33.9,577.03 35.8,576.51 37.7,576.3 39.6,576 41.5,575.65 43.4,575.14 45.3,574.85 47.2,574.29 49.1,573.96 51,573.57 52.9,573.44 54.8,573.13 55.94,572.91 56.7,572.65 56.89,573.92 57.08,575.23 57.27,576.43 57.46,577.42 57.65,578.32 57.84,579.19 58.03,579.99 58.22,580.71 58.41,581.46 58.6,582.27 58.79,582.65 58.98,583.36 59.36,584.25 59.74,585.15 60.12,585.75 60.5,586.53 60.88,587.05 61.26,587.51 61.64,587.93 62.02,588.05 62.4,588.45 62.78,588.78 63.16,588.99 63.54,589.01 63.92,589.34 64.3,589.58 65.82,589.88 67.34,590.24 68.86,590.36 70.38,590.79 71.9,590.8 73.42,590.79 74.94,590.86 76.46,590.9 77.98,591.22 79.5,591.19 81.02,591.29 82.54,591.3 84.06,591.1 87.1,591.28 90.14,591.23 93.18,591.45 96.22,591.35 99.26,591.52 102.3,591.62 105.34,591.51 108.38,591.5 111.42,591.8 114.46,591.69 117.5,591.73 120.54,591.89 123.58,591.89 126.62,592 129.66,592.02 132.7,592.04 135.74,591.98 138.78,592 141.82,592.18 144.86,592.27 147.9,592.21 150.94,592.14 153.98,592.33 157.02,592.33 160.06,592.4 163.1,592.25 166.14,592.36 169.18,592.55 170.7,592.55" fill="none" stroke="#9a4fa0" stroke-width="1.35" stroke-linejoin="round" />
<polyline points="23.3,595.5 23.3,591.17 23.3,587.95 23.64,585.58 24.02,583.73 24.4,582.35 24.78,581.5 25.54,580.11 26.3,579.13 27.06,578.7 28.2,578.26 29.34,577.93 30.48,577.48 32,577.36 33.9,576.92 35.8,576.63 37.7,576.25 39.6,575.76 41.5,575.36 43.4,575.19 45.3,574.89 47.2,574.37 49.1,574.17 51,573.87 52.9,573.24 54.8,573.03 55.94,572.69 56.7,572.68 56.89,573.87 57.08,575.23 57.27,576.45 57.46,577.54 57.65,578.34 57.84,579.2 58.03,579.94 58.22,580.94 58.41,581.48 58.6,582.19 58.79,582.75 58.98,583.4 59.36,584.34 59.74,585.1 60.12,585.7 60.5,586.56 60.88,586.97 61.26,587.34 61.64,587.68 62.02,588.26 62.4,588.58 62.78,588.6 63.16,588.82 63.54,589.17 63.92,589.48 64.3,589.37 65.82,590.01 67.34,590.17 68.86,590.47 70.38,590.57 71.9,590.89 73.42,590.8 74.94,591.05 76.46,591.06 77.98,590.98 79.5,591.03 81.02,591.27 82.54,591.29 84.06,591.27 87.1,591.3 90.14,591.39 93.18,591.52 96.22,591.53 99.26,591.44 102.3,591.43 105.34,591.73 108.38,591.62 111.42,591.6 114.46,591.86 117.5,591.66 120.54,591.92 123.58,591.82 126.62,591.87 129.66,591.89 132.7,592.03 135.74,592.03 138.78,592.02 141.82,592.11 144.86,592.08 147.9,592.18 150.94,592.22 153.98,592.38 157.02,592.24 160.06,592.31 163.1,592.42 166.14,592.3 169.18,592.33 170.7,592.44" fill="none" stroke="#2c3f9c" stroke-width="1.35" stroke-linejoin="round" />
<polyline points="23.3,595.5 23.3,587.07 23.3,580.81 23.64,576.25 24.02,572.69 24.4,570.2 24.78,568.25 25.54,565.6 26.3,564.22 27.06,563.23 28.2,562.44 29.34,562.13 30.48,561.62 32,561.42 33.9,560.8 35.8,560.38 37.7,560.05 39.6,559.78 41.5,559.24 43.4,558.87 45.3,558.29 47.2,558.13 49.1,557.5 51,557.05 52.9,556.73 54.8,556.3 55.94,556.24 56.7,555.84 56.89,558.28 57.08,560.24 57.27,562.2 57.46,564.21 57.65,565.67 57.84,567.15 58.03,568.82 58.22,570.03 58.41,571.1 58.6,572.38 58.79,573.18 58.98,574.31 59.36,575.82 59.74,577.46 60.12,578.59 60.5,579.52 60.88,580.66 61.26,581.43 61.64,582.04 62.02,582.69 62.4,583.3 62.78,583.71 63.16,584.11 63.54,584.23 63.92,584.62 64.3,584.82 65.82,585.87 67.34,586.23 68.86,586.81 70.38,586.95 71.9,587.12 73.42,587.36 74.94,587.33 76.46,587.53 77.98,587.6 79.5,587.58 81.02,587.87 82.54,587.66 84.06,587.81 87.1,587.96 90.14,587.91 93.18,588.13 96.22,587.97 99.26,588.15 102.3,588.27 105.34,588.2 108.38,588.35 111.42,588.48 114.46,588.36 117.5,588.62 120.54,588.43 123.58,588.65 126.62,588.59 129.66,588.53 132.7,588.7 135.74,588.72 138.78,588.88 141.82,589.02 144.86,589.05 147.9,589.06 150.94,588.97 153.98,589.07 157.02,589.09 160.06,589.02 163.1,589.3 166.14,589.31 169.18,589.23 170.7,589.44" fill="none" stroke="#2ea655" stroke-width="1.35" stroke-linejoin="round" />
<polyline points="23.3,595.5 23.3,581.79 23.3,571.61 23.64,564.18 24.02,558.43 24.4,554.28 24.78,551.05 25.54,546.93 26.3,544.43 27.06,543 28.2,541.88 29.34,541.03 30.48,540.56 32,540.09 33.9,539.19 35.8,538.77 37.7,538.16 39.6,537.55 41.5,536.75 43.4,536.05 45.3,535.45 47.2,534.93 49.1,534.34 51,533.79 52.9,532.96 54.8,532.36 55.94,532.04 56.7,531.7 56.89,535.42 57.08,538.64 57.27,541.81 57.46,544.82 57.65,547.27 57.84,549.98 58.03,552.09 58.22,554.21 58.41,556.19 58.6,558.03 58.79,559.47 58.98,561.23 59.36,563.79 59.74,566.02 60.12,568.28 60.5,570.01 60.88,571.4 61.26,572.75 61.64,573.85 62.02,574.8 62.4,575.87 62.78,576.6 63.16,577.28 63.54,577.95 63.92,578.23 64.3,578.74 65.82,580.21 67.34,581.39 68.86,581.82 70.38,582.34 71.9,582.8 73.42,583 74.94,583.32 76.46,583.57 77.98,583.75 79.5,583.84 81.02,584 82.54,584 84.06,583.96 87.1,584.11 90.14,584.17 93.18,584.31 96.22,584.54 99.26,584.54 102.3,584.66 105.34,584.64 108.38,584.8 111.42,584.95 114.46,584.92 117.5,584.9 120.54,585.2 123.58,585.08 126.62,585.41 129.66,585.42 132.7,585.5 135.74,585.42 138.78,585.43 141.82,585.56 144.86,585.76 147.9,585.67 150.94,585.9 153.98,586 157.02,585.87 160.06,586.02 163.1,586.07 166.14,586.15 169.18,586.12 170.7,586.31" fill="none" stroke="#d8283c" stroke-width="1.35" stroke-linejoin="round" />
<line x1="23.3" y1="494" x2="23.3" y2="596.1" stroke="#222" stroke-width="1.2" />
<line x1="20.3" y1="595.5" x2="175.1" y2="595.5" stroke="#222" stroke-width="1.2" />
<text x="20.3" y="598.5" font-size="8.5" text-anchor="end" font-weight="normal" fill="#222" >0</text>
<line x1="20.3" y1="570.25" x2="23.3" y2="570.25" stroke="#222" stroke-width="1.0" />
<text x="20.3" y="573.25" font-size="8.5" text-anchor="end" font-weight="normal" fill="#222" >20</text>
<line x1="20.3" y1="545" x2="23.3" y2="545" stroke="#222" stroke-width="1.0" />
<text x="20.3" y="548" font-size="8.5" text-anchor="end" font-weight="normal" fill="#222" >40</text>
<line x1="20.3" y1="519.75" x2="23.3" y2="519.75" stroke="#222" stroke-width="1.0" />
<text x="20.3" y="522.75" font-size="8.5" text-anchor="end" font-weight="normal" fill="#222" >60</text>
<line x1="20.3" y1="494.5" x2="23.3" y2="494.5" stroke="#222" stroke-width="1.0" />
<text x="20.3" y="497.5" font-size="8.5" text-anchor="end" font-weight="normal" fill="#222" >80</text>
<line x1="60.5" y1="595.5" x2="60.5" y2="598.5" stroke="#222" stroke-width="1.0" />
<text x="61.1" y="607.5" font-size="8.5" text-anchor="middle" font-weight="normal" fill="#222" >100</text>
<line x1="98.5" y1="595.5" x2="98.5" y2="598.5" stroke="#222" stroke-width="1.0" />
<text x="99.1" y="607.5" font-size="8.5" text-anchor="middle" font-weight="normal" fill="#222" >200</text>
<line x1="136.5" y1="595.5" x2="136.5" y2="598.5" stroke="#222" stroke-width="1.0" />
<text x="137.1" y="607.5" font-size="8.5" text-anchor="middle" font-weight="normal" fill="#222" >300</text>
<line x1="174.5" y1="595.5" x2="174.5" y2="598.5" stroke="#222" stroke-width="1.0" />
<text x="175.1" y="607.5" font-size="8.5" text-anchor="middle" font-weight="normal" fill="#222" >400</text>
<text x="99.3" y="618.2" font-size="8.5" text-anchor="middle" font-weight="normal" fill="#222" >Time(s)</text>
<text x="7.4" y="545.8" font-size="9" text-anchor="middle" fill="#222" transform="rotate(-90 7.4 545.8)">Ru</text>
<text x="69.9" y="498.2" font-size="8.6" text-anchor="start" font-weight="normal" fill="#222" >RBD-F489A-nCOV617</text>
<text x="69.9" y="522.4" font-size="8.5" fill="#222">KD(M)= 5.11x10<tspan font-size="5.4" dy="-3.6">-8</tspan></text>
<line x1="174.6" y1="524" x2="185.3" y2="524" stroke="#262626" stroke-width="1.3" />
<text x="188.7" y="527" font-size="8.4" text-anchor="start" font-weight="normal" fill="#222" >0.5ug/ml</text>
<line x1="174.6" y1="535.6" x2="185.3" y2="535.6" stroke="#f0a848" stroke-width="1.3" />
<text x="188.7" y="538.6" font-size="8.4" text-anchor="start" font-weight="normal" fill="#222" >1ug/ml</text>
<line x1="174.6" y1="547.2" x2="185.3" y2="547.2" stroke="#a868b0" stroke-width="1.3" />
<text x="188.7" y="550.2" font-size="8.4" text-anchor="start" font-weight="normal" fill="#222" >2ug/ml</text>
<line x1="174.6" y1="558.8" x2="185.3" y2="558.8" stroke="#3aa860" stroke-width="1.3" />
<text x="188.7" y="561.8" font-size="8.4" text-anchor="start" font-weight="normal" fill="#222" >4ug/ml</text>
<line x1="174.6" y1="570.4" x2="185.3" y2="570.4" stroke="#d8404e" stroke-width="1.3" />
<text x="188.7" y="573.4" font-size="8.4" text-anchor="start" font-weight="normal" fill="#222" >8ug/ml</text>
<line x1="174.6" y1="582" x2="185.3" y2="582" stroke="#4a62b0" stroke-width="1.3" />
<text x="188.7" y="585" font-size="8.4" text-anchor="start" font-weight="normal" fill="#222" >2ug/ml</text>
<text x="232.9" y="486.4" font-size="14.2" text-anchor="start" font-weight="bold" fill="#111" >K</text>
<polyline points="253.6,599.3 253.6,599.21 253.6,599.13 253.75,599.04 254.13,598.95 254.51,598.87 254.89,598.78 255.65,598.61 256.42,598.44 257.18,598.27 258.33,598.02 259.47,597.78 260.62,597.53 262.14,597.21 264.05,596.82 265.96,596.43 267.87,596.06 269.78,595.69 271.69,595.32 273.59,594.97 275.5,594.62 277.41,594.28 279.32,593.94 281.23,593.61 283.14,593.29 285.04,592.98 286.19,592.79 286.95,592.67 287.14,592.67 287.33,592.68 287.53,592.68 287.72,592.69 287.91,592.69 288.1,592.7 288.29,592.7 288.48,592.7 288.67,592.71 288.86,592.71 289.05,592.72 289.24,592.72 289.62,592.73 290.01,592.74 290.39,592.75 290.77,592.76 291.15,592.77 291.53,592.78 291.92,592.79 292.3,592.8 292.68,592.81 293.06,592.82 293.44,592.83 293.82,592.84 294.21,592.84 294.59,592.85 296.11,592.89 297.64,592.93 299.17,592.96 300.69,593 302.22,593.04 303.75,593.07 305.27,593.11 306.8,593.14 308.33,593.18 309.86,593.21 311.38,593.25 312.91,593.28 314.44,593.32 317.49,593.38 320.54,593.45 323.6,593.52 326.65,593.58 329.7,593.65 332.76,593.71 335.81,593.78 338.86,593.84 341.92,593.9 344.97,593.96 348.02,594.02 351.08,594.08 354.13,594.14 357.19,594.2 360.24,594.26 363.29,594.32 366.35,594.37 369.4,594.43 372.45,594.48 375.51,594.54 378.56,594.59 381.61,594.65 384.67,594.7 387.72,594.75 390.78,594.8 393.83,594.85 396.88,594.9 399.94,594.95 401.46,594.98" fill="none" stroke="#1c1c1c" stroke-width="1.35" stroke-linejoin="round" />
<line x1="286.95" y1="592.67" x2="287.07" y2="591.26" stroke="#1c1c1c" stroke-width="1.2" />
<polyline points="253.6,599.3 253.6,599.12 253.6,598.93 253.75,598.75 254.13,598.57 254.51,598.39 254.89,598.21 255.65,597.86 256.42,597.5 257.18,597.15 258.33,596.63 259.47,596.11 260.62,595.6 262.14,594.93 264.05,594.11 265.96,593.31 267.87,592.52 269.78,591.74 271.69,590.98 273.59,590.24 275.5,589.51 277.41,588.8 279.32,588.1 281.23,587.41 283.14,586.74 285.04,586.08 286.19,585.69 286.95,585.43 287.14,585.44 287.33,585.45 287.53,585.46 287.72,585.48 287.91,585.49 288.1,585.5 288.29,585.51 288.48,585.52 288.67,585.53 288.86,585.54 289.05,585.55 289.24,585.56 289.62,585.59 290.01,585.61 290.39,585.63 290.77,585.65 291.15,585.68 291.53,585.7 291.92,585.72 292.3,585.74 292.68,585.76 293.06,585.78 293.44,585.81 293.82,585.83 294.21,585.85 294.59,585.87 296.11,585.96 297.64,586.04 299.17,586.13 300.69,586.21 302.22,586.3 303.75,586.38 305.27,586.47 306.8,586.55 308.33,586.63 309.86,586.71 311.38,586.79 312.91,586.87 314.44,586.95 317.49,587.11 320.54,587.27 323.6,587.42 326.65,587.58 329.7,587.73 332.76,587.87 335.81,588.02 338.86,588.17 341.92,588.31 344.97,588.45 348.02,588.59 351.08,588.73 354.13,588.86 357.19,589 360.24,589.13 363.29,589.26 366.35,589.39 369.4,589.52 372.45,589.64 375.51,589.77 378.56,589.89 381.61,590.01 384.67,590.13 387.72,590.25 390.78,590.36 393.83,590.48 396.88,590.59 399.94,590.7 401.46,590.76" fill="none" stroke="#f2a23a" stroke-width="1.35" stroke-linejoin="round" />
<line x1="286.95" y1="585.43" x2="287.07" y2="580.2" stroke="#f2a23a" stroke-width="1.2" />
<polyline points="253.6,599.3 253.6,598.94 253.6,598.57 253.75,598.21 254.13,597.85 254.51,597.49 254.89,597.13 255.65,596.42 256.42,595.72 257.18,595.02 258.33,593.98 259.47,592.95 260.62,591.93 262.14,590.6 264.05,588.96 265.96,587.36 267.87,585.78 269.78,584.24 271.69,582.73 273.59,581.25 275.5,579.79 277.41,578.37 279.32,576.97 281.23,575.61 283.14,574.27 285.04,572.95 286.19,572.17 286.95,571.66 287.14,571.69 287.33,571.71 287.53,571.73 287.72,571.75 287.91,571.78 288.1,571.8 288.29,571.82 288.48,571.84 288.67,571.87 288.86,571.89 289.05,571.91 289.24,571.93 289.62,571.98 290.01,572.02 290.39,572.07 290.77,572.11 291.15,572.16 291.53,572.2 291.92,572.25 292.3,572.29 292.68,572.34 293.06,572.38 293.44,572.42 293.82,572.47 294.21,572.51 294.59,572.56 296.11,572.73 297.64,572.9 299.17,573.08 300.69,573.25 302.22,573.42 303.75,573.59 305.27,573.76 306.8,573.93 308.33,574.09 309.86,574.26 311.38,574.42 312.91,574.58 314.44,574.75 317.49,575.07 320.54,575.38 323.6,575.69 326.65,576 329.7,576.31 332.76,576.61 335.81,576.9 338.86,577.2 341.92,577.48 344.97,577.77 348.02,578.05 351.08,578.33 354.13,578.6 357.19,578.87 360.24,579.14 363.29,579.4 366.35,579.66 369.4,579.92 372.45,580.17 375.51,580.42 378.56,580.67 381.61,580.91 384.67,581.15 387.72,581.39 390.78,581.62 393.83,581.85 396.88,582.08 399.94,582.3 401.46,582.42" fill="none" stroke="#9a4fa0" stroke-width="1.35" stroke-linejoin="round" />
<polyline points="253.6,599.3 253.6,598.94 253.6,598.57 253.75,598.21 254.13,597.85 254.51,597.49 254.89,597.13 255.65,596.42 256.42,595.72 257.18,595.02 258.33,593.98 259.47,592.95 260.62,591.93 262.14,590.6 264.05,588.96 265.96,587.36 267.87,585.78 269.78,584.24 271.69,582.73 273.59,581.25 275.5,579.79 277.41,578.37 279.32,576.97 281.23,575.61 283.14,574.27 285.04,572.95 286.19,572.17 286.95,571.66 287.14,571.69 287.33,571.71 287.53,571.73 287.72,571.75 287.91,571.78 288.1,571.8 288.29,571.82 288.48,571.84 288.67,571.87 288.86,571.89 289.05,571.91 289.24,571.93 289.62,571.98 290.01,572.02 290.39,572.07 290.77,572.11 291.15,572.16 291.53,572.2 291.92,572.25 292.3,572.29 292.68,572.34 293.06,572.38 293.44,572.42 293.82,572.47 294.21,572.51 294.59,572.56 296.11,572.73 297.64,572.9 299.17,573.08 300.69,573.25 302.22,573.42 303.75,573.59 305.27,573.76 306.8,573.93 308.33,574.09 309.86,574.26 311.38,574.42 312.91,574.58 314.44,574.75 317.49,575.07 320.54,575.38 323.6,575.69 326.65,576 329.7,576.31 332.76,576.61 335.81,576.9 338.86,577.2 341.92,577.48 344.97,577.77 348.02,578.05 351.08,578.33 354.13,578.6 357.19,578.87 360.24,579.14 363.29,579.4 366.35,579.66 369.4,579.92 372.45,580.17 375.51,580.42 378.56,580.67 381.61,580.91 384.67,581.15 387.72,581.39 390.78,581.62 393.83,581.85 396.88,582.08 399.94,582.3 401.46,582.42" fill="none" stroke="#2c3f9c" stroke-width="1.35" stroke-linejoin="round" />
<line x1="286.95" y1="571.66" x2="287.07" y2="570.66" stroke="#2c3f9c" stroke-width="1.2" />
<polyline points="253.6,599.3 253.6,598.64 253.6,597.98 253.75,597.33 254.13,596.67 254.51,596.02 254.89,595.37 255.65,594.09 256.42,592.81 257.18,591.54 258.33,589.66 259.47,587.8 260.62,585.96 262.14,583.55 264.05,580.58 265.96,577.67 267.87,574.82 269.78,572.03 271.69,569.29 273.59,566.61 275.5,563.98 277.41,561.4 279.32,558.87 281.23,556.39 283.14,553.96 285.04,551.58 286.19,550.18 286.95,549.25 287.14,549.29 287.33,549.33 287.53,549.37 287.72,549.41 287.91,549.45 288.1,549.49 288.29,549.53 288.48,549.57 288.67,549.61 288.86,549.65 289.05,549.69 289.24,549.73 289.62,549.81 290.01,549.89 290.39,549.97 290.77,550.05 291.15,550.13 291.53,550.2 291.92,550.28 292.3,550.36 292.68,550.44 293.06,550.52 293.44,550.6 293.82,550.67 294.21,550.75 294.59,550.83 296.11,551.14 297.64,551.45 299.17,551.75 300.69,552.06 302.22,552.36 303.75,552.66 305.27,552.95 306.8,553.25 308.33,553.54 309.86,553.84 311.38,554.13 312.91,554.42 314.44,554.7 317.49,555.27 320.54,555.83 323.6,556.38 326.65,556.93 329.7,557.47 332.76,558 335.81,558.53 338.86,559.05 341.92,559.56 344.97,560.07 348.02,560.57 351.08,561.06 354.13,561.55 357.19,562.03 360.24,562.5 363.29,562.97 366.35,563.43 369.4,563.89 372.45,564.34 375.51,564.78 378.56,565.22 381.61,565.66 384.67,566.09 387.72,566.51 390.78,566.93 393.83,567.34 396.88,567.75 399.94,568.15 401.46,568.35" fill="none" stroke="#2ea655" stroke-width="1.35" stroke-linejoin="round" />
<line x1="286.95" y1="549.25" x2="287.07" y2="536.49" stroke="#2ea655" stroke-width="1.2" />
<polyline points="253.6,599.3 253.6,597.94 253.6,596.59 253.75,595.26 254.13,593.94 254.51,592.64 254.89,591.35 255.65,588.82 256.42,586.34 257.18,583.91 258.33,580.37 259.47,576.95 260.62,573.64 262.14,569.39 264.05,564.33 265.96,559.54 267.87,555.01 269.78,550.72 271.69,546.66 273.59,542.82 275.5,539.19 277.41,535.74 279.32,532.49 281.23,529.4 283.14,526.49 285.04,523.72 286.19,522.14 286.95,521.11 287.14,521.17 287.33,521.24 287.53,521.3 287.72,521.36 287.91,521.43 288.1,521.49 288.29,521.55 288.48,521.62 288.67,521.68 288.86,521.74 289.05,521.81 289.24,521.87 289.62,521.99 290.01,522.12 290.39,522.25 290.77,522.37 291.15,522.5 291.53,522.62 291.92,522.74 292.3,522.87 292.68,522.99 293.06,523.12 293.44,523.24 293.82,523.36 294.21,523.49 294.59,523.61 296.11,524.1 297.64,524.59 299.17,525.07 300.69,525.55 302.22,526.03 303.75,526.5 305.27,526.97 306.8,527.44 308.33,527.91 309.86,528.37 311.38,528.83 312.91,529.28 314.44,529.74 317.49,530.64 320.54,531.52 323.6,532.4 326.65,533.26 329.7,534.11 332.76,534.95 335.81,535.78 338.86,536.6 341.92,537.41 344.97,538.21 348.02,539 351.08,539.78 354.13,540.55 357.19,541.3 360.24,542.05 363.29,542.79 366.35,543.52 369.4,544.24 372.45,544.95 375.51,545.65 378.56,546.35 381.61,547.03 384.67,547.7 387.72,548.37 390.78,549.03 393.83,549.68 396.88,550.32 399.94,550.95 401.46,551.26" fill="none" stroke="#d8283c" stroke-width="1.35" stroke-linejoin="round" />
<line x1="286.95" y1="521.11" x2="287.07" y2="518.9" stroke="#d8283c" stroke-width="1.2" />
<line x1="253.6" y1="498.3" x2="253.6" y2="599.9" stroke="#222" stroke-width="1.2" />
<line x1="250.6" y1="599.3" x2="405.88" y2="599.3" stroke="#222" stroke-width="1.2" />
<text x="250.6" y="602.3" font-size="8.5" text-anchor="end" font-weight="normal" fill="#222" >0</text>
<line x1="250.6" y1="579.2" x2="253.6" y2="579.2" stroke="#222" stroke-width="1.0" />
<text x="250.6" y="582.2" font-size="8.5" text-anchor="end" font-weight="normal" fill="#222" >20</text>
<line x1="250.6" y1="559.1" x2="253.6" y2="559.1" stroke="#222" stroke-width="1.0" />
<text x="250.6" y="562.1" font-size="8.5" text-anchor="end" font-weight="normal" fill="#222" >40</text>
<line x1="250.6" y1="539" x2="253.6" y2="539" stroke="#222" stroke-width="1.0" />
<text x="250.6" y="542" font-size="8.5" text-anchor="end" font-weight="normal" fill="#222" >60</text>
<line x1="250.6" y1="518.9" x2="253.6" y2="518.9" stroke="#222" stroke-width="1.0" />
<text x="250.6" y="521.9" font-size="8.5" text-anchor="end" font-weight="normal" fill="#222" >80</text>
<line x1="250.6" y1="498.8" x2="253.6" y2="498.8" stroke="#222" stroke-width="1.0" />
<text x="250.6" y="501.8" font-size="8.5" text-anchor="end" font-weight="normal" fill="#222" >100</text>
<line x1="290.77" y1="599.3" x2="290.77" y2="602.3" stroke="#222" stroke-width="1.0" />
<text x="291.37" y="611.3" font-size="8.5" text-anchor="middle" font-weight="normal" fill="#222" >100</text>
<line x1="328.94" y1="599.3" x2="328.94" y2="602.3" stroke="#222" stroke-width="1.0" />
<text x="329.54" y="611.3" font-size="8.5" text-anchor="middle" font-weight="normal" fill="#222" >200</text>
<line x1="367.11" y1="599.3" x2="367.11" y2="602.3" stroke="#222" stroke-width="1.0" />
<text x="367.71" y="611.3" font-size="8.5" text-anchor="middle" font-weight="normal" fill="#222" >300</text>
<line x1="405.28" y1="599.3" x2="405.28" y2="602.3" stroke="#222" stroke-width="1.0" />
<text x="405.88" y="611.3" font-size="8.5" text-anchor="middle" font-weight="normal" fill="#222" >400</text>
<text x="329.74" y="622" font-size="8.5" text-anchor="middle" font-weight="normal" fill="#222" >Time(s)</text>
<text x="238.5" y="549.2" font-size="9" text-anchor="middle" fill="#222" transform="rotate(-90 238.5 549.2)">Ru</text>
<text x="323.5" y="496.6" font-size="8.6" text-anchor="start" font-weight="normal" fill="#222" >RBD-N501Y-nCoV617</text>
<text x="337.4" y="521.1" font-size="8.5" fill="#222">KD(M)= 3.50x10<tspan font-size="5.4" dy="-3.6">-8</tspan></text>
<line x1="406.3" y1="531.8" x2="416.6" y2="531.8" stroke="#4a4a3a" stroke-width="1.3" />
<text x="420" y="534.8" font-size="8.4" text-anchor="start" font-weight="normal" fill="#222" >0.5ug/ml</text>
<line x1="406.3" y1="543.44" x2="416.6" y2="543.44" stroke="#f0a848" stroke-width="1.3" />
<text x="420" y="546.44" font-size="8.4" text-anchor="start" font-weight="normal" fill="#222" >1ug/ml</text>
<line x1="406.3" y1="555.08" x2="416.6" y2="555.08" stroke="#a868b0" stroke-width="1.3" />
<text x="420" y="558.08" font-size="8.4" text-anchor="start" font-weight="normal" fill="#222" >2ug/ml</text>
<line x1="406.3" y1="566.72" x2="416.6" y2="566.72" stroke="#3aa860" stroke-width="1.3" />
<text x="420" y="569.72" font-size="8.4" text-anchor="start" font-weight="normal" fill="#222" >4ug/ml</text>
<line x1="406.3" y1="578.36" x2="416.6" y2="578.36" stroke="#d8404e" stroke-width="1.3" />
<text x="420" y="581.36" font-size="8.4" text-anchor="start" font-weight="normal" fill="#222" >8ug/ml</text>
<line x1="406.3" y1="590" x2="416.6" y2="590" stroke="#4a62b0" stroke-width="1.3" />
<text x="420" y="593" font-size="8.4" text-anchor="start" font-weight="normal" fill="#222" >2ug/ml</text>
<text x="470.1" y="486.4" font-size="14.2" text-anchor="start" font-weight="bold" fill="#111" >L</text>
<polyline points="489.6,597.6 489.6,597.51 489.6,597.42 489.75,597.33 490.13,597.24 490.51,597.15 490.89,597.06 491.65,596.89 492.42,596.71 493.18,596.54 494.33,596.28 495.47,596.02 496.62,595.77 498.14,595.44 500.05,595.04 501.96,594.64 503.87,594.25 505.78,593.87 507.69,593.49 509.59,593.12 511.5,592.76 513.41,592.41 515.32,592.06 517.23,591.72 519.14,591.39 521.04,591.07 522.19,590.87 522.95,590.75 523.14,590.75 523.33,590.76 523.53,590.77 523.72,590.78 523.91,590.79 524.1,590.79 524.29,590.8 524.48,590.81 524.67,590.82 524.86,590.83 525.05,590.84 525.24,590.84 525.62,590.86 526.01,590.88 526.39,590.89 526.77,590.91 527.15,590.92 527.53,590.94 527.92,590.96 528.3,590.97 528.68,590.99 529.06,591 529.44,591.02 529.82,591.04 530.21,591.05 530.59,591.07 532.11,591.13 533.64,591.19 535.17,591.25 536.69,591.32 538.22,591.38 539.75,591.44 541.27,591.49 542.8,591.55 544.33,591.61 545.86,591.67 547.38,591.73 548.91,591.78 550.44,591.84 553.49,591.95 556.54,592.06 559.6,592.16 562.65,592.27 565.7,592.37 568.76,592.47 571.81,592.57 574.86,592.66 577.92,592.76 580.97,592.85 584.02,592.94 587.08,593.03 590.13,593.12 593.19,593.2 596.24,593.28 599.29,593.37 602.35,593.45 605.4,593.53 608.45,593.6 611.51,593.68 614.56,593.76 617.61,593.83 620.67,593.9 623.72,593.97 626.78,594.04 629.83,594.11 632.88,594.18 635.94,594.24 637.46,594.27" fill="none" stroke="#1c1c1c" stroke-width="1.35" stroke-linejoin="round" />
<line x1="522.95" y1="590.75" x2="523.07" y2="588.53" stroke="#1c1c1c" stroke-width="1.2" />
<polyline points="489.6,597.6 489.6,597.43 489.6,597.27 489.75,597.1 490.13,596.93 490.51,596.77 490.89,596.6 491.65,596.28 492.42,595.95 493.18,595.63 494.33,595.15 495.47,594.68 496.62,594.22 498.14,593.6 500.05,592.85 501.96,592.11 503.87,591.39 505.78,590.68 507.69,589.98 509.59,589.3 511.5,588.64 513.41,587.98 515.32,587.34 517.23,586.71 519.14,586.1 521.04,585.49 522.19,585.13 522.95,584.9 523.14,584.91 523.33,584.92 523.53,584.94 523.72,584.95 523.91,584.96 524.1,584.97 524.29,584.98 524.48,585 524.67,585.01 524.86,585.02 525.05,585.03 525.24,585.04 525.62,585.07 526.01,585.09 526.39,585.12 526.77,585.14 527.15,585.16 527.53,585.19 527.92,585.21 528.3,585.23 528.68,585.26 529.06,585.28 529.44,585.31 529.82,585.33 530.21,585.35 530.59,585.38 532.11,585.47 533.64,585.56 535.17,585.65 536.69,585.74 538.22,585.83 539.75,585.92 541.27,586.01 542.8,586.1 544.33,586.19 545.86,586.28 547.38,586.36 548.91,586.45 550.44,586.53 553.49,586.7 556.54,586.87 559.6,587.03 562.65,587.19 565.7,587.35 568.76,587.5 571.81,587.66 574.86,587.81 577.92,587.96 580.97,588.1 584.02,588.25 587.08,588.39 590.13,588.53 593.19,588.67 596.24,588.8 599.29,588.94 602.35,589.07 605.4,589.2 608.45,589.32 611.51,589.45 614.56,589.57 617.61,589.7 620.67,589.82 623.72,589.93 626.78,590.05 629.83,590.16 632.88,590.28 635.94,590.39 637.46,590.44" fill="none" stroke="#f2a23a" stroke-width="1.35" stroke-linejoin="round" />
<line x1="522.95" y1="584.9" x2="523.07" y2="574.42" stroke="#f2a23a" stroke-width="1.2" />
<polyline points="489.6,597.6 489.6,597.28 489.6,596.95 489.75,596.63 490.13,596.31 490.51,596 490.89,595.68 491.65,595.05 492.42,594.42 493.18,593.8 494.33,592.88 495.47,591.97 496.62,591.07 498.14,589.89 500.05,588.44 501.96,587.02 503.87,585.62 505.78,584.25 507.69,582.91 509.59,581.6 511.5,580.31 513.41,579.05 515.32,577.81 517.23,576.6 519.14,575.41 521.04,574.25 522.19,573.56 522.95,573.11 523.14,573.13 523.33,573.16 523.53,573.19 523.72,573.21 523.91,573.24 524.1,573.27 524.29,573.29 524.48,573.32 524.67,573.35 524.86,573.37 525.05,573.4 525.24,573.43 525.62,573.48 526.01,573.53 526.39,573.58 526.77,573.64 527.15,573.69 527.53,573.74 527.92,573.79 528.3,573.84 528.68,573.9 529.06,573.95 529.44,574 529.82,574.05 530.21,574.1 530.59,574.15 532.11,574.36 533.64,574.56 535.17,574.76 536.69,574.96 538.22,575.16 539.75,575.36 541.27,575.55 542.8,575.74 544.33,575.93 545.86,576.12 547.38,576.31 548.91,576.49 550.44,576.68 553.49,577.04 556.54,577.4 559.6,577.75 562.65,578.09 565.7,578.43 568.76,578.76 571.81,579.09 574.86,579.41 577.92,579.73 580.97,580.04 584.02,580.34 587.08,580.64 590.13,580.94 593.19,581.23 596.24,581.51 599.29,581.79 602.35,582.07 605.4,582.33 608.45,582.6 611.51,582.86 614.56,583.12 617.61,583.37 620.67,583.61 623.72,583.86 626.78,584.1 629.83,584.33 632.88,584.56 635.94,584.79 637.46,584.9" fill="none" stroke="#9a4fa0" stroke-width="1.35" stroke-linejoin="round" />
<polyline points="489.6,597.6 489.6,597.28 489.6,596.95 489.75,596.63 490.13,596.31 490.51,596 490.89,595.68 491.65,595.05 492.42,594.42 493.18,593.8 494.33,592.88 495.47,591.97 496.62,591.07 498.14,589.89 500.05,588.44 501.96,587.02 503.87,585.62 505.78,584.25 507.69,582.91 509.59,581.6 511.5,580.31 513.41,579.05 515.32,577.81 517.23,576.6 519.14,575.41 521.04,574.25 522.19,573.56 522.95,573.11 523.14,573.13 523.33,573.16 523.53,573.19 523.72,573.21 523.91,573.24 524.1,573.27 524.29,573.29 524.48,573.32 524.67,573.35 524.86,573.37 525.05,573.4 525.24,573.43 525.62,573.48 526.01,573.53 526.39,573.58 526.77,573.64 527.15,573.69 527.53,573.74 527.92,573.79 528.3,573.84 528.68,573.9 529.06,573.95 529.44,574 529.82,574.05 530.21,574.1 530.59,574.15 532.11,574.36 533.64,574.56 535.17,574.76 536.69,574.96 538.22,575.16 539.75,575.36 541.27,575.55 542.8,575.74 544.33,575.93 545.86,576.12 547.38,576.31 548.91,576.49 550.44,576.68 553.49,577.04 556.54,577.4 559.6,577.75 562.65,578.09 565.7,578.43 568.76,578.76 571.81,579.09 574.86,579.41 577.92,579.73 580.97,580.04 584.02,580.34 587.08,580.64 590.13,580.94 593.19,581.23 596.24,581.51 599.29,581.79 602.35,582.07 605.4,582.33 608.45,582.6 611.51,582.86 614.56,583.12 617.61,583.37 620.67,583.61 623.72,583.86 626.78,584.1 629.83,584.33 632.88,584.56 635.94,584.79 637.46,584.9" fill="none" stroke="#2c3f9c" stroke-width="1.35" stroke-linejoin="round" />
<line x1="522.95" y1="573.11" x2="523.07" y2="571.39" stroke="#2c3f9c" stroke-width="1.2" />
<polyline points="489.6,597.6 489.6,597.03 489.6,596.45 489.75,595.88 490.13,595.31 490.51,594.75 490.89,594.18 491.65,593.06 492.42,591.95 493.18,590.85 494.33,589.21 495.47,587.59 496.62,586 498.14,583.89 500.05,581.31 501.96,578.78 503.87,576.3 505.78,573.87 507.69,571.49 509.59,569.16 511.5,566.87 513.41,564.62 515.32,562.42 517.23,560.27 519.14,558.16 521.04,556.08 522.19,554.86 522.95,554.05 523.14,554.1 523.33,554.15 523.53,554.2 523.72,554.25 523.91,554.3 524.1,554.35 524.29,554.39 524.48,554.44 524.67,554.49 524.86,554.54 525.05,554.59 525.24,554.63 525.62,554.73 526.01,554.83 526.39,554.92 526.77,555.02 527.15,555.11 527.53,555.21 527.92,555.3 528.3,555.4 528.68,555.49 529.06,555.58 529.44,555.68 529.82,555.77 530.21,555.86 530.59,555.96 532.11,556.33 533.64,556.7 535.17,557.06 536.69,557.42 538.22,557.78 539.75,558.13 541.27,558.48 542.8,558.83 544.33,559.18 545.86,559.52 547.38,559.86 548.91,560.19 550.44,560.52 553.49,561.18 556.54,561.83 559.6,562.46 562.65,563.08 565.7,563.69 568.76,564.3 571.81,564.89 574.86,565.46 577.92,566.03 580.97,566.59 584.02,567.14 587.08,567.68 590.13,568.21 593.19,568.73 596.24,569.24 599.29,569.75 602.35,570.24 605.4,570.72 608.45,571.2 611.51,571.67 614.56,572.13 617.61,572.58 620.67,573.02 623.72,573.46 626.78,573.89 629.83,574.31 632.88,574.72 635.94,575.12 637.46,575.32" fill="none" stroke="#2ea655" stroke-width="1.35" stroke-linejoin="round" />
<line x1="522.95" y1="554.05" x2="523.07" y2="547.5" stroke="#2ea655" stroke-width="1.2" />
<polyline points="489.6,597.6 489.6,596.36 489.6,595.14 489.75,593.93 490.13,592.74 490.51,591.56 490.89,590.39 491.65,588.09 492.42,585.84 493.18,583.64 494.33,580.42 495.47,577.32 496.62,574.31 498.14,570.45 500.05,565.86 501.96,561.52 503.87,557.4 505.78,553.51 507.69,549.83 509.59,546.34 511.5,543.04 513.41,539.92 515.32,536.96 517.23,534.16 519.14,531.52 521.04,529.01 522.19,527.57 522.95,526.64 523.14,526.72 523.33,526.81 523.53,526.89 523.72,526.98 523.91,527.06 524.1,527.15 524.29,527.23 524.48,527.32 524.67,527.4 524.86,527.49 525.05,527.57 525.24,527.65 525.62,527.82 526.01,527.99 526.39,528.16 526.77,528.32 527.15,528.49 527.53,528.66 527.92,528.82 528.3,528.99 528.68,529.15 529.06,529.32 529.44,529.48 529.82,529.65 530.21,529.81 530.59,529.97 532.11,530.62 533.64,531.26 535.17,531.9 536.69,532.53 538.22,533.15 539.75,533.77 541.27,534.38 542.8,534.98 544.33,535.58 545.86,536.18 547.38,536.77 548.91,537.35 550.44,537.93 553.49,539.06 556.54,540.18 559.6,541.28 562.65,542.35 565.7,543.4 568.76,544.44 571.81,545.45 574.86,546.44 577.92,547.42 580.97,548.38 584.02,549.32 587.08,550.24 590.13,551.14 593.19,552.03 596.24,552.89 599.29,553.75 602.35,554.58 605.4,555.4 608.45,556.21 611.51,557 614.56,557.77 617.61,558.53 620.67,559.28 623.72,560.01 626.78,560.72 629.83,561.43 632.88,562.12 635.94,562.79 637.46,563.13" fill="none" stroke="#d8283c" stroke-width="1.35" stroke-linejoin="round" />
<line x1="522.95" y1="526.64" x2="523.07" y2="526.03" stroke="#d8283c" stroke-width="1.2" />
<line x1="489.6" y1="496.3" x2="489.6" y2="598.2" stroke="#222" stroke-width="1.2" />
<line x1="486.6" y1="597.6" x2="641.88" y2="597.6" stroke="#222" stroke-width="1.2" />
<text x="486.6" y="600.6" font-size="8.5" text-anchor="end" font-weight="normal" fill="#222" >0</text>
<line x1="486.6" y1="577.44" x2="489.6" y2="577.44" stroke="#222" stroke-width="1.0" />
<text x="486.6" y="580.44" font-size="8.5" text-anchor="end" font-weight="normal" fill="#222" >20</text>
<line x1="486.6" y1="557.28" x2="489.6" y2="557.28" stroke="#222" stroke-width="1.0" />
<text x="486.6" y="560.28" font-size="8.5" text-anchor="end" font-weight="normal" fill="#222" >40</text>
<line x1="486.6" y1="537.12" x2="489.6" y2="537.12" stroke="#222" stroke-width="1.0" />
<text x="486.6" y="540.12" font-size="8.5" text-anchor="end" font-weight="normal" fill="#222" >60</text>
<line x1="486.6" y1="516.96" x2="489.6" y2="516.96" stroke="#222" stroke-width="1.0" />
<text x="486.6" y="519.96" font-size="8.5" text-anchor="end" font-weight="normal" fill="#222" >80</text>
<line x1="486.6" y1="496.8" x2="489.6" y2="496.8" stroke="#222" stroke-width="1.0" />
<text x="486.6" y="499.8" font-size="8.5" text-anchor="end" font-weight="normal" fill="#222" >100</text>
<line x1="526.77" y1="597.6" x2="526.77" y2="600.6" stroke="#222" stroke-width="1.0" />
<text x="527.37" y="609.6" font-size="8.5" text-anchor="middle" font-weight="normal" fill="#222" >100</text>
<line x1="564.94" y1="597.6" x2="564.94" y2="600.6" stroke="#222" stroke-width="1.0" />
<text x="565.54" y="609.6" font-size="8.5" text-anchor="middle" font-weight="normal" fill="#222" >200</text>
<line x1="603.11" y1="597.6" x2="603.11" y2="600.6" stroke="#222" stroke-width="1.0" />
<text x="603.71" y="609.6" font-size="8.5" text-anchor="middle" font-weight="normal" fill="#222" >300</text>
<line x1="641.28" y1="597.6" x2="641.28" y2="600.6" stroke="#222" stroke-width="1.0" />
<text x="641.88" y="609.6" font-size="8.5" text-anchor="middle" font-weight="normal" fill="#222" >400</text>
<text x="565.74" y="620.3" font-size="8.5" text-anchor="middle" font-weight="normal" fill="#222" >Time(s)</text>
<text x="471.4" y="545.8" font-size="9" text-anchor="middle" fill="#222" transform="rotate(-90 471.4 545.8)">Ru</text>
<text x="540" y="495.2" font-size="8.6" text-anchor="start" font-weight="normal" fill="#222" >RBD-K417N-nCoV617</text>
<text x="542.9" y="518.9" font-size="8.5" fill="#222">KD(M)= 4.72x10<tspan font-size="5.4" dy="-3.6">-9</tspan></text>
<line x1="641.8" y1="531.8" x2="652.9" y2="531.8" stroke="#2a3590" stroke-width="1.3" />
<text x="656.3" y="534.8" font-size="8.4" text-anchor="start" font-weight="normal" fill="#222" >0.05ug/ml</text>
<line x1="641.8" y1="543.44" x2="652.9" y2="543.44" stroke="#f0a848" stroke-width="1.3" />
<text x="656.3" y="546.44" font-size="8.4" text-anchor="start" font-weight="normal" fill="#222" >0.1ug/ml</text>
<line x1="641.8" y1="555.08" x2="652.9" y2="555.08" stroke="#a868b0" stroke-width="1.3" />
<text x="656.3" y="558.08" font-size="8.4" text-anchor="start" font-weight="normal" fill="#222" >0.2ug/ml</text>
<line x1="641.8" y1="566.72" x2="652.9" y2="566.72" stroke="#3aa860" stroke-width="1.3" />
<text x="656.3" y="569.72" font-size="8.4" text-anchor="start" font-weight="normal" fill="#222" >0.4ug/ml</text>
<line x1="641.8" y1="578.36" x2="652.9" y2="578.36" stroke="#d8404e" stroke-width="1.3" />
<text x="656.3" y="581.36" font-size="8.4" text-anchor="start" font-weight="normal" fill="#222" >0.8ug/ml</text>
<line x1="641.8" y1="590" x2="652.9" y2="590" stroke="#4a62b0" stroke-width="1.3" />
<text x="656.3" y="593" font-size="8.4" text-anchor="start" font-weight="normal" fill="#222" >0.2ug/ml</text>
</svg></body></html>
